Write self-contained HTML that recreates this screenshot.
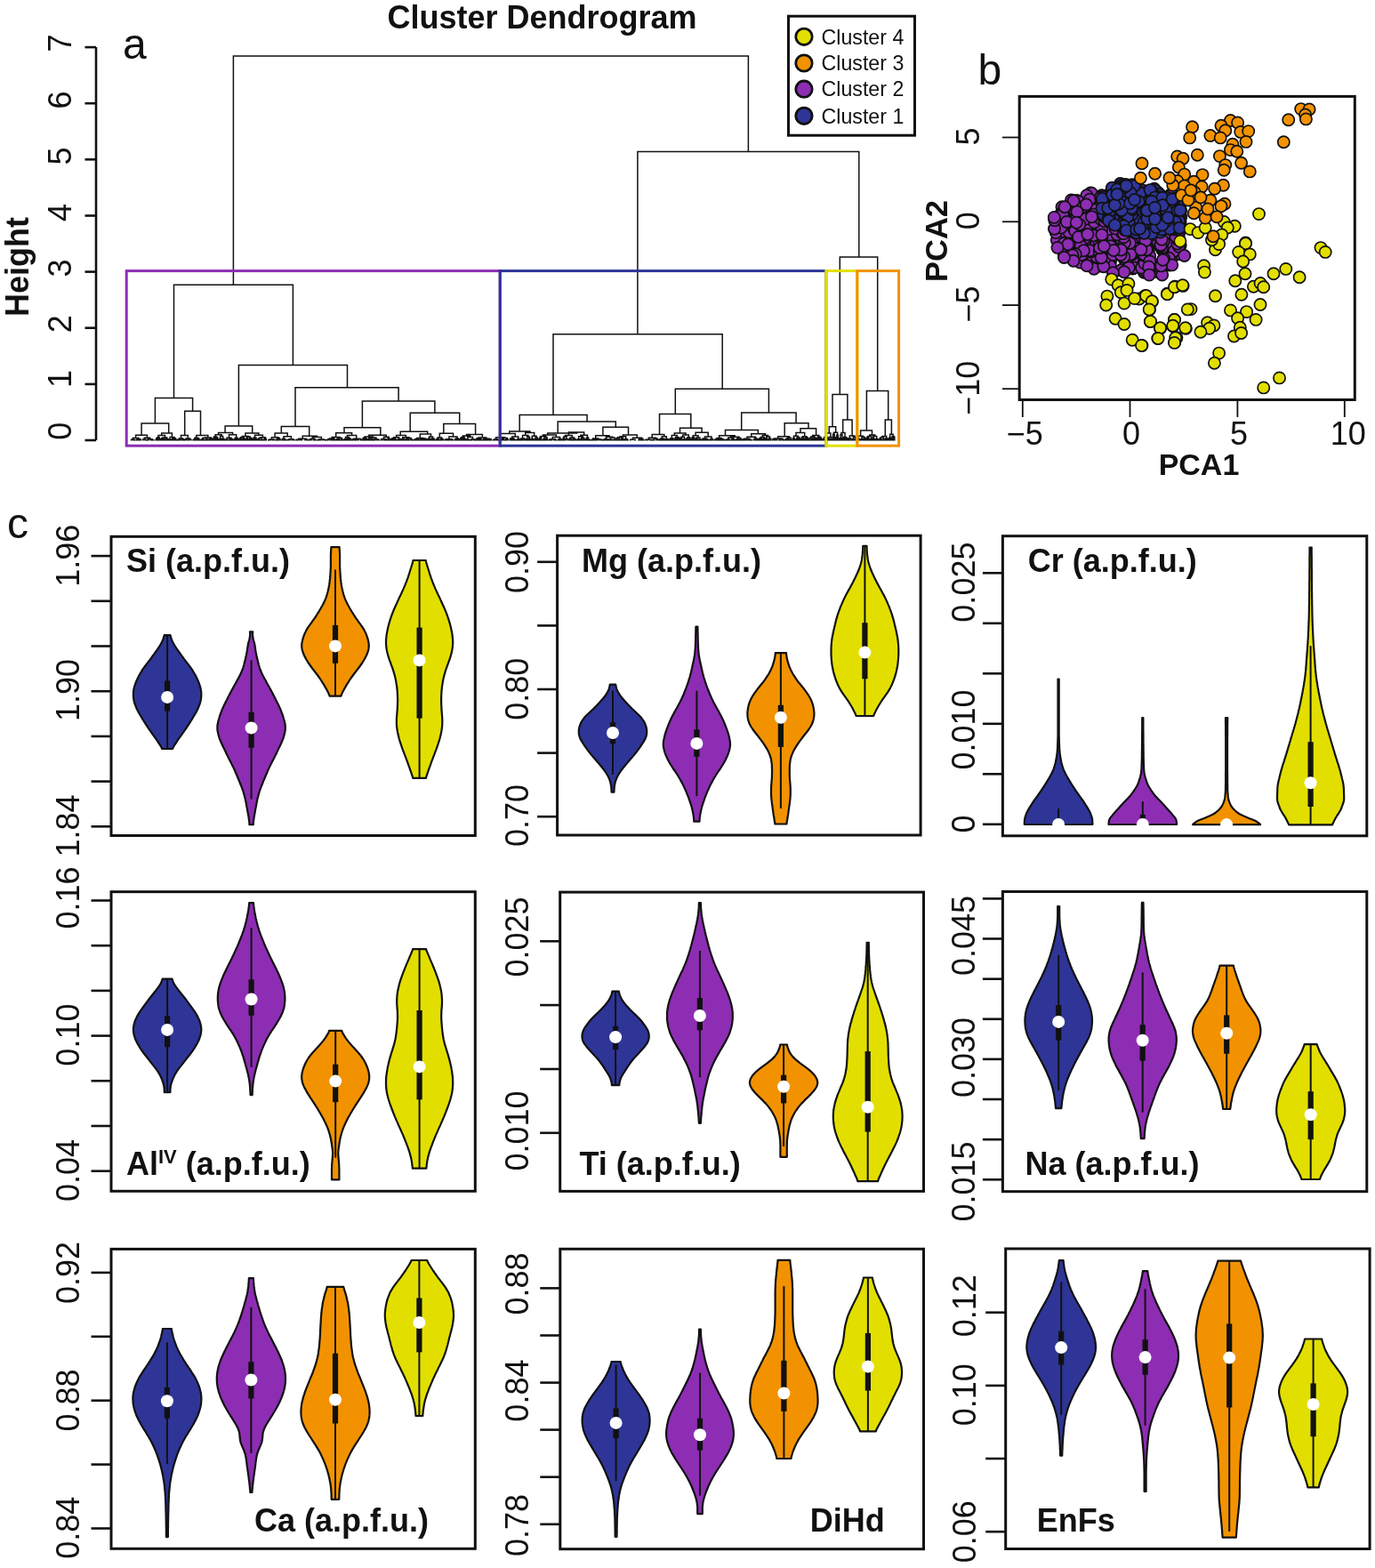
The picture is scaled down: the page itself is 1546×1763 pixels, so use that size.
<!DOCTYPE html><html><head><meta charset="utf-8"><title>Cluster analysis figure</title><style>html,body{margin:0;padding:0;background:#fff;}svg{display:block;}</style></head><body><svg xmlns="http://www.w3.org/2000/svg" width="1546" height="1763" viewBox="0 0 1546 1763" font-family="'Liberation Sans', Arial, Helvetica, sans-serif"><rect width="100%" height="100%" fill="#fff"/><line x1="108" y1="53.1" x2="108" y2="495" stroke="#111111" stroke-width="2.6" stroke-linecap="butt"/>
<line x1="95.5" y1="495" x2="108" y2="495" stroke="#111111" stroke-width="2.6" stroke-linecap="butt"/>
<text transform="translate(79.8,484.8) rotate(-90)" font-size="36" text-anchor="middle" fill="#111111">0</text>
<line x1="95.5" y1="431.9" x2="108" y2="431.9" stroke="#111111" stroke-width="2.6" stroke-linecap="butt"/>
<text transform="translate(79.8,426.1) rotate(-90)" font-size="36" text-anchor="middle" fill="#111111">1</text>
<line x1="95.5" y1="368.7" x2="108" y2="368.7" stroke="#111111" stroke-width="2.6" stroke-linecap="butt"/>
<text transform="translate(79.8,364.2) rotate(-90)" font-size="36" text-anchor="middle" fill="#111111">2</text>
<line x1="95.5" y1="305.6" x2="108" y2="305.6" stroke="#111111" stroke-width="2.6" stroke-linecap="butt"/>
<text transform="translate(79.8,301.6) rotate(-90)" font-size="36" text-anchor="middle" fill="#111111">3</text>
<line x1="95.5" y1="242.5" x2="108" y2="242.5" stroke="#111111" stroke-width="2.6" stroke-linecap="butt"/>
<text transform="translate(79.8,239) rotate(-90)" font-size="36" text-anchor="middle" fill="#111111">4</text>
<line x1="95.5" y1="179.3" x2="108" y2="179.3" stroke="#111111" stroke-width="2.6" stroke-linecap="butt"/>
<text transform="translate(79.8,175.6) rotate(-90)" font-size="36" text-anchor="middle" fill="#111111">5</text>
<line x1="95.5" y1="116.2" x2="108" y2="116.2" stroke="#111111" stroke-width="2.6" stroke-linecap="butt"/>
<text transform="translate(79.8,112.4) rotate(-90)" font-size="36" text-anchor="middle" fill="#111111">6</text>
<line x1="95.5" y1="53.1" x2="108" y2="53.1" stroke="#111111" stroke-width="2.6" stroke-linecap="butt"/>
<text transform="translate(79.8,48.4) rotate(-90)" font-size="36" text-anchor="middle" fill="#111111">7</text>
<text transform="translate(32.2,300) rotate(-90)" font-size="36" font-weight="bold" text-anchor="middle" fill="#111111">Height</text>
<text x="609.5" y="32" font-size="36" font-weight="bold" text-anchor="middle" fill="#111111">Cluster Dendrogram</text>
<text x="138" y="66" font-size="48" text-anchor="start" fill="#111111">a</text>
<path d="M149.9 495.4V494.7H151.9V495.4M147.6 495.4V494.3H150.9V494.7M153.7 495.4V494.4H154.6V495.4M156.2 495.4V494.6H157.5V495.4M156.8 494.6V494.1H158.5V495.4M154.2 494.4V493.7H157.7V494.1M149.3 494.3V492.6H155.9V493.7M163.1 495.4V494.6H164.1V495.4M160.8 495.4V494.1H163.6V494.6M165.5 495.4V494.8H167.1V495.4M169.5 495.4V494.7H172.9V495.4M166.3 494.8V493.8H171.2V494.7M162.2 494.1V492.2H168.7V493.8M152.6 492.6V489.3H165.5V492.2M175.2 495.4V494.3H176.6V495.4M175.9 494.3V492.8H177.7V495.4M178.7 495.4V493.6H179.8V495.4M176.8 492.8V491.7H179.2V493.6M181.2 495.4V493.6H182.6V495.4M183.8 495.4V493.6H184.8V495.4M181.9 493.6V492.6H184.3V493.6M186.2 495.4V494.2H187.4V495.4M188.4 495.4V493.9H189.3V495.4M186.8 494.2V493.6H188.9V493.9M183.1 492.6V491.9H187.8V493.6M178 491.7V489.6H185.5V491.9M191.5 495.4V494.6H192.5V495.4M190.2 495.4V493.9H192V494.6M193.3 495.4V494.3H194.2V495.4M193.8 494.3V493.1H195.3V495.4M197.2 495.4V494.4H198.2V495.4M196.4 495.4V493.2H197.7V494.4M194.5 493.1V492.5H197V493.2M191.1 493.9V491.4H195.8V492.5M181.7 489.6V486.9H193.4V491.4M199.5 495.4V494.5H200.9V495.4M200.2 494.5V494.2H202.2V495.4M203.9 495.4V494.3H205.5V495.4M206.3 495.4V494.2H207.2V495.4M204.7 494.3V493.9H206.8V494.2M201.2 494.2V493.1H205.7V493.9M208.2 495.4V494.3H210V495.4M211.7 495.4V494.7H212.7V495.4M212.2 494.7V494.1H214.8V495.4M209.1 494.3V492.9H213.5V494.1M203.5 493.1V489.6H211.3V492.9M217.1 495.4V494.7H218.4V495.4M217.8 494.7V494.1H220V495.4M220.9 495.4V493.6H221.9V495.4M223.1 495.4V494.4H224.6V495.4M221.4 493.6V493H223.8V494.4M218.9 494.1V492.3H222.6V493M226 495.4V494.5H227.2V495.4M226.6 494.5V493.9H228.6V495.4M230 495.4V494.7H231.2V495.4M230.6 494.7V494.5H232.6V495.4M233.6 495.4V494.5H234.4V495.4M231.6 494.5V494.2H234V494.5M227.6 493.9V492.6H232.8V494.2M235.4 495.4V493.7H236.2V495.4M235.8 493.7V493.4H237.1V495.4M237.8 495.4V494H238.7V495.4M236.5 493.4V492.9H238.3V494M230.2 492.6V491.9H237.4V492.9M220.7 492.3V489.6H233.8V491.9M240 495.4V492.4H241.1V495.4M242.1 495.4V492.7H242.9V495.4M243.9 495.4V493.5H245.3V495.4M242.5 492.7V491.8H244.6V493.5M240.6 492.4V490.9H243.6V491.8M246.6 495.4V493.9H247.5V495.4M247.1 493.9V493.3H248.2V495.4M249 495.4V494.1H249.9V495.4M251.3 495.4V494.5H252.5V495.4M249.5 494.1V493.3H251.9V494.5M247.6 493.3V490.4H250.7V493.3M242.1 490.9V488.8H249.2V490.4M253.6 495.4V494.6H254.5V495.4M254 494.6V494H255.9V495.4M257.6 495.4V494.4H258.6V495.4M258.1 494.4V493.8H259.6V495.4M261.4 495.4V494.6H262.2V495.4M260.6 495.4V494.3H261.8V494.6M258.9 493.8V493.4H261.2V494.3M255 494V492.3H260V493.4M263.5 495.4V493.8H265V495.4M266.4 495.4V493.4H267.8V495.4M264.3 493.8V492.2H267.1V493.4M257.5 492.3V488.7H265.7V492.2M245.6 488.8V486.4H261.6V488.7M268.9 495.4V493.7H269.9V495.4M270.9 495.4V494H271.8V495.4M269.4 493.7V493H271.4V494M272.8 495.4V494H273.6V495.4M274.5 495.4V493.6H275.8V495.4M273.2 494V493.2H275.1V493.6M270.4 493V491.7H274.2V493.2M277.2 495.4V492.6H278.4V495.4M279.8 495.4V494.1H281.1V495.4M282.1 495.4V493H283.1V495.4M280.5 494.1V492.4H282.6V493M277.8 492.6V491.3H281.5V492.4M272.3 491.7V490.4H279.7V491.3M284.5 495.4V493.8H285.8V495.4M288.4 495.4V494.5H289.2V495.4M287.1 495.4V493.6H288.8V494.5M285.1 493.8V491.9H287.9V493.6M290.4 495.4V494.1H291.6V495.4M292.5 495.4V494.6H293.7V495.4M295 495.4V494.6H296.2V495.4M293.1 494.6V494.4H295.6V494.6M291 494.1V492.6H294.4V494.4M298.2 495.4V493.6H299.3V495.4M297.3 495.4V492.3H298.7V493.6M292.7 492.6V491.7H298V492.3M286.5 491.9V489.3H295.4V491.7M276 490.4V487H290.9V489.3M301.7 495.4V494.7H304.2V495.4M306.4 495.4V494.5H309.1V495.4M303 494.7V494H307.8V494.5M310.9 495.4V494.3H312V495.4M313.4 495.4V494.1H315.2V495.4M311.5 494.3V492.5H314.3V494.1M305.4 494V491.7H312.9V492.5M317 495.4V494H318.4V495.4M319.8 495.4V494.4H320.8V495.4M317.7 494V493.2H320.3V494.4M322.4 495.4V494.6H324.4V495.4M323.4 494.6V494.5H326.6V495.4M328.9 495.4V494.4H330.9V495.4M325 494.5V493.8H329.9V494.4M319 493.2V490.8H327.4V493.8M309.1 491.7V486.9H323.2V490.8M332.9 495.4V494.6H334.5V495.4M336.4 495.4V494.6H339.5V495.4M333.7 494.6V494.3H338V494.6M345.5 495.4V494.6H347.2V495.4M342.9 495.4V494.4H346.4V494.6M335.8 494.3V493.2H344.6V494.4M348.4 495.4V494.1H350.3V495.4M353.7 495.4V494.7H355.1V495.4M352.4 495.4V494.1H354.4V494.7M349.4 494.1V493.3H353.4V494.1M356.9 495.4V494.8H358.2V495.4M359.3 495.4V494.8H360.2V495.4M357.6 494.8V494.5H359.8V494.8M365.3 495.4V494.7H366.8V495.4M362.4 495.4V494.5H366.1V494.7M358.7 494.5V494H364.2V494.5M351.4 493.3V491.4H361.4V494M340.2 493.2V490.3H356.4V491.4M368.2 495.4V494.2H370.2V495.4M371.9 495.4V494.2H373V495.4M369.2 494.2V493.6H372.4V494.2M374.1 495.4V494.4H375.1V495.4M376.1 495.4V494.4H377V495.4M374.6 494.4V493.9H376.6V494.4M370.8 493.6V493.1H375.6V493.9M378 495.4V494.4H379.4V495.4M380.9 495.4V494.6H381.9V495.4M378.7 494.4V493.4H381.4V494.6M383 495.4V494.7H384V495.4M384.9 495.4V494.6H386.1V495.4M383.5 494.7V494.3H385.5V494.6M380.1 493.4V492.4H384.5V494.3M373.2 493.1V491.5H382.3V492.4M387.4 495.4V494.1H388.2V495.4M387.8 494.1V493.6H389.2V495.4M390.5 495.4V493.3H391.5V495.4M392.2 495.4V494.5H393.2V495.4M394.3 495.4V494.4H395.3V495.4M392.7 494.5V494.2H394.8V494.4M391 493.3V492.8H393.8V494.2M388.5 493.6V491.6H392.4V492.8M398 495.4V494.6H399.3V495.4M396.3 495.4V494.1H398.7V494.6M400.6 495.4V494.4H403.1V495.4M405.4 495.4V494.8H406.7V495.4M401.8 494.4V493.6H406V494.8M397.5 494.1V493.3H403.9V493.6M390.4 491.6V489.4H400.7V493.3M377.7 491.5V486.8H395.6V489.4M408.1 495.4V492.8H409.2V495.4M409.9 495.4V493.5H410.9V495.4M411.7 495.4V493.9H412.8V495.4M410.4 493.5V493.1H412.3V493.9M408.6 492.8V492.2H411.3V493.1M414.1 495.4V493.7H415.3V495.4M416.7 495.4V494.6H417.8V495.4M417.2 494.6V494.1H418.8V495.4M414.7 493.7V492.6H418V494.1M419.7 495.4V494.6H420.5V495.4M420.1 494.6V494.2H421.6V495.4M423.5 495.4V494.5H426.3V495.4M420.8 494.2V493.8H424.9V494.5M416.3 492.6V492H422.9V493.8M410 492.2V490.9H419.6V492M428.4 495.4V494.1H430V495.4M432 495.4V494.7H433.5V495.4M432.8 494.7V494.3H434.8V495.4M429.2 494.1V493.4H433.8V494.3M437.3 495.4V494.3H438.4V495.4M436.2 495.4V492.5H437.8V494.3M431.5 493.4V491.2H437V492.5M414.8 490.9V489.3H434.2V491.2M441.1 495.4V494.6H442.1V495.4M439.7 495.4V493.8H441.6V494.6M442.9 495.4V494.3H443.9V495.4M445 495.4V494.8H445.9V495.4M443.4 494.3V494H445.4V494.8M440.7 493.8V492.8H444.4V494M447.1 495.4V494.7H448.3V495.4M447.7 494.7V493.4H449.5V495.4M442.6 492.8V491.8H448.6V493.4M451.8 495.4V494.7H452.7V495.4M450.8 495.4V493.8H452.2V494.7M453.6 495.4V493.7H454.4V495.4M451.5 493.8V493.4H454V493.7M455.7 495.4V494.5H457.2V495.4M458.3 495.4V493.9H459.3V495.4M456.4 494.5V493.5H458.8V493.9M462.8 495.4V494.7H464.6V495.4M460.9 495.4V494.3H463.7V494.7M457.6 493.5V492.4H462.3V494.3M452.8 493.4V491.7H460V492.4M445.6 491.8V489.6H456.4V491.7M467.5 495.4V494.2H468.6V495.4M466.2 495.4V494H468V494.2M469.7 495.4V494.4H471.2V495.4M467.1 494V493.6H470.4V494.4M473.8 495.4V494.5H474.8V495.4M472.6 495.4V493.7H474.3V494.5M477.3 495.4V494.7H478.3V495.4M476 495.4V493.9H477.8V494.7M479.3 495.4V494.2H480.3V495.4M476.9 493.9V493.4H479.8V494.2M473.4 493.7V492.9H478.4V493.4M468.8 493.6V492.4H475.9V492.9M481.1 495.4V493.7H482.1V495.4M481.6 493.7V493.3H483.4V495.4M484.6 495.4V494.5H485.6V495.4M486.6 495.4V494.6H487.7V495.4M487.1 494.6V494.4H489V495.4M485.1 494.5V492.9H488.1V494.4M482.5 493.3V490.9H486.6V492.9M472.3 492.4V487.9H484.5V490.9M490.2 495.4V494.6H491.3V495.4M492.5 495.4V494.8H493.9V495.4M490.8 494.6V493.6H493.2V494.8M495.3 495.4V494H496.2V495.4M497.1 495.4V494H498.2V495.4M495.7 494V493.6H497.6V494M492 493.6V492H496.7V493.6M501.6 495.4V494.7H502.6V495.4M504 495.4V494.6H505.5V495.4M502.1 494.7V494.4H504.7V494.6M500 495.4V494.2H503.4V494.4M507.1 495.4V494.8H509.3V495.4M501.7 494.2V493.8H508.2V494.8M511.2 495.4V494.7H512.4V495.4M511.8 494.7V493.4H513.7V495.4M514.8 495.4V493.7H516V495.4M512.8 493.4V492.9H515.4V493.7M504.9 493.8V490.9H514.1V492.9M494.3 492V487.2H509.5V490.9M517.3 495.4V493.9H518.2V495.4M519.2 495.4V493.8H520.4V495.4M517.7 493.9V492.4H519.8V493.8M522.3 495.4V494H523.1V495.4M521.3 495.4V492.8H522.7V494M518.8 492.4V491.4H522V492.8M523.8 495.4V494.3H525V495.4M526.3 495.4V494.5H527.4V495.4M524.4 494.3V493.9H526.9V494.5M528.7 495.4V494.8H530.6V495.4M532.6 495.4V494.2H534V495.4M529.7 494.8V493.9H533.3V494.2M525.6 493.9V491.5H531.5V493.9M520.4 491.4V490H528.6V491.5M535.3 495.4V493.9H536.8V495.4M538.1 495.4V493.4H539.2V495.4M540.4 495.4V494.5H541.2V495.4M538.7 493.4V493.1H540.8V494.5M536.1 493.9V492.7H539.7V493.1M542.2 495.4V494.6H543.4V495.4M542.8 494.6V494.4H544.8V495.4M546.3 495.4V494.4H547.6V495.4M548.8 495.4V494.7H549.9V495.4M547 494.4V493.9H549.4V494.7M551.2 495.4V494.7H552.7V495.4M548.2 493.9V493.5H552V494.7M543.8 494.4V493.2H550.1V493.5M537.9 492.7V491.9H546.9V493.2M524.5 490V488.4H542.4V491.9M554.7 495.4V494.8H556.8V495.4M558.6 495.4V494.7H560.5V495.4M555.7 494.8V493.7H559.5V494.7M562.6 495.4V494.7H564.3V495.4M565.9 495.4V494.5H566.7V495.4M563.5 494.7V494H566.3V494.5M568.1 495.4V494.8H569.8V495.4M568.9 494.8V494H571.6V495.4M564.9 494V492.6H570.3V494M557.6 493.7V491.7H567.6V492.6M573.6 495.4V493.8H574.7V495.4M575.6 495.4V494.4H576.8V495.4M578 495.4V494.7H579.4V495.4M576.2 494.4V493.7H578.7V494.7M574.1 493.8V492.8H577.4V493.7M580.6 495.4V494.7H581.6V495.4M581.1 494.7V494.5H582.7V495.4M581.9 494.5V493.5H583.7V495.4M575.8 492.8V491H582.8V493.5M562.6 491.7V487.5H579.3V491M584.8 495.4V494.8H585.7V495.4M585.2 494.8V494H586.7V495.4M589.7 495.4V494H591.1V495.4M588 495.4V493.5H590.4V494M585.9 494V492.9H589.2V493.5M593 495.4V494.4H593.8V495.4M592.1 495.4V493.8H593.4V494.4M594.7 495.4V492.1H595.5V495.4M592.7 493.8V491.1H595.1V492.1M587.6 492.9V489.6H593.9V491.1M596.6 495.4V494.5H597.8V495.4M598.8 495.4V494H600V495.4M597.2 494.5V493.5H599.4V494M601.3 495.4V494H602.5V495.4M604.5 495.4V493.9H605.4V495.4M603.6 495.4V493.4H604.9V493.9M601.9 494V492H604.2V493.4M598.3 493.5V490.2H603.1V492M590.7 489.6V486.4H600.7V490.2M606.6 495.4V492.5H607.6V495.4M607.1 492.5V491.5H608.7V495.4M610.2 495.4V494.7H611.7V495.4M611 494.7V493.6H613V495.4M614.1 495.4V492.3H615.2V495.4M612 493.6V491.2H614.6V492.3M607.9 491.5V490.4H613.3V491.2M618.8 495.4V494.7H620.6V495.4M616.8 495.4V494.5H619.7V494.7M623 495.4V494.8H625.7V495.4M618.3 494.5V493.7H624.4V494.8M627.6 495.4V494.4H629.1V495.4M631 495.4V494.4H631.8V495.4M630.2 495.4V493.9H631.4V494.4M628.3 494.4V493.6H630.8V493.9M621.3 493.7V491.6H629.6V493.6M610.6 490.4V489H625.4V491.6M632.8 495.4V493.9H633.7V495.4M633.3 493.9V492.2H634.5V495.4M635.9 495.4V493.8H638.2V495.4M633.9 492.2V491H637.1V493.8M639.9 495.4V493.6H640.7V495.4M641.5 495.4V494.5H642.3V495.4M640.3 493.6V493.2H641.9V494.5M643.5 495.4V494.5H644.8V495.4M647.4 495.4V494.4H648.2V495.4M646.2 495.4V494.2H647.8V494.4M644.2 494.5V493.5H647V494.2M641.1 493.2V492H645.6V493.5M635.5 491V489.4H643.3V492M649.2 495.4V494.5H650.2V495.4M651.1 495.4V494.3H652V495.4M649.7 494.5V493.8H651.5V494.3M654 495.4V494.8H655V495.4M653 495.4V493.7H654.5V494.8M656.9 495.4V494.5H657.8V495.4M655.9 495.4V494H657.4V494.5M653.7 493.7V492.3H656.7V494M650.6 493.8V490.8H655.2V492.3M658.9 495.4V493.7H660V495.4M661.7 495.4V494.5H662.8V495.4M660.8 495.4V494.1H662.3V494.5M659.4 493.7V492H661.5V494.1M652.9 490.8V489.2H660.5V492M639.4 489.4V485.9H656.7V489.2M664.3 495.4V494.8H666V495.4M667.3 495.4V494.7H668.4V495.4M665.2 494.8V494.5H667.9V494.7M669.7 495.4V494.5H671.5V495.4M675.8 495.4V494.6H677.4V495.4M673.7 495.4V494.3H676.6V494.6M670.6 494.5V494.1H675.2V494.3M666.5 494.5V492.9H672.9V494.1M678.6 495.4V494.6H679.8V495.4M679.2 494.6V494H680.8V495.4M681.6 495.4V494.5H682.4V495.4M682 494.5V494H683.5V495.4M680 494V493.4H682.8V494M684.4 495.4V494.2H685.3V495.4M686.9 495.4V494.6H688.7V495.4M684.9 494.2V494H687.8V494.6M690.3 495.4V494.2H691.6V495.4M686.3 494V492H691V494.2M681.4 493.4V491.2H688.7V492M669.7 492.9V489.8H685V491.2M692.5 495.4V494.1H693.5V495.4M694.6 495.4V494.5H695.7V495.4M696.8 495.4V494.6H697.7V495.4M695.2 494.5V494.2H697.2V494.6M693 494.1V492.5H696.2V494.2M699.8 495.4V494H700.7V495.4M698.8 495.4V492.4H700.3V494M694.6 492.5V491.7H699.5V492.4M701.9 495.4V493.9H703V495.4M705.2 495.4V494.6H706V495.4M704.2 495.4V494.3H705.6V494.6M702.5 493.9V493.6H704.9V494.3M697.1 491.7V490.8H703.7V493.6M708.6 495.4V494.2H714.2V495.4M718.1 495.4V494.2H719.1V495.4M720.3 495.4V493.9H721.2V495.4M718.6 494.2V493.4H720.7V493.9M722.1 495.4V494.6H723.3V495.4M719.7 493.4V493.1H722.7V494.6M711.4 494.2V492.3H721.2V493.1M700.4 490.8V489.1H716.3V492.3M725.2 495.4V494.5H728.1V495.4M731 495.4V494.6H733V495.4M726.6 494.5V494.2H732V494.6M734.5 495.4V494.4H735.7V495.4M740.1 495.4V494.8H741V495.4M737.9 495.4V494.3H740.6V494.8M735.1 494.4V493.1H739.2V494.3M729.3 494.2V492.3H737.2V493.1M743.2 495.4V494.2H744.2V495.4M742.1 495.4V493.8H743.7V494.2M745.3 495.4V493.7H746.2V495.4M742.9 493.8V493H745.8V493.7M747.9 495.4V494.7H748.8V495.4M747 495.4V494H748.3V494.7M749.7 495.4V494.7H750.5V495.4M751.2 495.4V494.1H752.3V495.4M750.1 494.7V493.9H751.8V494.1M747.7 494V493.4H751V493.9M744.3 493V490.8H749.3V493.4M733.2 492.3V488.4H746.8V490.8M753.3 495.4V494.2H754.2V495.4M755.4 495.4V494.5H756.4V495.4M755.9 494.5V494H757.7V495.4M753.8 494.2V492.8H756.8V494M759.1 495.4V492.6H760.5V495.4M763.3 495.4V493.2H764.2V495.4M762 495.4V492.2H763.8V493.2M759.8 492.6V491.5H762.9V492.2M755.3 492.8V489.5H761.3V491.5M765.2 495.4V492.6H766.7V495.4M768 495.4V494.6H769.1V495.4M770.2 495.4V494.5H771.1V495.4M768.6 494.6V493.7H770.7V494.5M765.9 492.6V491.2H769.6V493.7M772.3 495.4V492.7H773.7V495.4M775.1 495.4V493.4H776.2V495.4M773 492.7V491.8H775.7V493.4M767.8 491.2V489.1H774.3V491.8M758.3 489.5V486.9H771.1V489.1M777.6 495.4V493.2H778.8V495.4M779.8 495.4V493H780.7V495.4M778.2 493.2V491.8H780.3V493M781.5 495.4V494.1H782.8V495.4M782.2 494.1V492.9H784.1V495.4M785.1 495.4V494.6H786.2V495.4M787.5 495.4V494.4H788.6V495.4M785.7 494.6V494H788V494.4M783.1 492.9V491.9H786.9V494M779.2 491.8V489.8H785V491.9M789.9 495.4V493.6H791.3V495.4M792.6 495.4V493.9H793.6V495.4M795.9 495.4V494.8H796.8V495.4M794.8 495.4V494.4H796.3V494.8M793.1 493.9V493.6H795.6V494.4M790.6 493.6V493H794.3V493.6M797.9 495.4V494.4H799.5V495.4M800.8 495.4V494.3H801.7V495.4M798.7 494.4V493.4H801.2V494.3M792.5 493V490.9H800V493.4M782.1 489.8V486.2H796.2V490.9M803.5 495.4V494.5H805.3V495.4M806.6 495.4V494.4H807.5V495.4M807 494.4V494H808.3V495.4M804.4 494.5V493.7H807.7V494M809.2 495.4V493.8H810.2V495.4M811.2 495.4V494.4H812.1V495.4M813.2 495.4V494.7H814.6V495.4M811.6 494.4V494H813.9V494.7M809.7 493.8V493.4H812.8V494M806 493.7V492.4H811.2V493.4M815.9 495.4V494.7H817.1V495.4M816.5 494.7V494.3H818.3V495.4M819.4 495.4V494.6H821.1V495.4M817.4 494.3V493.9H820.2V494.6M822.8 495.4V494H823.7V495.4M824.5 495.4V494H825.5V495.4M823.2 494V493.1H825V494M818.8 493.9V492.1H824.1V493.1M826.9 495.4V494.8H828.7V495.4M829.9 495.4V494.3H830.7V495.4M827.8 494.8V493.8H830.3V494.3M831.7 495.4V494.4H832.7V495.4M832.2 494.4V493.7H833.5V495.4M829.1 493.8V492.4H832.9V493.7M821.5 492.1V491.3H831V492.4M808.6 492.4V489.7H826.2V491.3M834.9 495.4V494.5H836.3V495.4M837.6 495.4V494.4H839.2V495.4M835.6 494.5V493.8H838.4V494.4M840.9 495.4V494.6H842.4V495.4M843.6 495.4V494.7H845V495.4M841.7 494.6V494.4H844.3V494.7M837 493.8V493.2H843V494.4M847.2 495.4V494.5H849.2V495.4M850.4 495.4V493.7H851.7V495.4M848.2 494.5V493H851V493.7M840 493.2V491.3H849.6V493M852.8 495.4V494.6H853.7V495.4M853.2 494.6V493.6H854.7V495.4M855.8 495.4V493.7H857V495.4M854 493.6V492.8H856.4V493.7M858.3 495.4V493.6H859.3V495.4M858.8 493.6V492.8H860V495.4M855.2 492.8V491.4H859.4V492.8M861.1 495.4V493.2H862.5V495.4M864.6 495.4V494.7H865.5V495.4M863.7 495.4V494.5H865.1V494.7M864.4 494.5V493H866.6V495.4M861.8 493.2V491H865.5V493M857.3 491.4V489.5H863.6V491M844.8 491.3V487.8H860.5V489.5M868.4 495.4V494.2H870.4V495.4M871.8 495.4V494.6H873.9V495.4M869.4 494.2V493.3H872.9V494.6M876.1 495.4V493.6H877.3V495.4M880.7 495.4V494.8H881.6V495.4M879 495.4V494.6H881.2V494.8M876.7 493.6V493.3H880.1V494.6M871.1 493.3V492.9H878.4V493.3M882.8 495.4V494.6H883.9V495.4M883.4 494.6V493.8H884.8V495.4M886.1 495.4V494.1H887.4V495.4M884.1 493.8V493.2H886.7V494.1M888.6 495.4V494.2H890.2V495.4M885.4 493.2V492.3H889.4V494.2M874.8 492.9V490.8H887.4V492.3M891.8 495.4V492.6H893.2V495.4M894.6 495.4V494.4H895.6V495.4M896.5 495.4V494.4H897.3V495.4M895.1 494.4V493.6H896.9V494.4M898.5 495.4V493.2H899.6V495.4M896 493.6V492.1H899.1V493.2M892.5 492.6V490.2H897.5V492.1M900.5 495.4V494.3H901.3V495.4M900.9 494.3V493.4H902.1V495.4M903 495.4V493.2H904.1V495.4M901.5 493.4V491.5H903.6V493.2M905.4 495.4V493.1H906.3V495.4M907.3 495.4V492.7H908.4V495.4M905.9 493.1V491.8H907.9V492.7M902.5 491.5V490.7H906.9V491.8M895 490.2V486.6H904.7V490.7M909.5 495.4V494.2H910.7V495.4M911.8 495.4V494.5H912.8V495.4M912.3 494.5V493.5H913.8V495.4M910.1 494.2V492.4H913V493.5M916.1 495.4V492.8H917.1V495.4M914.9 495.4V491.9H916.6V492.8M911.6 492.4V491.1H915.8V491.9M918.1 495.4V493.8H919.1V495.4M918.6 493.8V492.7H920V495.4M920.9 495.4V493.1H921.8V495.4M923.6 495.4V493.9H924.5V495.4M922.7 495.4V493.6H924V493.9M921.3 493.1V492.1H923.3V493.6M919.3 492.7V491.2H922.3V492.1M913.7 491.1V489.5H920.8V491.2M926.5 495.4V494.4H927.4V495.4M927 494.4V493.7H928.4V495.4M925.6 495.4V493.4H927.7V493.7M929.7 495.4V493.7H930.8V495.4M930.3 493.7V493H931.8V495.4M926.6 493.4V491.5H931V493M934.3 495.4V493.9H935.4V495.4M933 495.4V491.3H934.9V493.9M928.8 491.5V487H933.9V491.3M938.5 495.4V493.5H939.3V495.4M937.6 495.4V491.5H938.9V493.5M936.6 495.4V488.3H938.3V491.5M940.3 495.4V491.9H941.2V495.4M941.9 495.4V492.7H943V495.4M940.8 491.9V489.2H942.4V492.7M937.4 488.3V486.2H941.6V489.2M944.4 495.4V492.8H945.7V495.4M945.1 492.8V488.5H947V495.4M948.2 495.4V492.6H949.2V495.4M950 495.4V494.1H951V495.4M950.5 494.1V492.3H952.2V495.4M948.7 492.6V491.6H951.4V492.3M946 488.5V486.4H950V491.6M953.4 495.4V493.6H954.4V495.4M955.9 495.4V494.5H957.6V495.4M953.9 493.6V492.8H956.7V494.5M959.7 495.4V494.1H960.8V495.4M958.6 495.4V493.7H960.2V494.1M961.7 495.4V493.1H962.5V495.4M959.4 493.7V491.4H962.1V493.1M955.3 492.8V490.1H960.8V491.4M966 495.4V494.6H967V495.4M965 495.4V493.8H966.5V494.6M963.6 495.4V492.9H965.7V493.8M969.3 495.4V494.7H970.2V495.4M968.2 495.4V493.7H969.8V494.7M970.8 495.4V494.4H971.9V495.4M971.3 494.4V493.1H973.3V495.4M969 493.7V491.6H972.3V493.1M964.7 492.9V490.2H970.6V491.6M974.6 495.4V492.1H975.5V495.4M977.1 495.4V494.6H978V495.4M976.3 495.4V493.9H977.5V494.6M975.1 492.1V491.3H976.9V493.9M979.1 495.4V493.4H980V495.4M976 491.3V490.4H979.5V493.4M981.9 495.4V493.2H982.8V495.4M981 495.4V492.3H982.4V493.2M983.8 495.4V494.2H985.1V495.4M986.5 495.4V494.4H987.5V495.4M984.5 494.2V493.4H987V494.4M981.7 492.3V490.6H985.7V493.4M977.8 490.4V489.1H983.7V490.6M988.6 495.4V494.2H989.7V495.4M989.1 494.2V493H990.7V495.4M991.9 495.4V494.7H993.2V495.4M992.5 494.7V494.1H994.6V495.4M989.9 493V492.1H993.6V494.1M996.9 495.4V493.7H998.1V495.4M995.9 495.4V492.8H997.5V493.7M991.7 492.1V490.6H996.7V492.8M999.3 495.4V493H1000.3V495.4M999.8 493V492.2H1001.7V495.4M1004.4 495.4V491.3H1005.8V495.4M1003.1 495.4V490.4H1005.1V491.3M1000.7 492.2V488.3H1004.1V490.4M159.1 489.3V475.9H189.7V486.9M207.7 489.6V462.2H225.5V489.6M174.4 475.9V447.4H216.6V462.2M253.1 486.4V479.1H283.7V487M316.3 486.9V479.4H347.7V490.3M387 486.8V480.8H427.8V489.3M450.2 489.6V485.2H480.7V487.9M498.8 487.2V476.5H534.6V488.4M461.2 485.2V464.2H516.7V476.5M407.4 480.8V450.9H488.9V464.2M332 479.4V435.7H448.1V450.9M268.4 479.1V410.4H390.5V435.7M195.5 447.4V320.2H329.4V410.4M572.8 487.5V484.9H595.9V486.4M615.8 489V487H648.7V485.9M677.9 489.8V480.3H706.5V489.1M627.2 487V474.1H692.3V480.3M584.2 484.9V466.5H660.1V474.1M764.5 486.9V481.2H789.1V486.2M741.5 488.4V465.5H776.8V481.2M815.5 489.7V483.4H852.4V487.8M900 486.6V481.8H917.6V489.5M882.2 490.8V475.7H909V481.8M833.7 483.4V464H895.1V475.7M759.3 465.5V437.3H864.4V464M622 466.5V375.8H812.2V437.3M932.3 487V479.7H939.7V486.2M947.7 486.4V472H958.1V490.1M936 479.7V443.4H952.9V472M967.6 490.2V484H980.5V489.1M995.3 490.6V472H1002.4V488.3M974.4 484V439.4H998.7V472M944.3 443.4V288.9H986.7V439.4M716.9 375.8V170.6H965.8V288.9M262.4 320.2V63H841.4V170.6" fill="none" stroke="#111111" stroke-width="1.5" stroke-linejoin="miter"/>
<rect x="142.2" y="304.6" width="420" height="196.6" fill="none" stroke="#8D2DB3" stroke-width="3"/>
<rect x="562.2" y="304.6" width="366.6" height="196.6" fill="none" stroke="#2E3597" stroke-width="3"/>
<rect x="928.8" y="304.6" width="35" height="196.6" fill="none" stroke="#E2DF00" stroke-width="3"/>
<rect x="963.8" y="304.6" width="46.8" height="196.6" fill="none" stroke="#F29200" stroke-width="3"/>
<rect x="886.5" y="18.2" width="142" height="134" fill="none" stroke="#111111" stroke-width="3"/>
<circle cx="904" cy="41.3" r="9.2" fill="#E2DF00" stroke="#111111" stroke-width="2.8"/>
<text x="923.5" y="49.5" font-size="23.2" text-anchor="start" fill="#111111">Cluster 4</text>
<circle cx="904" cy="71" r="9.2" fill="#F29200" stroke="#111111" stroke-width="2.8"/>
<text x="923.5" y="79.2" font-size="23.2" text-anchor="start" fill="#111111">Cluster 3</text>
<circle cx="904" cy="100.2" r="9.2" fill="#8D2DB3" stroke="#111111" stroke-width="2.8"/>
<text x="923.5" y="108.4" font-size="23.2" text-anchor="start" fill="#111111">Cluster 2</text>
<circle cx="904" cy="130.3" r="9.2" fill="#2E3597" stroke="#111111" stroke-width="2.8"/>
<text x="923.5" y="138.5" font-size="23.2" text-anchor="start" fill="#111111">Cluster 1</text>
<text x="1099.5" y="95" font-size="48" text-anchor="start" fill="#111111">b</text>
<line x1="1149.8" y1="449.5" x2="1149.8" y2="469" stroke="#111111" stroke-width="1.8" stroke-linecap="butt"/>
<text x="1152.3" y="500" font-size="36" text-anchor="middle" fill="#111111">−5</text>
<line x1="1270.5" y1="449.5" x2="1270.5" y2="469" stroke="#111111" stroke-width="1.8" stroke-linecap="butt"/>
<text x="1272" y="500" font-size="36" text-anchor="middle" fill="#111111">0</text>
<line x1="1391.4" y1="449.5" x2="1391.4" y2="469" stroke="#111111" stroke-width="1.8" stroke-linecap="butt"/>
<text x="1392.9" y="500" font-size="36" text-anchor="middle" fill="#111111">5</text>
<line x1="1511.8" y1="449.5" x2="1511.8" y2="469" stroke="#111111" stroke-width="1.8" stroke-linecap="butt"/>
<text x="1515.8" y="500" font-size="36" text-anchor="middle" fill="#111111">10</text>
<line x1="1127" y1="154.5" x2="1146.2" y2="154.5" stroke="#111111" stroke-width="1.8" stroke-linecap="butt"/>
<text transform="translate(1101.4,153.5) rotate(-90)" font-size="36" text-anchor="middle" fill="#111111">5</text>
<line x1="1127" y1="249.3" x2="1146.2" y2="249.3" stroke="#111111" stroke-width="1.8" stroke-linecap="butt"/>
<text transform="translate(1101.4,248.3) rotate(-90)" font-size="36" text-anchor="middle" fill="#111111">0</text>
<line x1="1127" y1="343.1" x2="1146.2" y2="343.1" stroke="#111111" stroke-width="1.8" stroke-linecap="butt"/>
<text transform="translate(1101.4,342.1) rotate(-90)" font-size="36" text-anchor="middle" fill="#111111">−5</text>
<line x1="1127" y1="437.2" x2="1146.2" y2="437.2" stroke="#111111" stroke-width="1.8" stroke-linecap="butt"/>
<text transform="translate(1101.4,436.2) rotate(-90)" font-size="36" text-anchor="middle" fill="#111111">−10</text>
<text x="1348" y="533.7" font-size="34" font-weight="bold" text-anchor="middle" fill="#111111">PCA1</text>
<text transform="translate(1064.5,271) rotate(-90)" font-size="34.5" font-weight="bold" text-anchor="middle" fill="#111111">PCA2</text>
<g>
<circle cx="1250" cy="266" r="6.6" fill="#8D2DB3" stroke="#111111" stroke-width="1.7"/>
<circle cx="1318.9" cy="256.6" r="6.6" fill="#8D2DB3" stroke="#111111" stroke-width="1.7"/>
<circle cx="1258.1" cy="268.7" r="6.6" fill="#8D2DB3" stroke="#111111" stroke-width="1.7"/>
<circle cx="1211" cy="261.2" r="6.6" fill="#8D2DB3" stroke="#111111" stroke-width="1.7"/>
<circle cx="1276" cy="289.3" r="6.6" fill="#8D2DB3" stroke="#111111" stroke-width="1.7"/>
<circle cx="1197.7" cy="240.3" r="6.6" fill="#8D2DB3" stroke="#111111" stroke-width="1.7"/>
<circle cx="1285.2" cy="214.2" r="6.6" fill="#8D2DB3" stroke="#111111" stroke-width="1.7"/>
<circle cx="1279.5" cy="271.6" r="6.6" fill="#8D2DB3" stroke="#111111" stroke-width="1.7"/>
<circle cx="1261.1" cy="216" r="6.6" fill="#8D2DB3" stroke="#111111" stroke-width="1.7"/>
<circle cx="1211.8" cy="234.2" r="6.6" fill="#8D2DB3" stroke="#111111" stroke-width="1.7"/>
<circle cx="1188.4" cy="256.4" r="6.6" fill="#8D2DB3" stroke="#111111" stroke-width="1.7"/>
<circle cx="1248.3" cy="294.2" r="6.6" fill="#8D2DB3" stroke="#111111" stroke-width="1.7"/>
<circle cx="1259.8" cy="274" r="6.6" fill="#8D2DB3" stroke="#111111" stroke-width="1.7"/>
<circle cx="1257" cy="276.2" r="6.6" fill="#8D2DB3" stroke="#111111" stroke-width="1.7"/>
<circle cx="1250.8" cy="237.8" r="6.6" fill="#8D2DB3" stroke="#111111" stroke-width="1.7"/>
<circle cx="1306.7" cy="280.8" r="6.6" fill="#8D2DB3" stroke="#111111" stroke-width="1.7"/>
<circle cx="1230" cy="233" r="6.6" fill="#8D2DB3" stroke="#111111" stroke-width="1.7"/>
<circle cx="1226.2" cy="217" r="6.6" fill="#8D2DB3" stroke="#111111" stroke-width="1.7"/>
<circle cx="1295.9" cy="250" r="6.6" fill="#8D2DB3" stroke="#111111" stroke-width="1.7"/>
<circle cx="1307.6" cy="248.7" r="6.6" fill="#8D2DB3" stroke="#111111" stroke-width="1.7"/>
<circle cx="1316.9" cy="257" r="6.6" fill="#8D2DB3" stroke="#111111" stroke-width="1.7"/>
<circle cx="1327.1" cy="249.7" r="6.6" fill="#8D2DB3" stroke="#111111" stroke-width="1.7"/>
<circle cx="1194.7" cy="272.9" r="6.6" fill="#8D2DB3" stroke="#111111" stroke-width="1.7"/>
<circle cx="1297.7" cy="237" r="6.6" fill="#8D2DB3" stroke="#111111" stroke-width="1.7"/>
<circle cx="1196.7" cy="243.3" r="6.6" fill="#8D2DB3" stroke="#111111" stroke-width="1.7"/>
<circle cx="1324.8" cy="285.8" r="6.6" fill="#8D2DB3" stroke="#111111" stroke-width="1.7"/>
<circle cx="1201.2" cy="234.6" r="6.6" fill="#8D2DB3" stroke="#111111" stroke-width="1.7"/>
<circle cx="1300.4" cy="227.8" r="6.6" fill="#8D2DB3" stroke="#111111" stroke-width="1.7"/>
<circle cx="1265.7" cy="254.7" r="6.6" fill="#8D2DB3" stroke="#111111" stroke-width="1.7"/>
<circle cx="1211.8" cy="283.2" r="6.6" fill="#8D2DB3" stroke="#111111" stroke-width="1.7"/>
<circle cx="1203.1" cy="274.4" r="6.6" fill="#8D2DB3" stroke="#111111" stroke-width="1.7"/>
<circle cx="1201" cy="252.1" r="6.6" fill="#8D2DB3" stroke="#111111" stroke-width="1.7"/>
<circle cx="1215.1" cy="237" r="6.6" fill="#8D2DB3" stroke="#111111" stroke-width="1.7"/>
<circle cx="1228.4" cy="298.5" r="6.6" fill="#8D2DB3" stroke="#111111" stroke-width="1.7"/>
<circle cx="1214.8" cy="249.4" r="6.6" fill="#8D2DB3" stroke="#111111" stroke-width="1.7"/>
<circle cx="1308.7" cy="274.2" r="6.6" fill="#8D2DB3" stroke="#111111" stroke-width="1.7"/>
<circle cx="1215.1" cy="235.8" r="6.6" fill="#8D2DB3" stroke="#111111" stroke-width="1.7"/>
<circle cx="1296.8" cy="242.9" r="6.6" fill="#8D2DB3" stroke="#111111" stroke-width="1.7"/>
<circle cx="1227.3" cy="217.3" r="6.6" fill="#8D2DB3" stroke="#111111" stroke-width="1.7"/>
<circle cx="1197.2" cy="268.3" r="6.6" fill="#8D2DB3" stroke="#111111" stroke-width="1.7"/>
<circle cx="1219.5" cy="270.1" r="6.6" fill="#8D2DB3" stroke="#111111" stroke-width="1.7"/>
<circle cx="1238.3" cy="255.3" r="6.6" fill="#8D2DB3" stroke="#111111" stroke-width="1.7"/>
<circle cx="1324" cy="258.4" r="6.6" fill="#8D2DB3" stroke="#111111" stroke-width="1.7"/>
<circle cx="1267.9" cy="296.7" r="6.6" fill="#8D2DB3" stroke="#111111" stroke-width="1.7"/>
<circle cx="1210.7" cy="225.4" r="6.6" fill="#8D2DB3" stroke="#111111" stroke-width="1.7"/>
<circle cx="1316.6" cy="291.8" r="6.6" fill="#8D2DB3" stroke="#111111" stroke-width="1.7"/>
<circle cx="1220.4" cy="229" r="6.6" fill="#8D2DB3" stroke="#111111" stroke-width="1.7"/>
<circle cx="1292" cy="304" r="6.6" fill="#8D2DB3" stroke="#111111" stroke-width="1.7"/>
<circle cx="1312.8" cy="270.4" r="6.6" fill="#8D2DB3" stroke="#111111" stroke-width="1.7"/>
<circle cx="1245.5" cy="220.4" r="6.6" fill="#8D2DB3" stroke="#111111" stroke-width="1.7"/>
<circle cx="1218.8" cy="280.5" r="6.6" fill="#8D2DB3" stroke="#111111" stroke-width="1.7"/>
<circle cx="1221.5" cy="292.4" r="6.6" fill="#8D2DB3" stroke="#111111" stroke-width="1.7"/>
<circle cx="1271.1" cy="239.3" r="6.6" fill="#8D2DB3" stroke="#111111" stroke-width="1.7"/>
<circle cx="1209.6" cy="282" r="6.6" fill="#8D2DB3" stroke="#111111" stroke-width="1.7"/>
<circle cx="1194" cy="232.8" r="6.6" fill="#8D2DB3" stroke="#111111" stroke-width="1.7"/>
<circle cx="1265.7" cy="295.2" r="6.6" fill="#8D2DB3" stroke="#111111" stroke-width="1.7"/>
<circle cx="1273.7" cy="238" r="6.6" fill="#8D2DB3" stroke="#111111" stroke-width="1.7"/>
<circle cx="1317.9" cy="230.4" r="6.6" fill="#8D2DB3" stroke="#111111" stroke-width="1.7"/>
<circle cx="1249.1" cy="216" r="6.6" fill="#8D2DB3" stroke="#111111" stroke-width="1.7"/>
<circle cx="1209.7" cy="246.9" r="6.6" fill="#8D2DB3" stroke="#111111" stroke-width="1.7"/>
<circle cx="1267.5" cy="223.2" r="6.6" fill="#8D2DB3" stroke="#111111" stroke-width="1.7"/>
<circle cx="1236.9" cy="299.1" r="6.6" fill="#8D2DB3" stroke="#111111" stroke-width="1.7"/>
<circle cx="1327.2" cy="275.7" r="6.6" fill="#8D2DB3" stroke="#111111" stroke-width="1.7"/>
<circle cx="1284.9" cy="268.4" r="6.6" fill="#8D2DB3" stroke="#111111" stroke-width="1.7"/>
<circle cx="1286.3" cy="306.3" r="6.6" fill="#8D2DB3" stroke="#111111" stroke-width="1.7"/>
<circle cx="1254.4" cy="283" r="6.6" fill="#8D2DB3" stroke="#111111" stroke-width="1.7"/>
<circle cx="1195" cy="264.6" r="6.6" fill="#8D2DB3" stroke="#111111" stroke-width="1.7"/>
<circle cx="1291.6" cy="300" r="6.6" fill="#8D2DB3" stroke="#111111" stroke-width="1.7"/>
<circle cx="1291.6" cy="280.4" r="6.6" fill="#8D2DB3" stroke="#111111" stroke-width="1.7"/>
<circle cx="1299.8" cy="301.5" r="6.6" fill="#8D2DB3" stroke="#111111" stroke-width="1.7"/>
<circle cx="1235.4" cy="278.5" r="6.6" fill="#8D2DB3" stroke="#111111" stroke-width="1.7"/>
<circle cx="1315.5" cy="297.1" r="6.6" fill="#8D2DB3" stroke="#111111" stroke-width="1.7"/>
<circle cx="1244.9" cy="289.1" r="6.6" fill="#8D2DB3" stroke="#111111" stroke-width="1.7"/>
<circle cx="1310.1" cy="267.3" r="6.6" fill="#8D2DB3" stroke="#111111" stroke-width="1.7"/>
<circle cx="1275.2" cy="248.2" r="6.6" fill="#8D2DB3" stroke="#111111" stroke-width="1.7"/>
<circle cx="1269.1" cy="270.9" r="6.6" fill="#8D2DB3" stroke="#111111" stroke-width="1.7"/>
<circle cx="1195.7" cy="273.9" r="6.6" fill="#8D2DB3" stroke="#111111" stroke-width="1.7"/>
<circle cx="1290.3" cy="248.8" r="6.6" fill="#8D2DB3" stroke="#111111" stroke-width="1.7"/>
<circle cx="1291.3" cy="268.1" r="6.6" fill="#8D2DB3" stroke="#111111" stroke-width="1.7"/>
<circle cx="1248.3" cy="293.8" r="6.6" fill="#8D2DB3" stroke="#111111" stroke-width="1.7"/>
<circle cx="1196.2" cy="285" r="6.6" fill="#8D2DB3" stroke="#111111" stroke-width="1.7"/>
<circle cx="1188.3" cy="270.1" r="6.6" fill="#8D2DB3" stroke="#111111" stroke-width="1.7"/>
<circle cx="1254.2" cy="233" r="6.6" fill="#8D2DB3" stroke="#111111" stroke-width="1.7"/>
<circle cx="1286" cy="259.7" r="6.6" fill="#8D2DB3" stroke="#111111" stroke-width="1.7"/>
<circle cx="1273.7" cy="302" r="6.6" fill="#8D2DB3" stroke="#111111" stroke-width="1.7"/>
<circle cx="1228" cy="277.8" r="6.6" fill="#8D2DB3" stroke="#111111" stroke-width="1.7"/>
<circle cx="1213.6" cy="227" r="6.6" fill="#8D2DB3" stroke="#111111" stroke-width="1.7"/>
<circle cx="1316.2" cy="276" r="6.6" fill="#8D2DB3" stroke="#111111" stroke-width="1.7"/>
<circle cx="1248.5" cy="299.2" r="6.6" fill="#8D2DB3" stroke="#111111" stroke-width="1.7"/>
<circle cx="1231.7" cy="276.6" r="6.6" fill="#8D2DB3" stroke="#111111" stroke-width="1.7"/>
<circle cx="1213" cy="253.1" r="6.6" fill="#8D2DB3" stroke="#111111" stroke-width="1.7"/>
<circle cx="1301.7" cy="301.4" r="6.6" fill="#8D2DB3" stroke="#111111" stroke-width="1.7"/>
<circle cx="1312.5" cy="248.4" r="6.6" fill="#8D2DB3" stroke="#111111" stroke-width="1.7"/>
<circle cx="1269.1" cy="241.6" r="6.6" fill="#8D2DB3" stroke="#111111" stroke-width="1.7"/>
<circle cx="1203.9" cy="259.6" r="6.6" fill="#8D2DB3" stroke="#111111" stroke-width="1.7"/>
<circle cx="1306.2" cy="294.9" r="6.6" fill="#8D2DB3" stroke="#111111" stroke-width="1.7"/>
<circle cx="1287.8" cy="305" r="6.6" fill="#8D2DB3" stroke="#111111" stroke-width="1.7"/>
<circle cx="1224.4" cy="226.9" r="6.6" fill="#8D2DB3" stroke="#111111" stroke-width="1.7"/>
<circle cx="1249.8" cy="237.5" r="6.6" fill="#8D2DB3" stroke="#111111" stroke-width="1.7"/>
<circle cx="1215.3" cy="251.4" r="6.6" fill="#8D2DB3" stroke="#111111" stroke-width="1.7"/>
<circle cx="1275.4" cy="259.4" r="6.6" fill="#8D2DB3" stroke="#111111" stroke-width="1.7"/>
<circle cx="1230" cy="293.9" r="6.6" fill="#8D2DB3" stroke="#111111" stroke-width="1.7"/>
<circle cx="1327.4" cy="255.2" r="6.6" fill="#8D2DB3" stroke="#111111" stroke-width="1.7"/>
<circle cx="1287.5" cy="267.1" r="6.6" fill="#8D2DB3" stroke="#111111" stroke-width="1.7"/>
<circle cx="1229.1" cy="289.2" r="6.6" fill="#8D2DB3" stroke="#111111" stroke-width="1.7"/>
<circle cx="1250.4" cy="212.5" r="6.6" fill="#8D2DB3" stroke="#111111" stroke-width="1.7"/>
<circle cx="1305.1" cy="233.7" r="6.6" fill="#8D2DB3" stroke="#111111" stroke-width="1.7"/>
<circle cx="1275.9" cy="254.6" r="6.6" fill="#8D2DB3" stroke="#111111" stroke-width="1.7"/>
<circle cx="1276" cy="275.5" r="6.6" fill="#8D2DB3" stroke="#111111" stroke-width="1.7"/>
<circle cx="1301.9" cy="305.8" r="6.6" fill="#8D2DB3" stroke="#111111" stroke-width="1.7"/>
<circle cx="1283.9" cy="229.9" r="6.6" fill="#8D2DB3" stroke="#111111" stroke-width="1.7"/>
<circle cx="1253.4" cy="227.9" r="6.6" fill="#8D2DB3" stroke="#111111" stroke-width="1.7"/>
<circle cx="1185.6" cy="257.2" r="6.6" fill="#8D2DB3" stroke="#111111" stroke-width="1.7"/>
<circle cx="1288.3" cy="227.9" r="6.6" fill="#8D2DB3" stroke="#111111" stroke-width="1.7"/>
<circle cx="1223.8" cy="244.6" r="6.6" fill="#8D2DB3" stroke="#111111" stroke-width="1.7"/>
<circle cx="1285.8" cy="262" r="6.6" fill="#8D2DB3" stroke="#111111" stroke-width="1.7"/>
<circle cx="1273.7" cy="285.6" r="6.6" fill="#8D2DB3" stroke="#111111" stroke-width="1.7"/>
<circle cx="1241.5" cy="289.2" r="6.6" fill="#8D2DB3" stroke="#111111" stroke-width="1.7"/>
<circle cx="1316.3" cy="218.7" r="6.6" fill="#8D2DB3" stroke="#111111" stroke-width="1.7"/>
<circle cx="1320.2" cy="282.2" r="6.6" fill="#8D2DB3" stroke="#111111" stroke-width="1.7"/>
<circle cx="1203" cy="255.4" r="6.6" fill="#8D2DB3" stroke="#111111" stroke-width="1.7"/>
<circle cx="1275.3" cy="301" r="6.6" fill="#8D2DB3" stroke="#111111" stroke-width="1.7"/>
<circle cx="1239" cy="266.9" r="6.6" fill="#8D2DB3" stroke="#111111" stroke-width="1.7"/>
<circle cx="1312.4" cy="289.7" r="6.6" fill="#8D2DB3" stroke="#111111" stroke-width="1.7"/>
<circle cx="1321.9" cy="256.4" r="6.6" fill="#8D2DB3" stroke="#111111" stroke-width="1.7"/>
<circle cx="1279.1" cy="230.5" r="6.6" fill="#8D2DB3" stroke="#111111" stroke-width="1.7"/>
<circle cx="1289.4" cy="291.8" r="6.6" fill="#8D2DB3" stroke="#111111" stroke-width="1.7"/>
<circle cx="1277.7" cy="281.8" r="6.6" fill="#8D2DB3" stroke="#111111" stroke-width="1.7"/>
<circle cx="1262.4" cy="289.1" r="6.6" fill="#8D2DB3" stroke="#111111" stroke-width="1.7"/>
<circle cx="1230.8" cy="301" r="6.6" fill="#8D2DB3" stroke="#111111" stroke-width="1.7"/>
<circle cx="1308.9" cy="244.9" r="6.6" fill="#8D2DB3" stroke="#111111" stroke-width="1.7"/>
<circle cx="1196.1" cy="254.1" r="6.6" fill="#8D2DB3" stroke="#111111" stroke-width="1.7"/>
<circle cx="1264.3" cy="286.8" r="6.6" fill="#8D2DB3" stroke="#111111" stroke-width="1.7"/>
<circle cx="1255.2" cy="212.8" r="6.6" fill="#8D2DB3" stroke="#111111" stroke-width="1.7"/>
<circle cx="1302.1" cy="216.4" r="6.6" fill="#8D2DB3" stroke="#111111" stroke-width="1.7"/>
<circle cx="1300.8" cy="227.3" r="6.6" fill="#8D2DB3" stroke="#111111" stroke-width="1.7"/>
<circle cx="1232.9" cy="288.8" r="6.6" fill="#8D2DB3" stroke="#111111" stroke-width="1.7"/>
<circle cx="1204.5" cy="224.9" r="6.6" fill="#8D2DB3" stroke="#111111" stroke-width="1.7"/>
<circle cx="1259.4" cy="282.4" r="6.6" fill="#8D2DB3" stroke="#111111" stroke-width="1.7"/>
<circle cx="1306.6" cy="278.9" r="6.6" fill="#8D2DB3" stroke="#111111" stroke-width="1.7"/>
<circle cx="1322.1" cy="259.3" r="6.6" fill="#8D2DB3" stroke="#111111" stroke-width="1.7"/>
<circle cx="1216.3" cy="262.7" r="6.6" fill="#8D2DB3" stroke="#111111" stroke-width="1.7"/>
<circle cx="1226.4" cy="282.9" r="6.6" fill="#8D2DB3" stroke="#111111" stroke-width="1.7"/>
<circle cx="1277.3" cy="262.3" r="6.6" fill="#8D2DB3" stroke="#111111" stroke-width="1.7"/>
<circle cx="1307.2" cy="266" r="6.6" fill="#8D2DB3" stroke="#111111" stroke-width="1.7"/>
<circle cx="1229.5" cy="248.1" r="6.6" fill="#8D2DB3" stroke="#111111" stroke-width="1.7"/>
<circle cx="1307.4" cy="300.1" r="6.6" fill="#8D2DB3" stroke="#111111" stroke-width="1.7"/>
<circle cx="1214.4" cy="295.1" r="6.6" fill="#8D2DB3" stroke="#111111" stroke-width="1.7"/>
<circle cx="1325.4" cy="262.4" r="6.6" fill="#8D2DB3" stroke="#111111" stroke-width="1.7"/>
<circle cx="1267.7" cy="230.1" r="6.6" fill="#8D2DB3" stroke="#111111" stroke-width="1.7"/>
<circle cx="1262.2" cy="260.3" r="6.6" fill="#8D2DB3" stroke="#111111" stroke-width="1.7"/>
<circle cx="1272.4" cy="212.8" r="6.6" fill="#8D2DB3" stroke="#111111" stroke-width="1.7"/>
<circle cx="1325.5" cy="261.6" r="6.6" fill="#8D2DB3" stroke="#111111" stroke-width="1.7"/>
<circle cx="1242.5" cy="290.1" r="6.6" fill="#8D2DB3" stroke="#111111" stroke-width="1.7"/>
<circle cx="1266.2" cy="259.1" r="6.6" fill="#8D2DB3" stroke="#111111" stroke-width="1.7"/>
<circle cx="1284.9" cy="216.6" r="6.6" fill="#8D2DB3" stroke="#111111" stroke-width="1.7"/>
<circle cx="1262.7" cy="251.4" r="6.6" fill="#8D2DB3" stroke="#111111" stroke-width="1.7"/>
<circle cx="1223.3" cy="257.3" r="6.6" fill="#8D2DB3" stroke="#111111" stroke-width="1.7"/>
<circle cx="1202.5" cy="253.4" r="6.6" fill="#8D2DB3" stroke="#111111" stroke-width="1.7"/>
<circle cx="1303.1" cy="300.1" r="6.6" fill="#8D2DB3" stroke="#111111" stroke-width="1.7"/>
<circle cx="1253.6" cy="241.7" r="6.6" fill="#8D2DB3" stroke="#111111" stroke-width="1.7"/>
<circle cx="1212" cy="271.8" r="6.6" fill="#8D2DB3" stroke="#111111" stroke-width="1.7"/>
<circle cx="1319.1" cy="222.9" r="6.6" fill="#8D2DB3" stroke="#111111" stroke-width="1.7"/>
<circle cx="1297.8" cy="212.3" r="6.6" fill="#8D2DB3" stroke="#111111" stroke-width="1.7"/>
<circle cx="1212.3" cy="232.7" r="6.6" fill="#8D2DB3" stroke="#111111" stroke-width="1.7"/>
<circle cx="1284.3" cy="242.2" r="6.6" fill="#8D2DB3" stroke="#111111" stroke-width="1.7"/>
<circle cx="1235.9" cy="272" r="6.6" fill="#8D2DB3" stroke="#111111" stroke-width="1.7"/>
<circle cx="1199.3" cy="283.1" r="6.6" fill="#8D2DB3" stroke="#111111" stroke-width="1.7"/>
<circle cx="1201.9" cy="261" r="6.6" fill="#8D2DB3" stroke="#111111" stroke-width="1.7"/>
<circle cx="1220.6" cy="229.8" r="6.6" fill="#8D2DB3" stroke="#111111" stroke-width="1.7"/>
<circle cx="1261.4" cy="253.7" r="6.6" fill="#8D2DB3" stroke="#111111" stroke-width="1.7"/>
<circle cx="1238.9" cy="251.3" r="6.6" fill="#8D2DB3" stroke="#111111" stroke-width="1.7"/>
<circle cx="1261.3" cy="226" r="6.6" fill="#8D2DB3" stroke="#111111" stroke-width="1.7"/>
<circle cx="1213.8" cy="273.1" r="6.6" fill="#8D2DB3" stroke="#111111" stroke-width="1.7"/>
<circle cx="1277.2" cy="263" r="6.6" fill="#8D2DB3" stroke="#111111" stroke-width="1.7"/>
<circle cx="1308.3" cy="271.2" r="6.6" fill="#8D2DB3" stroke="#111111" stroke-width="1.7"/>
<circle cx="1309.1" cy="233.3" r="6.6" fill="#8D2DB3" stroke="#111111" stroke-width="1.7"/>
<circle cx="1292.2" cy="291.1" r="6.6" fill="#8D2DB3" stroke="#111111" stroke-width="1.7"/>
<circle cx="1315.8" cy="241.6" r="6.6" fill="#8D2DB3" stroke="#111111" stroke-width="1.7"/>
<circle cx="1230" cy="302.3" r="6.6" fill="#8D2DB3" stroke="#111111" stroke-width="1.7"/>
<circle cx="1313.6" cy="223.4" r="6.6" fill="#8D2DB3" stroke="#111111" stroke-width="1.7"/>
<circle cx="1218.9" cy="282.7" r="6.6" fill="#8D2DB3" stroke="#111111" stroke-width="1.7"/>
<circle cx="1221.9" cy="219.7" r="6.6" fill="#8D2DB3" stroke="#111111" stroke-width="1.7"/>
<circle cx="1305.5" cy="252.2" r="6.6" fill="#8D2DB3" stroke="#111111" stroke-width="1.7"/>
<circle cx="1299.3" cy="222.6" r="6.6" fill="#8D2DB3" stroke="#111111" stroke-width="1.7"/>
<circle cx="1242.8" cy="278.5" r="6.6" fill="#8D2DB3" stroke="#111111" stroke-width="1.7"/>
<circle cx="1283.6" cy="301.1" r="6.6" fill="#8D2DB3" stroke="#111111" stroke-width="1.7"/>
<circle cx="1257.8" cy="285.8" r="6.6" fill="#8D2DB3" stroke="#111111" stroke-width="1.7"/>
<circle cx="1257.4" cy="278.6" r="6.6" fill="#8D2DB3" stroke="#111111" stroke-width="1.7"/>
<circle cx="1264.5" cy="261.5" r="6.6" fill="#8D2DB3" stroke="#111111" stroke-width="1.7"/>
<circle cx="1267" cy="224.7" r="6.6" fill="#8D2DB3" stroke="#111111" stroke-width="1.7"/>
<circle cx="1210.9" cy="230.4" r="6.6" fill="#8D2DB3" stroke="#111111" stroke-width="1.7"/>
<circle cx="1306.7" cy="309" r="6.6" fill="#8D2DB3" stroke="#111111" stroke-width="1.7"/>
<circle cx="1319.3" cy="219.5" r="6.6" fill="#8D2DB3" stroke="#111111" stroke-width="1.7"/>
<circle cx="1251.5" cy="286.5" r="6.6" fill="#8D2DB3" stroke="#111111" stroke-width="1.7"/>
<circle cx="1231.7" cy="256.7" r="6.6" fill="#8D2DB3" stroke="#111111" stroke-width="1.7"/>
<circle cx="1259.2" cy="253" r="6.6" fill="#8D2DB3" stroke="#111111" stroke-width="1.7"/>
<circle cx="1271.7" cy="211.3" r="6.6" fill="#8D2DB3" stroke="#111111" stroke-width="1.7"/>
<circle cx="1286.4" cy="294.4" r="6.6" fill="#8D2DB3" stroke="#111111" stroke-width="1.7"/>
<circle cx="1210.5" cy="255.4" r="6.6" fill="#8D2DB3" stroke="#111111" stroke-width="1.7"/>
<circle cx="1291.9" cy="250.5" r="6.6" fill="#8D2DB3" stroke="#111111" stroke-width="1.7"/>
<circle cx="1212.5" cy="226.5" r="6.6" fill="#8D2DB3" stroke="#111111" stroke-width="1.7"/>
<circle cx="1258.8" cy="211.5" r="6.6" fill="#8D2DB3" stroke="#111111" stroke-width="1.7"/>
<circle cx="1314.4" cy="290.2" r="6.6" fill="#8D2DB3" stroke="#111111" stroke-width="1.7"/>
<circle cx="1286.9" cy="296.1" r="6.6" fill="#8D2DB3" stroke="#111111" stroke-width="1.7"/>
<circle cx="1275.9" cy="250.5" r="6.6" fill="#8D2DB3" stroke="#111111" stroke-width="1.7"/>
<circle cx="1271.5" cy="260.4" r="6.6" fill="#8D2DB3" stroke="#111111" stroke-width="1.7"/>
<circle cx="1292.7" cy="287.8" r="6.6" fill="#8D2DB3" stroke="#111111" stroke-width="1.7"/>
<circle cx="1302.9" cy="250.6" r="6.6" fill="#8D2DB3" stroke="#111111" stroke-width="1.7"/>
<circle cx="1314.9" cy="298" r="6.6" fill="#8D2DB3" stroke="#111111" stroke-width="1.7"/>
<circle cx="1285.4" cy="286.7" r="6.6" fill="#8D2DB3" stroke="#111111" stroke-width="1.7"/>
<circle cx="1295.7" cy="250.6" r="6.6" fill="#8D2DB3" stroke="#111111" stroke-width="1.7"/>
<circle cx="1289.5" cy="217.1" r="6.6" fill="#8D2DB3" stroke="#111111" stroke-width="1.7"/>
<circle cx="1233.9" cy="256.9" r="6.6" fill="#8D2DB3" stroke="#111111" stroke-width="1.7"/>
<circle cx="1185.5" cy="245.6" r="6.6" fill="#8D2DB3" stroke="#111111" stroke-width="1.7"/>
<circle cx="1277.3" cy="272.4" r="6.6" fill="#8D2DB3" stroke="#111111" stroke-width="1.7"/>
<circle cx="1281.2" cy="243.8" r="6.6" fill="#8D2DB3" stroke="#111111" stroke-width="1.7"/>
<circle cx="1280.3" cy="267" r="6.6" fill="#8D2DB3" stroke="#111111" stroke-width="1.7"/>
<circle cx="1261.8" cy="249" r="6.6" fill="#8D2DB3" stroke="#111111" stroke-width="1.7"/>
<circle cx="1286.4" cy="286.2" r="6.6" fill="#8D2DB3" stroke="#111111" stroke-width="1.7"/>
<circle cx="1273.8" cy="283.9" r="6.6" fill="#8D2DB3" stroke="#111111" stroke-width="1.7"/>
<circle cx="1221.5" cy="250.2" r="6.6" fill="#8D2DB3" stroke="#111111" stroke-width="1.7"/>
<circle cx="1238.8" cy="219.8" r="6.6" fill="#8D2DB3" stroke="#111111" stroke-width="1.7"/>
<circle cx="1264.3" cy="260.8" r="6.6" fill="#8D2DB3" stroke="#111111" stroke-width="1.7"/>
<circle cx="1325.2" cy="266.8" r="6.6" fill="#8D2DB3" stroke="#111111" stroke-width="1.7"/>
<circle cx="1302.2" cy="217.6" r="6.6" fill="#8D2DB3" stroke="#111111" stroke-width="1.7"/>
<circle cx="1271.2" cy="285.9" r="6.6" fill="#8D2DB3" stroke="#111111" stroke-width="1.7"/>
<circle cx="1207.4" cy="257.2" r="6.6" fill="#8D2DB3" stroke="#111111" stroke-width="1.7"/>
<circle cx="1208.7" cy="259.6" r="6.6" fill="#8D2DB3" stroke="#111111" stroke-width="1.7"/>
<circle cx="1273.2" cy="215.9" r="6.6" fill="#8D2DB3" stroke="#111111" stroke-width="1.7"/>
<circle cx="1322" cy="252.1" r="6.6" fill="#8D2DB3" stroke="#111111" stroke-width="1.7"/>
<circle cx="1260.9" cy="269.8" r="6.6" fill="#8D2DB3" stroke="#111111" stroke-width="1.7"/>
<circle cx="1237.4" cy="238.6" r="6.6" fill="#8D2DB3" stroke="#111111" stroke-width="1.7"/>
<circle cx="1279.6" cy="266.1" r="6.6" fill="#8D2DB3" stroke="#111111" stroke-width="1.7"/>
<circle cx="1225.4" cy="281.7" r="6.6" fill="#8D2DB3" stroke="#111111" stroke-width="1.7"/>
<circle cx="1206.9" cy="285.5" r="6.6" fill="#8D2DB3" stroke="#111111" stroke-width="1.7"/>
<circle cx="1240.9" cy="299.8" r="6.6" fill="#8D2DB3" stroke="#111111" stroke-width="1.7"/>
<circle cx="1293.3" cy="215" r="6.6" fill="#8D2DB3" stroke="#111111" stroke-width="1.7"/>
<circle cx="1246.7" cy="257.8" r="6.6" fill="#8D2DB3" stroke="#111111" stroke-width="1.7"/>
<circle cx="1326.1" cy="234.4" r="6.6" fill="#8D2DB3" stroke="#111111" stroke-width="1.7"/>
<circle cx="1260.4" cy="303.7" r="6.6" fill="#8D2DB3" stroke="#111111" stroke-width="1.7"/>
<circle cx="1289.5" cy="256.8" r="6.6" fill="#8D2DB3" stroke="#111111" stroke-width="1.7"/>
<circle cx="1272.1" cy="221.5" r="6.6" fill="#8D2DB3" stroke="#111111" stroke-width="1.7"/>
<circle cx="1275.1" cy="255.6" r="6.6" fill="#8D2DB3" stroke="#111111" stroke-width="1.7"/>
<circle cx="1261.1" cy="222.4" r="6.6" fill="#8D2DB3" stroke="#111111" stroke-width="1.7"/>
<circle cx="1248.7" cy="276.8" r="6.6" fill="#8D2DB3" stroke="#111111" stroke-width="1.7"/>
<circle cx="1250.5" cy="236.2" r="6.6" fill="#8D2DB3" stroke="#111111" stroke-width="1.7"/>
<circle cx="1269" cy="252" r="6.6" fill="#8D2DB3" stroke="#111111" stroke-width="1.7"/>
<circle cx="1297.6" cy="263.1" r="6.6" fill="#8D2DB3" stroke="#111111" stroke-width="1.7"/>
<circle cx="1291.2" cy="233.8" r="6.6" fill="#8D2DB3" stroke="#111111" stroke-width="1.7"/>
<circle cx="1298.5" cy="272.5" r="6.6" fill="#8D2DB3" stroke="#111111" stroke-width="1.7"/>
<circle cx="1236.4" cy="237.2" r="6.6" fill="#8D2DB3" stroke="#111111" stroke-width="1.7"/>
<circle cx="1284" cy="266.5" r="6.6" fill="#8D2DB3" stroke="#111111" stroke-width="1.7"/>
<circle cx="1270.4" cy="273.3" r="6.6" fill="#8D2DB3" stroke="#111111" stroke-width="1.7"/>
<circle cx="1294" cy="229" r="6.6" fill="#8D2DB3" stroke="#111111" stroke-width="1.7"/>
<circle cx="1317.7" cy="297.9" r="6.6" fill="#8D2DB3" stroke="#111111" stroke-width="1.7"/>
<circle cx="1223.6" cy="252.5" r="6.6" fill="#8D2DB3" stroke="#111111" stroke-width="1.7"/>
<circle cx="1275" cy="220.2" r="6.6" fill="#8D2DB3" stroke="#111111" stroke-width="1.7"/>
<circle cx="1263.1" cy="217.2" r="6.6" fill="#8D2DB3" stroke="#111111" stroke-width="1.7"/>
<circle cx="1196.6" cy="277.6" r="6.6" fill="#8D2DB3" stroke="#111111" stroke-width="1.7"/>
<circle cx="1264.4" cy="273.1" r="6.6" fill="#8D2DB3" stroke="#111111" stroke-width="1.7"/>
<circle cx="1238.5" cy="257.9" r="6.6" fill="#8D2DB3" stroke="#111111" stroke-width="1.7"/>
<circle cx="1214.8" cy="244.4" r="6.6" fill="#8D2DB3" stroke="#111111" stroke-width="1.7"/>
<circle cx="1292.7" cy="293.9" r="6.6" fill="#8D2DB3" stroke="#111111" stroke-width="1.7"/>
<circle cx="1302.1" cy="272.4" r="6.6" fill="#8D2DB3" stroke="#111111" stroke-width="1.7"/>
<circle cx="1296.2" cy="231.3" r="6.6" fill="#8D2DB3" stroke="#111111" stroke-width="1.7"/>
<circle cx="1246" cy="235.8" r="6.6" fill="#8D2DB3" stroke="#111111" stroke-width="1.7"/>
<circle cx="1302.2" cy="246.9" r="6.6" fill="#8D2DB3" stroke="#111111" stroke-width="1.7"/>
<circle cx="1231.5" cy="264.9" r="6.6" fill="#8D2DB3" stroke="#111111" stroke-width="1.7"/>
<circle cx="1292.9" cy="302.1" r="6.6" fill="#8D2DB3" stroke="#111111" stroke-width="1.7"/>
<circle cx="1246.4" cy="246.9" r="6.6" fill="#8D2DB3" stroke="#111111" stroke-width="1.7"/>
<circle cx="1266.4" cy="258.5" r="6.6" fill="#8D2DB3" stroke="#111111" stroke-width="1.7"/>
<circle cx="1284.1" cy="239.9" r="6.6" fill="#8D2DB3" stroke="#111111" stroke-width="1.7"/>
<circle cx="1297.2" cy="217.6" r="6.6" fill="#8D2DB3" stroke="#111111" stroke-width="1.7"/>
<circle cx="1215.1" cy="276.2" r="6.6" fill="#8D2DB3" stroke="#111111" stroke-width="1.7"/>
<circle cx="1195.9" cy="240.4" r="6.6" fill="#8D2DB3" stroke="#111111" stroke-width="1.7"/>
<circle cx="1289.8" cy="279.4" r="6.6" fill="#8D2DB3" stroke="#111111" stroke-width="1.7"/>
<circle cx="1225.3" cy="224.3" r="6.6" fill="#8D2DB3" stroke="#111111" stroke-width="1.7"/>
<circle cx="1236.2" cy="282.6" r="6.6" fill="#8D2DB3" stroke="#111111" stroke-width="1.7"/>
<circle cx="1237.5" cy="221.7" r="6.6" fill="#8D2DB3" stroke="#111111" stroke-width="1.7"/>
<circle cx="1287.6" cy="266.9" r="6.6" fill="#8D2DB3" stroke="#111111" stroke-width="1.7"/>
<circle cx="1317.4" cy="253.8" r="6.6" fill="#8D2DB3" stroke="#111111" stroke-width="1.7"/>
<circle cx="1301.2" cy="240.5" r="6.6" fill="#8D2DB3" stroke="#111111" stroke-width="1.7"/>
<circle cx="1230.4" cy="250" r="6.6" fill="#8D2DB3" stroke="#111111" stroke-width="1.7"/>
<circle cx="1220.3" cy="246.2" r="6.6" fill="#8D2DB3" stroke="#111111" stroke-width="1.7"/>
<circle cx="1237.4" cy="246.3" r="6.6" fill="#8D2DB3" stroke="#111111" stroke-width="1.7"/>
<circle cx="1241.8" cy="248.8" r="6.6" fill="#8D2DB3" stroke="#111111" stroke-width="1.7"/>
<circle cx="1212.5" cy="266.4" r="6.6" fill="#8D2DB3" stroke="#111111" stroke-width="1.7"/>
<circle cx="1300.4" cy="264.1" r="6.6" fill="#8D2DB3" stroke="#111111" stroke-width="1.7"/>
<circle cx="1306.1" cy="266.3" r="6.6" fill="#8D2DB3" stroke="#111111" stroke-width="1.7"/>
<circle cx="1209.8" cy="285.9" r="6.6" fill="#8D2DB3" stroke="#111111" stroke-width="1.7"/>
<circle cx="1312.6" cy="238.1" r="6.6" fill="#8D2DB3" stroke="#111111" stroke-width="1.7"/>
<circle cx="1187.2" cy="261.6" r="6.6" fill="#8D2DB3" stroke="#111111" stroke-width="1.7"/>
<circle cx="1263.4" cy="266.7" r="6.6" fill="#8D2DB3" stroke="#111111" stroke-width="1.7"/>
<circle cx="1325.1" cy="275.1" r="6.6" fill="#8D2DB3" stroke="#111111" stroke-width="1.7"/>
<circle cx="1301.4" cy="216.4" r="6.6" fill="#8D2DB3" stroke="#111111" stroke-width="1.7"/>
<circle cx="1263.8" cy="288.8" r="6.6" fill="#8D2DB3" stroke="#111111" stroke-width="1.7"/>
<circle cx="1291.6" cy="299.9" r="6.6" fill="#8D2DB3" stroke="#111111" stroke-width="1.7"/>
<circle cx="1196.4" cy="273.4" r="6.6" fill="#8D2DB3" stroke="#111111" stroke-width="1.7"/>
<circle cx="1205" cy="284.6" r="6.6" fill="#8D2DB3" stroke="#111111" stroke-width="1.7"/>
<circle cx="1278.8" cy="234.5" r="6.6" fill="#8D2DB3" stroke="#111111" stroke-width="1.7"/>
<circle cx="1216.2" cy="286.5" r="6.6" fill="#8D2DB3" stroke="#111111" stroke-width="1.7"/>
<circle cx="1260.1" cy="286.5" r="6.6" fill="#8D2DB3" stroke="#111111" stroke-width="1.7"/>
<circle cx="1241.6" cy="243.8" r="6.6" fill="#8D2DB3" stroke="#111111" stroke-width="1.7"/>
<circle cx="1325.4" cy="277.2" r="6.6" fill="#8D2DB3" stroke="#111111" stroke-width="1.7"/>
<circle cx="1256.1" cy="263.7" r="6.6" fill="#8D2DB3" stroke="#111111" stroke-width="1.7"/>
<circle cx="1289.3" cy="280.8" r="6.6" fill="#8D2DB3" stroke="#111111" stroke-width="1.7"/>
<circle cx="1317.6" cy="251.1" r="6.6" fill="#8D2DB3" stroke="#111111" stroke-width="1.7"/>
<circle cx="1304.6" cy="276.7" r="6.6" fill="#8D2DB3" stroke="#111111" stroke-width="1.7"/>
<circle cx="1308.6" cy="290.6" r="6.6" fill="#8D2DB3" stroke="#111111" stroke-width="1.7"/>
<circle cx="1305.7" cy="298.9" r="6.6" fill="#8D2DB3" stroke="#111111" stroke-width="1.7"/>
<circle cx="1323.8" cy="274" r="6.6" fill="#8D2DB3" stroke="#111111" stroke-width="1.7"/>
<circle cx="1260.5" cy="281" r="6.6" fill="#8D2DB3" stroke="#111111" stroke-width="1.7"/>
<circle cx="1301.1" cy="252.2" r="6.6" fill="#8D2DB3" stroke="#111111" stroke-width="1.7"/>
<circle cx="1245.4" cy="224.6" r="6.6" fill="#8D2DB3" stroke="#111111" stroke-width="1.7"/>
<circle cx="1292.2" cy="309.1" r="6.6" fill="#8D2DB3" stroke="#111111" stroke-width="1.7"/>
<circle cx="1238.8" cy="226.8" r="6.6" fill="#8D2DB3" stroke="#111111" stroke-width="1.7"/>
<circle cx="1213.8" cy="252.5" r="6.6" fill="#8D2DB3" stroke="#111111" stroke-width="1.7"/>
<circle cx="1192.6" cy="240.8" r="6.6" fill="#8D2DB3" stroke="#111111" stroke-width="1.7"/>
<circle cx="1200.8" cy="274.8" r="6.6" fill="#8D2DB3" stroke="#111111" stroke-width="1.7"/>
<circle cx="1297.3" cy="227.9" r="6.6" fill="#8D2DB3" stroke="#111111" stroke-width="1.7"/>
<circle cx="1193.1" cy="255.9" r="6.6" fill="#8D2DB3" stroke="#111111" stroke-width="1.7"/>
<circle cx="1269.3" cy="300.9" r="6.6" fill="#8D2DB3" stroke="#111111" stroke-width="1.7"/>
<circle cx="1210.9" cy="231.7" r="6.6" fill="#8D2DB3" stroke="#111111" stroke-width="1.7"/>
<circle cx="1218.4" cy="281.7" r="6.6" fill="#8D2DB3" stroke="#111111" stroke-width="1.7"/>
<circle cx="1270.8" cy="232.4" r="6.6" fill="#8D2DB3" stroke="#111111" stroke-width="1.7"/>
<circle cx="1211" cy="238.1" r="6.6" fill="#8D2DB3" stroke="#111111" stroke-width="1.7"/>
<circle cx="1209.2" cy="285.8" r="6.6" fill="#8D2DB3" stroke="#111111" stroke-width="1.7"/>
<circle cx="1229.5" cy="264.8" r="6.6" fill="#8D2DB3" stroke="#111111" stroke-width="1.7"/>
<circle cx="1303.3" cy="257.9" r="6.6" fill="#8D2DB3" stroke="#111111" stroke-width="1.7"/>
<circle cx="1222" cy="298.7" r="6.6" fill="#8D2DB3" stroke="#111111" stroke-width="1.7"/>
<circle cx="1317.5" cy="244.2" r="6.6" fill="#8D2DB3" stroke="#111111" stroke-width="1.7"/>
<circle cx="1263.9" cy="305.7" r="6.6" fill="#8D2DB3" stroke="#111111" stroke-width="1.7"/>
<circle cx="1254.5" cy="232.1" r="6.6" fill="#8D2DB3" stroke="#111111" stroke-width="1.7"/>
<circle cx="1301" cy="248.5" r="6.6" fill="#8D2DB3" stroke="#111111" stroke-width="1.7"/>
<circle cx="1261" cy="261.6" r="6.6" fill="#8D2DB3" stroke="#111111" stroke-width="1.7"/>
<circle cx="1280" cy="233.8" r="6.6" fill="#8D2DB3" stroke="#111111" stroke-width="1.7"/>
<circle cx="1185.6" cy="257.3" r="6.6" fill="#8D2DB3" stroke="#111111" stroke-width="1.7"/>
<circle cx="1238.2" cy="289.7" r="6.6" fill="#8D2DB3" stroke="#111111" stroke-width="1.7"/>
<circle cx="1288.1" cy="270.6" r="6.6" fill="#8D2DB3" stroke="#111111" stroke-width="1.7"/>
<circle cx="1207" cy="225.7" r="6.6" fill="#8D2DB3" stroke="#111111" stroke-width="1.7"/>
<circle cx="1231" cy="235.9" r="6.6" fill="#8D2DB3" stroke="#111111" stroke-width="1.7"/>
<circle cx="1310.9" cy="261.6" r="6.6" fill="#8D2DB3" stroke="#111111" stroke-width="1.7"/>
<circle cx="1222.9" cy="263.5" r="6.6" fill="#8D2DB3" stroke="#111111" stroke-width="1.7"/>
<circle cx="1206" cy="287" r="6.6" fill="#8D2DB3" stroke="#111111" stroke-width="1.7"/>
<circle cx="1307.5" cy="292.2" r="6.6" fill="#8D2DB3" stroke="#111111" stroke-width="1.7"/>
<circle cx="1196" cy="237" r="6.6" fill="#8D2DB3" stroke="#111111" stroke-width="1.7"/>
<circle cx="1288.6" cy="219.7" r="6.6" fill="#8D2DB3" stroke="#111111" stroke-width="1.7"/>
<circle cx="1254.1" cy="256.9" r="6.6" fill="#8D2DB3" stroke="#111111" stroke-width="1.7"/>
<circle cx="1323.5" cy="268.7" r="6.6" fill="#8D2DB3" stroke="#111111" stroke-width="1.7"/>
<circle cx="1309.2" cy="240.4" r="6.6" fill="#8D2DB3" stroke="#111111" stroke-width="1.7"/>
<circle cx="1299.2" cy="251.7" r="6.6" fill="#8D2DB3" stroke="#111111" stroke-width="1.7"/>
<circle cx="1317.8" cy="219.1" r="6.6" fill="#8D2DB3" stroke="#111111" stroke-width="1.7"/>
<circle cx="1304.6" cy="230.8" r="6.6" fill="#8D2DB3" stroke="#111111" stroke-width="1.7"/>
<circle cx="1263.3" cy="262.6" r="6.6" fill="#8D2DB3" stroke="#111111" stroke-width="1.7"/>
<circle cx="1207" cy="293.2" r="6.6" fill="#8D2DB3" stroke="#111111" stroke-width="1.7"/>
<circle cx="1229.5" cy="241.1" r="6.6" fill="#8D2DB3" stroke="#111111" stroke-width="1.7"/>
<circle cx="1195.1" cy="240.6" r="6.6" fill="#8D2DB3" stroke="#111111" stroke-width="1.7"/>
<circle cx="1252.2" cy="281.5" r="6.6" fill="#8D2DB3" stroke="#111111" stroke-width="1.7"/>
<circle cx="1236.5" cy="278.7" r="6.6" fill="#8D2DB3" stroke="#111111" stroke-width="1.7"/>
<circle cx="1199.4" cy="249.4" r="6.6" fill="#8D2DB3" stroke="#111111" stroke-width="1.7"/>
<circle cx="1251.4" cy="306.7" r="6.6" fill="#8D2DB3" stroke="#111111" stroke-width="1.7"/>
<circle cx="1305.1" cy="275.4" r="6.6" fill="#8D2DB3" stroke="#111111" stroke-width="1.7"/>
<circle cx="1185.8" cy="247.7" r="6.6" fill="#8D2DB3" stroke="#111111" stroke-width="1.7"/>
<circle cx="1287.7" cy="233.7" r="6.6" fill="#8D2DB3" stroke="#111111" stroke-width="1.7"/>
<circle cx="1266.4" cy="255.8" r="6.6" fill="#8D2DB3" stroke="#111111" stroke-width="1.7"/>
<circle cx="1300.7" cy="230.7" r="6.6" fill="#8D2DB3" stroke="#111111" stroke-width="1.7"/>
<circle cx="1273.9" cy="239" r="6.6" fill="#8D2DB3" stroke="#111111" stroke-width="1.7"/>
<circle cx="1238.9" cy="264" r="6.6" fill="#8D2DB3" stroke="#111111" stroke-width="1.7"/>
<circle cx="1227.5" cy="243.7" r="6.6" fill="#8D2DB3" stroke="#111111" stroke-width="1.7"/>
<circle cx="1241.3" cy="276.7" r="6.6" fill="#8D2DB3" stroke="#111111" stroke-width="1.7"/>
<circle cx="1221.4" cy="230" r="6.6" fill="#8D2DB3" stroke="#111111" stroke-width="1.7"/>
<circle cx="1290.8" cy="242.9" r="6.6" fill="#8D2DB3" stroke="#111111" stroke-width="1.7"/>
<circle cx="1322" cy="266.3" r="6.6" fill="#8D2DB3" stroke="#111111" stroke-width="1.7"/>
<circle cx="1289.7" cy="243.2" r="6.6" fill="#8D2DB3" stroke="#111111" stroke-width="1.7"/>
<circle cx="1304.7" cy="219.2" r="6.6" fill="#8D2DB3" stroke="#111111" stroke-width="1.7"/>
<circle cx="1282.9" cy="280.8" r="6.6" fill="#8D2DB3" stroke="#111111" stroke-width="1.7"/>
<circle cx="1210.3" cy="250.2" r="6.6" fill="#8D2DB3" stroke="#111111" stroke-width="1.7"/>
<circle cx="1306.2" cy="269.3" r="6.6" fill="#8D2DB3" stroke="#111111" stroke-width="1.7"/>
<circle cx="1197.2" cy="232.7" r="6.6" fill="#8D2DB3" stroke="#111111" stroke-width="1.7"/>
<circle cx="1331.7" cy="287.5" r="6.6" fill="#8D2DB3" stroke="#111111" stroke-width="1.7"/>
<circle cx="1189" cy="278.4" r="6.6" fill="#8D2DB3" stroke="#111111" stroke-width="1.7"/>
<circle cx="1196.4" cy="289.5" r="6.6" fill="#8D2DB3" stroke="#111111" stroke-width="1.7"/>
<circle cx="1185.3" cy="244.4" r="6.6" fill="#8D2DB3" stroke="#111111" stroke-width="1.7"/>
<circle cx="1281.1" cy="243.5" r="6.6" fill="#2E3597" stroke="#111111" stroke-width="1.7"/>
<circle cx="1299" cy="214.1" r="6.6" fill="#2E3597" stroke="#111111" stroke-width="1.7"/>
<circle cx="1262.5" cy="252.2" r="6.6" fill="#2E3597" stroke="#111111" stroke-width="1.7"/>
<circle cx="1301.2" cy="240.3" r="6.6" fill="#2E3597" stroke="#111111" stroke-width="1.7"/>
<circle cx="1288.9" cy="243.7" r="6.6" fill="#2E3597" stroke="#111111" stroke-width="1.7"/>
<circle cx="1250.5" cy="231.1" r="6.6" fill="#2E3597" stroke="#111111" stroke-width="1.7"/>
<circle cx="1243.9" cy="245.2" r="6.6" fill="#2E3597" stroke="#111111" stroke-width="1.7"/>
<circle cx="1268.3" cy="229.1" r="6.6" fill="#2E3597" stroke="#111111" stroke-width="1.7"/>
<circle cx="1247.5" cy="230.1" r="6.6" fill="#2E3597" stroke="#111111" stroke-width="1.7"/>
<circle cx="1249.6" cy="223.8" r="6.6" fill="#2E3597" stroke="#111111" stroke-width="1.7"/>
<circle cx="1294.8" cy="215.3" r="6.6" fill="#2E3597" stroke="#111111" stroke-width="1.7"/>
<circle cx="1252.9" cy="252.5" r="6.6" fill="#2E3597" stroke="#111111" stroke-width="1.7"/>
<circle cx="1274.2" cy="229.9" r="6.6" fill="#2E3597" stroke="#111111" stroke-width="1.7"/>
<circle cx="1292.4" cy="233.2" r="6.6" fill="#2E3597" stroke="#111111" stroke-width="1.7"/>
<circle cx="1272.8" cy="207.7" r="6.6" fill="#2E3597" stroke="#111111" stroke-width="1.7"/>
<circle cx="1304.5" cy="261.1" r="6.6" fill="#2E3597" stroke="#111111" stroke-width="1.7"/>
<circle cx="1327.8" cy="243.8" r="6.6" fill="#2E3597" stroke="#111111" stroke-width="1.7"/>
<circle cx="1270.1" cy="226.7" r="6.6" fill="#2E3597" stroke="#111111" stroke-width="1.7"/>
<circle cx="1301.2" cy="244.4" r="6.6" fill="#2E3597" stroke="#111111" stroke-width="1.7"/>
<circle cx="1247.6" cy="219.4" r="6.6" fill="#2E3597" stroke="#111111" stroke-width="1.7"/>
<circle cx="1270.8" cy="235.1" r="6.6" fill="#2E3597" stroke="#111111" stroke-width="1.7"/>
<circle cx="1312.3" cy="234.5" r="6.6" fill="#2E3597" stroke="#111111" stroke-width="1.7"/>
<circle cx="1277" cy="235.6" r="6.6" fill="#2E3597" stroke="#111111" stroke-width="1.7"/>
<circle cx="1257.7" cy="230.4" r="6.6" fill="#2E3597" stroke="#111111" stroke-width="1.7"/>
<circle cx="1273.1" cy="250" r="6.6" fill="#2E3597" stroke="#111111" stroke-width="1.7"/>
<circle cx="1246.5" cy="237.3" r="6.6" fill="#2E3597" stroke="#111111" stroke-width="1.7"/>
<circle cx="1253.6" cy="245.7" r="6.6" fill="#2E3597" stroke="#111111" stroke-width="1.7"/>
<circle cx="1240.4" cy="221.8" r="6.6" fill="#2E3597" stroke="#111111" stroke-width="1.7"/>
<circle cx="1269" cy="242.3" r="6.6" fill="#2E3597" stroke="#111111" stroke-width="1.7"/>
<circle cx="1241.8" cy="232.2" r="6.6" fill="#2E3597" stroke="#111111" stroke-width="1.7"/>
<circle cx="1256.4" cy="222.1" r="6.6" fill="#2E3597" stroke="#111111" stroke-width="1.7"/>
<circle cx="1281.3" cy="260.6" r="6.6" fill="#2E3597" stroke="#111111" stroke-width="1.7"/>
<circle cx="1281.7" cy="260.5" r="6.6" fill="#2E3597" stroke="#111111" stroke-width="1.7"/>
<circle cx="1270.9" cy="216.8" r="6.6" fill="#2E3597" stroke="#111111" stroke-width="1.7"/>
<circle cx="1306.6" cy="258" r="6.6" fill="#2E3597" stroke="#111111" stroke-width="1.7"/>
<circle cx="1308.7" cy="225.5" r="6.6" fill="#2E3597" stroke="#111111" stroke-width="1.7"/>
<circle cx="1259.5" cy="206.5" r="6.6" fill="#2E3597" stroke="#111111" stroke-width="1.7"/>
<circle cx="1240.7" cy="241.3" r="6.6" fill="#2E3597" stroke="#111111" stroke-width="1.7"/>
<circle cx="1267" cy="250.9" r="6.6" fill="#2E3597" stroke="#111111" stroke-width="1.7"/>
<circle cx="1314.4" cy="242.4" r="6.6" fill="#2E3597" stroke="#111111" stroke-width="1.7"/>
<circle cx="1258.3" cy="236.1" r="6.6" fill="#2E3597" stroke="#111111" stroke-width="1.7"/>
<circle cx="1281.4" cy="241.7" r="6.6" fill="#2E3597" stroke="#111111" stroke-width="1.7"/>
<circle cx="1264.1" cy="255.8" r="6.6" fill="#2E3597" stroke="#111111" stroke-width="1.7"/>
<circle cx="1284.9" cy="245.7" r="6.6" fill="#2E3597" stroke="#111111" stroke-width="1.7"/>
<circle cx="1302.5" cy="218.2" r="6.6" fill="#2E3597" stroke="#111111" stroke-width="1.7"/>
<circle cx="1263.5" cy="220.5" r="6.6" fill="#2E3597" stroke="#111111" stroke-width="1.7"/>
<circle cx="1300.5" cy="245.6" r="6.6" fill="#2E3597" stroke="#111111" stroke-width="1.7"/>
<circle cx="1276.1" cy="219.8" r="6.6" fill="#2E3597" stroke="#111111" stroke-width="1.7"/>
<circle cx="1277.5" cy="261.8" r="6.6" fill="#2E3597" stroke="#111111" stroke-width="1.7"/>
<circle cx="1289.1" cy="241.6" r="6.6" fill="#2E3597" stroke="#111111" stroke-width="1.7"/>
<circle cx="1307.7" cy="229.8" r="6.6" fill="#2E3597" stroke="#111111" stroke-width="1.7"/>
<circle cx="1291.7" cy="257.4" r="6.6" fill="#2E3597" stroke="#111111" stroke-width="1.7"/>
<circle cx="1310.4" cy="239.1" r="6.6" fill="#2E3597" stroke="#111111" stroke-width="1.7"/>
<circle cx="1269.3" cy="227" r="6.6" fill="#2E3597" stroke="#111111" stroke-width="1.7"/>
<circle cx="1305.4" cy="238.1" r="6.6" fill="#2E3597" stroke="#111111" stroke-width="1.7"/>
<circle cx="1321.1" cy="251.5" r="6.6" fill="#2E3597" stroke="#111111" stroke-width="1.7"/>
<circle cx="1320.5" cy="257.9" r="6.6" fill="#2E3597" stroke="#111111" stroke-width="1.7"/>
<circle cx="1286.7" cy="251" r="6.6" fill="#2E3597" stroke="#111111" stroke-width="1.7"/>
<circle cx="1272.3" cy="211.6" r="6.6" fill="#2E3597" stroke="#111111" stroke-width="1.7"/>
<circle cx="1269.8" cy="223.8" r="6.6" fill="#2E3597" stroke="#111111" stroke-width="1.7"/>
<circle cx="1323.9" cy="245.3" r="6.6" fill="#2E3597" stroke="#111111" stroke-width="1.7"/>
<circle cx="1287.4" cy="241.5" r="6.6" fill="#2E3597" stroke="#111111" stroke-width="1.7"/>
<circle cx="1248.6" cy="236.5" r="6.6" fill="#2E3597" stroke="#111111" stroke-width="1.7"/>
<circle cx="1302.2" cy="228.5" r="6.6" fill="#2E3597" stroke="#111111" stroke-width="1.7"/>
<circle cx="1259.9" cy="229.2" r="6.6" fill="#2E3597" stroke="#111111" stroke-width="1.7"/>
<circle cx="1267.1" cy="245.1" r="6.6" fill="#2E3597" stroke="#111111" stroke-width="1.7"/>
<circle cx="1250.2" cy="211.2" r="6.6" fill="#2E3597" stroke="#111111" stroke-width="1.7"/>
<circle cx="1266.1" cy="245.7" r="6.6" fill="#2E3597" stroke="#111111" stroke-width="1.7"/>
<circle cx="1307.6" cy="243.6" r="6.6" fill="#2E3597" stroke="#111111" stroke-width="1.7"/>
<circle cx="1323.9" cy="226.8" r="6.6" fill="#2E3597" stroke="#111111" stroke-width="1.7"/>
<circle cx="1239.8" cy="233.8" r="6.6" fill="#2E3597" stroke="#111111" stroke-width="1.7"/>
<circle cx="1278.3" cy="216.2" r="6.6" fill="#2E3597" stroke="#111111" stroke-width="1.7"/>
<circle cx="1299.1" cy="225.5" r="6.6" fill="#2E3597" stroke="#111111" stroke-width="1.7"/>
<circle cx="1259.2" cy="224.7" r="6.6" fill="#2E3597" stroke="#111111" stroke-width="1.7"/>
<circle cx="1270.5" cy="221.9" r="6.6" fill="#2E3597" stroke="#111111" stroke-width="1.7"/>
<circle cx="1255.7" cy="230.6" r="6.6" fill="#2E3597" stroke="#111111" stroke-width="1.7"/>
<circle cx="1283.6" cy="245.8" r="6.6" fill="#2E3597" stroke="#111111" stroke-width="1.7"/>
<circle cx="1252.1" cy="232.5" r="6.6" fill="#2E3597" stroke="#111111" stroke-width="1.7"/>
<circle cx="1293.4" cy="254" r="6.6" fill="#2E3597" stroke="#111111" stroke-width="1.7"/>
<circle cx="1260.2" cy="232.2" r="6.6" fill="#2E3597" stroke="#111111" stroke-width="1.7"/>
<circle cx="1316.5" cy="253.4" r="6.6" fill="#2E3597" stroke="#111111" stroke-width="1.7"/>
<circle cx="1258.2" cy="236.7" r="6.6" fill="#2E3597" stroke="#111111" stroke-width="1.7"/>
<circle cx="1307.8" cy="228.5" r="6.6" fill="#2E3597" stroke="#111111" stroke-width="1.7"/>
<circle cx="1299.6" cy="243.8" r="6.6" fill="#2E3597" stroke="#111111" stroke-width="1.7"/>
<circle cx="1327.4" cy="237.6" r="6.6" fill="#2E3597" stroke="#111111" stroke-width="1.7"/>
<circle cx="1300.3" cy="226" r="6.6" fill="#2E3597" stroke="#111111" stroke-width="1.7"/>
<circle cx="1305.1" cy="224.4" r="6.6" fill="#2E3597" stroke="#111111" stroke-width="1.7"/>
<circle cx="1283.5" cy="226.6" r="6.6" fill="#2E3597" stroke="#111111" stroke-width="1.7"/>
<circle cx="1265.6" cy="213.7" r="6.6" fill="#2E3597" stroke="#111111" stroke-width="1.7"/>
<circle cx="1258" cy="237" r="6.6" fill="#2E3597" stroke="#111111" stroke-width="1.7"/>
<circle cx="1260.4" cy="208.6" r="6.6" fill="#2E3597" stroke="#111111" stroke-width="1.7"/>
<circle cx="1311.7" cy="222.3" r="6.6" fill="#2E3597" stroke="#111111" stroke-width="1.7"/>
<circle cx="1324.1" cy="240.1" r="6.6" fill="#2E3597" stroke="#111111" stroke-width="1.7"/>
<circle cx="1273.2" cy="255.8" r="6.6" fill="#2E3597" stroke="#111111" stroke-width="1.7"/>
<circle cx="1320.4" cy="224.3" r="6.6" fill="#2E3597" stroke="#111111" stroke-width="1.7"/>
<circle cx="1248.7" cy="242.5" r="6.6" fill="#2E3597" stroke="#111111" stroke-width="1.7"/>
<circle cx="1315.4" cy="240.7" r="6.6" fill="#2E3597" stroke="#111111" stroke-width="1.7"/>
<circle cx="1309.9" cy="229.5" r="6.6" fill="#2E3597" stroke="#111111" stroke-width="1.7"/>
<circle cx="1294.5" cy="221" r="6.6" fill="#2E3597" stroke="#111111" stroke-width="1.7"/>
<circle cx="1274.8" cy="227.6" r="6.6" fill="#2E3597" stroke="#111111" stroke-width="1.7"/>
<circle cx="1272.8" cy="228.8" r="6.6" fill="#2E3597" stroke="#111111" stroke-width="1.7"/>
<circle cx="1256.1" cy="220.5" r="6.6" fill="#2E3597" stroke="#111111" stroke-width="1.7"/>
<circle cx="1327.3" cy="235.8" r="6.6" fill="#2E3597" stroke="#111111" stroke-width="1.7"/>
<circle cx="1318.2" cy="252.8" r="6.6" fill="#2E3597" stroke="#111111" stroke-width="1.7"/>
<circle cx="1270.4" cy="247.9" r="6.6" fill="#2E3597" stroke="#111111" stroke-width="1.7"/>
<circle cx="1265.4" cy="213.8" r="6.6" fill="#2E3597" stroke="#111111" stroke-width="1.7"/>
<circle cx="1317.5" cy="253.5" r="6.6" fill="#2E3597" stroke="#111111" stroke-width="1.7"/>
<circle cx="1239.3" cy="223.6" r="6.6" fill="#2E3597" stroke="#111111" stroke-width="1.7"/>
<circle cx="1252.2" cy="246.8" r="6.6" fill="#2E3597" stroke="#111111" stroke-width="1.7"/>
<circle cx="1264.6" cy="216.8" r="6.6" fill="#2E3597" stroke="#111111" stroke-width="1.7"/>
<circle cx="1254.1" cy="223.8" r="6.6" fill="#2E3597" stroke="#111111" stroke-width="1.7"/>
<circle cx="1317.2" cy="240.6" r="6.6" fill="#2E3597" stroke="#111111" stroke-width="1.7"/>
<circle cx="1246.5" cy="245" r="6.6" fill="#2E3597" stroke="#111111" stroke-width="1.7"/>
<circle cx="1286.9" cy="231.6" r="6.6" fill="#2E3597" stroke="#111111" stroke-width="1.7"/>
<circle cx="1286.1" cy="243.1" r="6.6" fill="#2E3597" stroke="#111111" stroke-width="1.7"/>
<circle cx="1311.5" cy="234.8" r="6.6" fill="#2E3597" stroke="#111111" stroke-width="1.7"/>
<circle cx="1296.1" cy="232.6" r="6.6" fill="#2E3597" stroke="#111111" stroke-width="1.7"/>
<circle cx="1296" cy="228.1" r="6.6" fill="#2E3597" stroke="#111111" stroke-width="1.7"/>
<circle cx="1275.6" cy="235.4" r="6.6" fill="#2E3597" stroke="#111111" stroke-width="1.7"/>
<circle cx="1303.5" cy="221.9" r="6.6" fill="#2E3597" stroke="#111111" stroke-width="1.7"/>
<circle cx="1323" cy="234" r="6.6" fill="#2E3597" stroke="#111111" stroke-width="1.7"/>
<circle cx="1316.6" cy="245.4" r="6.6" fill="#2E3597" stroke="#111111" stroke-width="1.7"/>
<circle cx="1325.9" cy="244.9" r="6.6" fill="#2E3597" stroke="#111111" stroke-width="1.7"/>
<circle cx="1276.7" cy="229.1" r="6.6" fill="#2E3597" stroke="#111111" stroke-width="1.7"/>
<circle cx="1293.5" cy="249" r="6.6" fill="#2E3597" stroke="#111111" stroke-width="1.7"/>
<circle cx="1247.5" cy="245.1" r="6.6" fill="#2E3597" stroke="#111111" stroke-width="1.7"/>
<circle cx="1294.3" cy="261" r="6.6" fill="#2E3597" stroke="#111111" stroke-width="1.7"/>
<circle cx="1326.3" cy="248.6" r="6.6" fill="#2E3597" stroke="#111111" stroke-width="1.7"/>
<circle cx="1281.2" cy="217.8" r="6.6" fill="#2E3597" stroke="#111111" stroke-width="1.7"/>
<circle cx="1307.4" cy="230.1" r="6.6" fill="#2E3597" stroke="#111111" stroke-width="1.7"/>
<circle cx="1287.5" cy="224" r="6.6" fill="#2E3597" stroke="#111111" stroke-width="1.7"/>
<circle cx="1259.5" cy="211" r="6.6" fill="#2E3597" stroke="#111111" stroke-width="1.7"/>
<circle cx="1293.4" cy="260.3" r="6.6" fill="#2E3597" stroke="#111111" stroke-width="1.7"/>
<circle cx="1323.8" cy="226.6" r="6.6" fill="#2E3597" stroke="#111111" stroke-width="1.7"/>
<circle cx="1264.7" cy="258.6" r="6.6" fill="#2E3597" stroke="#111111" stroke-width="1.7"/>
<circle cx="1292.8" cy="244.1" r="6.6" fill="#2E3597" stroke="#111111" stroke-width="1.7"/>
<circle cx="1281.9" cy="247.7" r="6.6" fill="#2E3597" stroke="#111111" stroke-width="1.7"/>
<circle cx="1313.8" cy="249.2" r="6.6" fill="#2E3597" stroke="#111111" stroke-width="1.7"/>
<circle cx="1268.6" cy="227.8" r="6.6" fill="#2E3597" stroke="#111111" stroke-width="1.7"/>
<circle cx="1282.1" cy="217.1" r="6.6" fill="#2E3597" stroke="#111111" stroke-width="1.7"/>
<circle cx="1295.1" cy="236.5" r="6.6" fill="#2E3597" stroke="#111111" stroke-width="1.7"/>
<circle cx="1270.6" cy="219.1" r="6.6" fill="#2E3597" stroke="#111111" stroke-width="1.7"/>
<circle cx="1272.8" cy="240.9" r="6.6" fill="#2E3597" stroke="#111111" stroke-width="1.7"/>
<circle cx="1248.8" cy="236.8" r="6.6" fill="#2E3597" stroke="#111111" stroke-width="1.7"/>
<circle cx="1325.6" cy="248.5" r="6.6" fill="#2E3597" stroke="#111111" stroke-width="1.7"/>
<circle cx="1260.4" cy="229.9" r="6.6" fill="#2E3597" stroke="#111111" stroke-width="1.7"/>
<circle cx="1246.5" cy="248" r="6.6" fill="#2E3597" stroke="#111111" stroke-width="1.7"/>
<circle cx="1295.8" cy="215.9" r="6.6" fill="#2E3597" stroke="#111111" stroke-width="1.7"/>
<circle cx="1288" cy="240" r="6.6" fill="#2E3597" stroke="#111111" stroke-width="1.7"/>
<circle cx="1290.7" cy="227.6" r="6.6" fill="#2E3597" stroke="#111111" stroke-width="1.7"/>
<circle cx="1265.8" cy="226.2" r="6.6" fill="#2E3597" stroke="#111111" stroke-width="1.7"/>
<circle cx="1283.7" cy="232.2" r="6.6" fill="#2E3597" stroke="#111111" stroke-width="1.7"/>
<circle cx="1253.1" cy="228.8" r="6.6" fill="#2E3597" stroke="#111111" stroke-width="1.7"/>
<circle cx="1256.1" cy="224.4" r="6.6" fill="#2E3597" stroke="#111111" stroke-width="1.7"/>
<circle cx="1271.1" cy="225.9" r="6.6" fill="#2E3597" stroke="#111111" stroke-width="1.7"/>
<circle cx="1267.9" cy="243.5" r="6.6" fill="#2E3597" stroke="#111111" stroke-width="1.7"/>
<circle cx="1273.9" cy="235.4" r="6.6" fill="#2E3597" stroke="#111111" stroke-width="1.7"/>
<circle cx="1260.3" cy="252.2" r="6.6" fill="#2E3597" stroke="#111111" stroke-width="1.7"/>
<circle cx="1253" cy="231" r="6.6" fill="#2E3597" stroke="#111111" stroke-width="1.7"/>
<circle cx="1263.3" cy="253.9" r="6.6" fill="#2E3597" stroke="#111111" stroke-width="1.7"/>
<circle cx="1258.7" cy="217.2" r="6.6" fill="#2E3597" stroke="#111111" stroke-width="1.7"/>
<circle cx="1296.3" cy="242.3" r="6.6" fill="#2E3597" stroke="#111111" stroke-width="1.7"/>
<circle cx="1291.8" cy="233.3" r="6.6" fill="#2E3597" stroke="#111111" stroke-width="1.7"/>
<circle cx="1326.2" cy="232.1" r="6.6" fill="#2E3597" stroke="#111111" stroke-width="1.7"/>
<circle cx="1324.1" cy="228.3" r="6.6" fill="#2E3597" stroke="#111111" stroke-width="1.7"/>
<circle cx="1280.3" cy="226.5" r="6.6" fill="#2E3597" stroke="#111111" stroke-width="1.7"/>
<circle cx="1303.5" cy="248.8" r="6.6" fill="#2E3597" stroke="#111111" stroke-width="1.7"/>
<circle cx="1259.2" cy="236" r="6.6" fill="#2E3597" stroke="#111111" stroke-width="1.7"/>
<circle cx="1304.6" cy="234.6" r="6.6" fill="#2E3597" stroke="#111111" stroke-width="1.7"/>
<circle cx="1298.6" cy="241.1" r="6.6" fill="#2E3597" stroke="#111111" stroke-width="1.7"/>
<circle cx="1303.4" cy="226.3" r="6.6" fill="#2E3597" stroke="#111111" stroke-width="1.7"/>
<circle cx="1265.5" cy="207.4" r="6.6" fill="#2E3597" stroke="#111111" stroke-width="1.7"/>
<circle cx="1319.8" cy="251" r="6.6" fill="#2E3597" stroke="#111111" stroke-width="1.7"/>
<circle cx="1314.8" cy="230" r="6.6" fill="#2E3597" stroke="#111111" stroke-width="1.7"/>
<circle cx="1266.2" cy="220.8" r="6.6" fill="#2E3597" stroke="#111111" stroke-width="1.7"/>
<circle cx="1275.5" cy="209" r="6.6" fill="#2E3597" stroke="#111111" stroke-width="1.7"/>
<circle cx="1265.6" cy="215" r="6.6" fill="#2E3597" stroke="#111111" stroke-width="1.7"/>
<circle cx="1272.3" cy="233.9" r="6.6" fill="#2E3597" stroke="#111111" stroke-width="1.7"/>
<circle cx="1292.9" cy="259.2" r="6.6" fill="#2E3597" stroke="#111111" stroke-width="1.7"/>
<circle cx="1250.6" cy="219" r="6.6" fill="#2E3597" stroke="#111111" stroke-width="1.7"/>
<circle cx="1317" cy="257.9" r="6.6" fill="#2E3597" stroke="#111111" stroke-width="1.7"/>
<circle cx="1323.7" cy="236.1" r="6.6" fill="#2E3597" stroke="#111111" stroke-width="1.7"/>
<circle cx="1271.1" cy="216.8" r="6.6" fill="#2E3597" stroke="#111111" stroke-width="1.7"/>
<circle cx="1321.7" cy="249.6" r="6.6" fill="#2E3597" stroke="#111111" stroke-width="1.7"/>
<circle cx="1288.3" cy="251.1" r="6.6" fill="#2E3597" stroke="#111111" stroke-width="1.7"/>
<circle cx="1261.2" cy="236.4" r="6.6" fill="#2E3597" stroke="#111111" stroke-width="1.7"/>
<circle cx="1294.4" cy="216.6" r="6.6" fill="#2E3597" stroke="#111111" stroke-width="1.7"/>
<circle cx="1314.9" cy="253.8" r="6.6" fill="#2E3597" stroke="#111111" stroke-width="1.7"/>
<circle cx="1296.9" cy="230.8" r="6.6" fill="#2E3597" stroke="#111111" stroke-width="1.7"/>
<circle cx="1239" cy="234.2" r="6.6" fill="#2E3597" stroke="#111111" stroke-width="1.7"/>
<circle cx="1270.4" cy="228.8" r="6.6" fill="#2E3597" stroke="#111111" stroke-width="1.7"/>
<circle cx="1285.5" cy="238" r="6.6" fill="#2E3597" stroke="#111111" stroke-width="1.7"/>
<circle cx="1315.3" cy="257.1" r="6.6" fill="#2E3597" stroke="#111111" stroke-width="1.7"/>
<circle cx="1288.1" cy="237" r="6.6" fill="#2E3597" stroke="#111111" stroke-width="1.7"/>
<circle cx="1315.8" cy="227.2" r="6.6" fill="#2E3597" stroke="#111111" stroke-width="1.7"/>
<circle cx="1311" cy="236.1" r="6.6" fill="#2E3597" stroke="#111111" stroke-width="1.7"/>
<circle cx="1294.9" cy="262.5" r="6.6" fill="#2E3597" stroke="#111111" stroke-width="1.7"/>
<circle cx="1257.4" cy="229.2" r="6.6" fill="#2E3597" stroke="#111111" stroke-width="1.7"/>
<circle cx="1311.4" cy="248.6" r="6.6" fill="#2E3597" stroke="#111111" stroke-width="1.7"/>
<circle cx="1285.8" cy="250.3" r="6.6" fill="#2E3597" stroke="#111111" stroke-width="1.7"/>
<circle cx="1300" cy="255.5" r="6.6" fill="#2E3597" stroke="#111111" stroke-width="1.7"/>
<circle cx="1297.5" cy="226.7" r="6.6" fill="#2E3597" stroke="#111111" stroke-width="1.7"/>
<circle cx="1263.7" cy="210.7" r="6.6" fill="#2E3597" stroke="#111111" stroke-width="1.7"/>
<circle cx="1293.1" cy="213.6" r="6.6" fill="#2E3597" stroke="#111111" stroke-width="1.7"/>
<circle cx="1326.9" cy="236.4" r="6.6" fill="#2E3597" stroke="#111111" stroke-width="1.7"/>
<circle cx="1253.5" cy="253.1" r="6.6" fill="#2E3597" stroke="#111111" stroke-width="1.7"/>
<circle cx="1257.8" cy="228.9" r="6.6" fill="#2E3597" stroke="#111111" stroke-width="1.7"/>
<circle cx="1298.5" cy="222.1" r="6.6" fill="#2E3597" stroke="#111111" stroke-width="1.7"/>
<circle cx="1289.9" cy="246" r="6.6" fill="#2E3597" stroke="#111111" stroke-width="1.7"/>
<circle cx="1306.9" cy="253" r="6.6" fill="#2E3597" stroke="#111111" stroke-width="1.7"/>
<circle cx="1306.8" cy="222.3" r="6.6" fill="#2E3597" stroke="#111111" stroke-width="1.7"/>
<circle cx="1307.3" cy="230.7" r="6.6" fill="#2E3597" stroke="#111111" stroke-width="1.7"/>
<circle cx="1294.9" cy="226.4" r="6.6" fill="#2E3597" stroke="#111111" stroke-width="1.7"/>
<circle cx="1245.7" cy="233.9" r="6.6" fill="#2E3597" stroke="#111111" stroke-width="1.7"/>
<circle cx="1275.6" cy="224.5" r="6.6" fill="#2E3597" stroke="#111111" stroke-width="1.7"/>
<circle cx="1289.7" cy="236.7" r="6.6" fill="#2E3597" stroke="#111111" stroke-width="1.7"/>
<circle cx="1286.3" cy="262.3" r="6.6" fill="#2E3597" stroke="#111111" stroke-width="1.7"/>
<circle cx="1321.1" cy="223" r="6.6" fill="#2E3597" stroke="#111111" stroke-width="1.7"/>
<circle cx="1318.1" cy="224" r="6.6" fill="#2E3597" stroke="#111111" stroke-width="1.7"/>
<circle cx="1266.6" cy="259.1" r="6.6" fill="#2E3597" stroke="#111111" stroke-width="1.7"/>
<circle cx="1298.5" cy="246.3" r="6.6" fill="#2E3597" stroke="#111111" stroke-width="1.7"/>
<circle cx="1256" cy="212.9" r="6.6" fill="#2E3597" stroke="#111111" stroke-width="1.7"/>
<circle cx="1253.3" cy="230.6" r="6.6" fill="#2E3597" stroke="#111111" stroke-width="1.7"/>
<circle cx="1313.2" cy="244.7" r="6.6" fill="#2E3597" stroke="#111111" stroke-width="1.7"/>
<circle cx="1277.7" cy="258" r="6.6" fill="#2E3597" stroke="#111111" stroke-width="1.7"/>
<circle cx="1266.4" cy="208.9" r="6.6" fill="#2E3597" stroke="#111111" stroke-width="1.7"/>
<circle cx="1326.2" cy="256.2" r="6.6" fill="#2E3597" stroke="#111111" stroke-width="1.7"/>
<circle cx="1298.4" cy="233.4" r="6.6" fill="#2E3597" stroke="#111111" stroke-width="1.7"/>
<circle cx="1256" cy="218.5" r="6.6" fill="#2E3597" stroke="#111111" stroke-width="1.7"/>
<circle cx="1281.6" cy="257.1" r="6.6" fill="#2E3597" stroke="#111111" stroke-width="1.7"/>
<circle cx="1415.5" cy="240.6" r="6.6" fill="#E2DF00" stroke="#111111" stroke-width="1.7"/>
<circle cx="1338.2" cy="257.6" r="6.6" fill="#E2DF00" stroke="#111111" stroke-width="1.7"/>
<circle cx="1347.1" cy="261.6" r="6.6" fill="#E2DF00" stroke="#111111" stroke-width="1.7"/>
<circle cx="1355.2" cy="256" r="6.6" fill="#E2DF00" stroke="#111111" stroke-width="1.7"/>
<circle cx="1376.2" cy="249.5" r="6.6" fill="#E2DF00" stroke="#111111" stroke-width="1.7"/>
<circle cx="1388.3" cy="254.3" r="6.6" fill="#E2DF00" stroke="#111111" stroke-width="1.7"/>
<circle cx="1380.3" cy="256" r="6.6" fill="#E2DF00" stroke="#111111" stroke-width="1.7"/>
<circle cx="1373.8" cy="264" r="6.6" fill="#E2DF00" stroke="#111111" stroke-width="1.7"/>
<circle cx="1326.9" cy="271.3" r="6.6" fill="#E2DF00" stroke="#111111" stroke-width="1.7"/>
<circle cx="1400.5" cy="273" r="6.6" fill="#E2DF00" stroke="#111111" stroke-width="1.7"/>
<circle cx="1485" cy="278.6" r="6.6" fill="#E2DF00" stroke="#111111" stroke-width="1.7"/>
<circle cx="1490.2" cy="283.4" r="6.6" fill="#E2DF00" stroke="#111111" stroke-width="1.7"/>
<circle cx="1400.5" cy="273.7" r="6.6" fill="#E2DF00" stroke="#111111" stroke-width="1.7"/>
<circle cx="1392.7" cy="283.4" r="6.6" fill="#E2DF00" stroke="#111111" stroke-width="1.7"/>
<circle cx="1405.3" cy="285.9" r="6.6" fill="#E2DF00" stroke="#111111" stroke-width="1.7"/>
<circle cx="1397.7" cy="294" r="6.6" fill="#E2DF00" stroke="#111111" stroke-width="1.7"/>
<circle cx="1400" cy="307.7" r="6.6" fill="#E2DF00" stroke="#111111" stroke-width="1.7"/>
<circle cx="1388.8" cy="315.8" r="6.6" fill="#E2DF00" stroke="#111111" stroke-width="1.7"/>
<circle cx="1432" cy="307.7" r="6.6" fill="#E2DF00" stroke="#111111" stroke-width="1.7"/>
<circle cx="1445.8" cy="302.4" r="6.6" fill="#E2DF00" stroke="#111111" stroke-width="1.7"/>
<circle cx="1461.1" cy="311.7" r="6.6" fill="#E2DF00" stroke="#111111" stroke-width="1.7"/>
<circle cx="1409.4" cy="322.3" r="6.6" fill="#E2DF00" stroke="#111111" stroke-width="1.7"/>
<circle cx="1417.1" cy="318.5" r="6.6" fill="#E2DF00" stroke="#111111" stroke-width="1.7"/>
<circle cx="1420.7" cy="322.7" r="6.6" fill="#E2DF00" stroke="#111111" stroke-width="1.7"/>
<circle cx="1395.9" cy="331.2" r="6.6" fill="#E2DF00" stroke="#111111" stroke-width="1.7"/>
<circle cx="1417" cy="342.5" r="6.6" fill="#E2DF00" stroke="#111111" stroke-width="1.7"/>
<circle cx="1383.5" cy="348.9" r="6.6" fill="#E2DF00" stroke="#111111" stroke-width="1.7"/>
<circle cx="1401.6" cy="350.6" r="6.6" fill="#E2DF00" stroke="#111111" stroke-width="1.7"/>
<circle cx="1391.6" cy="357.8" r="6.6" fill="#E2DF00" stroke="#111111" stroke-width="1.7"/>
<circle cx="1412.1" cy="359.4" r="6.6" fill="#E2DF00" stroke="#111111" stroke-width="1.7"/>
<circle cx="1394.3" cy="368.3" r="6.6" fill="#E2DF00" stroke="#111111" stroke-width="1.7"/>
<circle cx="1387.5" cy="378" r="6.6" fill="#E2DF00" stroke="#111111" stroke-width="1.7"/>
<circle cx="1395.6" cy="374.5" r="6.6" fill="#E2DF00" stroke="#111111" stroke-width="1.7"/>
<circle cx="1366.5" cy="332.8" r="6.6" fill="#E2DF00" stroke="#111111" stroke-width="1.7"/>
<circle cx="1353.6" cy="298.8" r="6.6" fill="#E2DF00" stroke="#111111" stroke-width="1.7"/>
<circle cx="1354.4" cy="306.1" r="6.6" fill="#E2DF00" stroke="#111111" stroke-width="1.7"/>
<circle cx="1366.5" cy="280.7" r="6.6" fill="#E2DF00" stroke="#111111" stroke-width="1.7"/>
<circle cx="1370.6" cy="274.6" r="6.6" fill="#E2DF00" stroke="#111111" stroke-width="1.7"/>
<circle cx="1362.5" cy="269.7" r="6.6" fill="#E2DF00" stroke="#111111" stroke-width="1.7"/>
<circle cx="1330.1" cy="321.4" r="6.6" fill="#E2DF00" stroke="#111111" stroke-width="1.7"/>
<circle cx="1321.2" cy="322.3" r="6.6" fill="#E2DF00" stroke="#111111" stroke-width="1.7"/>
<circle cx="1312.3" cy="330.3" r="6.6" fill="#E2DF00" stroke="#111111" stroke-width="1.7"/>
<circle cx="1287.3" cy="332.8" r="6.6" fill="#E2DF00" stroke="#111111" stroke-width="1.7"/>
<circle cx="1295.4" cy="338.9" r="6.6" fill="#E2DF00" stroke="#111111" stroke-width="1.7"/>
<circle cx="1292.6" cy="348.1" r="6.6" fill="#E2DF00" stroke="#111111" stroke-width="1.7"/>
<circle cx="1280.8" cy="336" r="6.6" fill="#E2DF00" stroke="#111111" stroke-width="1.7"/>
<circle cx="1339" cy="347.6" r="6.6" fill="#E2DF00" stroke="#111111" stroke-width="1.7"/>
<circle cx="1320.4" cy="359.4" r="6.6" fill="#E2DF00" stroke="#111111" stroke-width="1.7"/>
<circle cx="1318.8" cy="366.7" r="6.6" fill="#E2DF00" stroke="#111111" stroke-width="1.7"/>
<circle cx="1293.3" cy="361.6" r="6.6" fill="#E2DF00" stroke="#111111" stroke-width="1.7"/>
<circle cx="1304.6" cy="369.2" r="6.6" fill="#E2DF00" stroke="#111111" stroke-width="1.7"/>
<circle cx="1333.4" cy="369.2" r="6.6" fill="#E2DF00" stroke="#111111" stroke-width="1.7"/>
<circle cx="1301.8" cy="380.5" r="6.6" fill="#E2DF00" stroke="#111111" stroke-width="1.7"/>
<circle cx="1322.9" cy="379.7" r="6.6" fill="#E2DF00" stroke="#111111" stroke-width="1.7"/>
<circle cx="1320.8" cy="384.8" r="6.6" fill="#E2DF00" stroke="#111111" stroke-width="1.7"/>
<circle cx="1284" cy="388.6" r="6.6" fill="#E2DF00" stroke="#111111" stroke-width="1.7"/>
<circle cx="1357.6" cy="362.7" r="6.6" fill="#E2DF00" stroke="#111111" stroke-width="1.7"/>
<circle cx="1364.9" cy="365.9" r="6.6" fill="#E2DF00" stroke="#111111" stroke-width="1.7"/>
<circle cx="1359.7" cy="369.2" r="6.6" fill="#E2DF00" stroke="#111111" stroke-width="1.7"/>
<circle cx="1349.9" cy="373.2" r="6.6" fill="#E2DF00" stroke="#111111" stroke-width="1.7"/>
<circle cx="1370.6" cy="397.1" r="6.6" fill="#E2DF00" stroke="#111111" stroke-width="1.7"/>
<circle cx="1365.4" cy="408.3" r="6.6" fill="#E2DF00" stroke="#111111" stroke-width="1.7"/>
<circle cx="1438.5" cy="424.9" r="6.6" fill="#E2DF00" stroke="#111111" stroke-width="1.7"/>
<circle cx="1420.7" cy="435.9" r="6.6" fill="#E2DF00" stroke="#111111" stroke-width="1.7"/>
<circle cx="1249.8" cy="314.1" r="6.6" fill="#E2DF00" stroke="#111111" stroke-width="1.7"/>
<circle cx="1257.2" cy="320.8" r="6.6" fill="#E2DF00" stroke="#111111" stroke-width="1.7"/>
<circle cx="1268.9" cy="319" r="6.6" fill="#E2DF00" stroke="#111111" stroke-width="1.7"/>
<circle cx="1260.3" cy="328.8" r="6.6" fill="#E2DF00" stroke="#111111" stroke-width="1.7"/>
<circle cx="1267" cy="326.4" r="6.6" fill="#E2DF00" stroke="#111111" stroke-width="1.7"/>
<circle cx="1244.9" cy="333.1" r="6.6" fill="#E2DF00" stroke="#111111" stroke-width="1.7"/>
<circle cx="1243.7" cy="343" r="6.6" fill="#E2DF00" stroke="#111111" stroke-width="1.7"/>
<circle cx="1264" cy="341.1" r="6.6" fill="#E2DF00" stroke="#111111" stroke-width="1.7"/>
<circle cx="1275.7" cy="335.6" r="6.6" fill="#E2DF00" stroke="#111111" stroke-width="1.7"/>
<circle cx="1288.6" cy="332.5" r="6.6" fill="#E2DF00" stroke="#111111" stroke-width="1.7"/>
<circle cx="1295.3" cy="338.7" r="6.6" fill="#E2DF00" stroke="#111111" stroke-width="1.7"/>
<circle cx="1292.2" cy="347.9" r="6.6" fill="#E2DF00" stroke="#111111" stroke-width="1.7"/>
<circle cx="1312.5" cy="330.7" r="6.6" fill="#E2DF00" stroke="#111111" stroke-width="1.7"/>
<circle cx="1320.5" cy="322.7" r="6.6" fill="#E2DF00" stroke="#111111" stroke-width="1.7"/>
<circle cx="1329.7" cy="320.8" r="6.6" fill="#E2DF00" stroke="#111111" stroke-width="1.7"/>
<circle cx="1335.3" cy="347.9" r="6.6" fill="#E2DF00" stroke="#111111" stroke-width="1.7"/>
<circle cx="1254.1" cy="358.3" r="6.6" fill="#E2DF00" stroke="#111111" stroke-width="1.7"/>
<circle cx="1264" cy="364.5" r="6.6" fill="#E2DF00" stroke="#111111" stroke-width="1.7"/>
<circle cx="1293.5" cy="361.4" r="6.6" fill="#E2DF00" stroke="#111111" stroke-width="1.7"/>
<circle cx="1304.5" cy="368.8" r="6.6" fill="#E2DF00" stroke="#111111" stroke-width="1.7"/>
<circle cx="1320.5" cy="359.5" r="6.6" fill="#E2DF00" stroke="#111111" stroke-width="1.7"/>
<circle cx="1318.7" cy="366.3" r="6.6" fill="#E2DF00" stroke="#111111" stroke-width="1.7"/>
<circle cx="1332.8" cy="368.8" r="6.6" fill="#E2DF00" stroke="#111111" stroke-width="1.7"/>
<circle cx="1302.1" cy="380.4" r="6.6" fill="#E2DF00" stroke="#111111" stroke-width="1.7"/>
<circle cx="1321.7" cy="379.8" r="6.6" fill="#E2DF00" stroke="#111111" stroke-width="1.7"/>
<circle cx="1320.5" cy="385.4" r="6.6" fill="#E2DF00" stroke="#111111" stroke-width="1.7"/>
<circle cx="1273.2" cy="382.3" r="6.6" fill="#E2DF00" stroke="#111111" stroke-width="1.7"/>
<circle cx="1283.6" cy="388.4" r="6.6" fill="#E2DF00" stroke="#111111" stroke-width="1.7"/>
<circle cx="1462.7" cy="122.6" r="6.6" fill="#F29200" stroke="#111111" stroke-width="1.7"/>
<circle cx="1472.1" cy="122.9" r="6.6" fill="#F29200" stroke="#111111" stroke-width="1.7"/>
<circle cx="1467.6" cy="129" r="6.6" fill="#F29200" stroke="#111111" stroke-width="1.7"/>
<circle cx="1468.4" cy="133.9" r="6.6" fill="#F29200" stroke="#111111" stroke-width="1.7"/>
<circle cx="1448.7" cy="134.7" r="6.6" fill="#F29200" stroke="#111111" stroke-width="1.7"/>
<circle cx="1443.3" cy="159.7" r="6.6" fill="#F29200" stroke="#111111" stroke-width="1.7"/>
<circle cx="1383.5" cy="135.5" r="6.6" fill="#F29200" stroke="#111111" stroke-width="1.7"/>
<circle cx="1391.6" cy="137.9" r="6.6" fill="#F29200" stroke="#111111" stroke-width="1.7"/>
<circle cx="1373" cy="141.2" r="6.6" fill="#F29200" stroke="#111111" stroke-width="1.7"/>
<circle cx="1377.8" cy="146.8" r="6.6" fill="#F29200" stroke="#111111" stroke-width="1.7"/>
<circle cx="1394.8" cy="148.4" r="6.6" fill="#F29200" stroke="#111111" stroke-width="1.7"/>
<circle cx="1403.7" cy="147.6" r="6.6" fill="#F29200" stroke="#111111" stroke-width="1.7"/>
<circle cx="1401" cy="159.4" r="6.6" fill="#F29200" stroke="#111111" stroke-width="1.7"/>
<circle cx="1360.9" cy="152.5" r="6.6" fill="#F29200" stroke="#111111" stroke-width="1.7"/>
<circle cx="1372.2" cy="154.9" r="6.6" fill="#F29200" stroke="#111111" stroke-width="1.7"/>
<circle cx="1340.6" cy="142.8" r="6.6" fill="#F29200" stroke="#111111" stroke-width="1.7"/>
<circle cx="1337.7" cy="154.9" r="6.6" fill="#F29200" stroke="#111111" stroke-width="1.7"/>
<circle cx="1385.9" cy="162.2" r="6.6" fill="#F29200" stroke="#111111" stroke-width="1.7"/>
<circle cx="1383.5" cy="168.6" r="6.6" fill="#F29200" stroke="#111111" stroke-width="1.7"/>
<circle cx="1390.8" cy="170.3" r="6.6" fill="#F29200" stroke="#111111" stroke-width="1.7"/>
<circle cx="1346.3" cy="174.3" r="6.6" fill="#F29200" stroke="#111111" stroke-width="1.7"/>
<circle cx="1371.4" cy="175.6" r="6.6" fill="#F29200" stroke="#111111" stroke-width="1.7"/>
<circle cx="1323.7" cy="175.9" r="6.6" fill="#F29200" stroke="#111111" stroke-width="1.7"/>
<circle cx="1330.1" cy="178.3" r="6.6" fill="#F29200" stroke="#111111" stroke-width="1.7"/>
<circle cx="1395.6" cy="183.2" r="6.6" fill="#F29200" stroke="#111111" stroke-width="1.7"/>
<circle cx="1377.8" cy="185.6" r="6.6" fill="#F29200" stroke="#111111" stroke-width="1.7"/>
<circle cx="1376.2" cy="191.3" r="6.6" fill="#F29200" stroke="#111111" stroke-width="1.7"/>
<circle cx="1405.3" cy="192.9" r="6.6" fill="#F29200" stroke="#111111" stroke-width="1.7"/>
<circle cx="1325.3" cy="188" r="6.6" fill="#F29200" stroke="#111111" stroke-width="1.7"/>
<circle cx="1284" cy="183.7" r="6.6" fill="#F29200" stroke="#111111" stroke-width="1.7"/>
<circle cx="1298.6" cy="195.3" r="6.6" fill="#F29200" stroke="#111111" stroke-width="1.7"/>
<circle cx="1282.4" cy="200.2" r="6.6" fill="#F29200" stroke="#111111" stroke-width="1.7"/>
<circle cx="1331.7" cy="196.1" r="6.6" fill="#F29200" stroke="#111111" stroke-width="1.7"/>
<circle cx="1352" cy="196.6" r="6.6" fill="#F29200" stroke="#111111" stroke-width="1.7"/>
<circle cx="1342.3" cy="204.2" r="6.6" fill="#F29200" stroke="#111111" stroke-width="1.7"/>
<circle cx="1375.4" cy="208.3" r="6.6" fill="#F29200" stroke="#111111" stroke-width="1.7"/>
<circle cx="1365.7" cy="212.3" r="6.6" fill="#F29200" stroke="#111111" stroke-width="1.7"/>
<circle cx="1323.7" cy="203.4" r="6.6" fill="#F29200" stroke="#111111" stroke-width="1.7"/>
<circle cx="1331.7" cy="209.1" r="6.6" fill="#F29200" stroke="#111111" stroke-width="1.7"/>
<circle cx="1351.2" cy="209.9" r="6.6" fill="#F29200" stroke="#111111" stroke-width="1.7"/>
<circle cx="1343.1" cy="216.3" r="6.6" fill="#F29200" stroke="#111111" stroke-width="1.7"/>
<circle cx="1328.5" cy="219.6" r="6.6" fill="#F29200" stroke="#111111" stroke-width="1.7"/>
<circle cx="1318.8" cy="208.3" r="6.6" fill="#F29200" stroke="#111111" stroke-width="1.7"/>
<circle cx="1360.9" cy="225.2" r="6.6" fill="#F29200" stroke="#111111" stroke-width="1.7"/>
<circle cx="1377" cy="229.3" r="6.6" fill="#F29200" stroke="#111111" stroke-width="1.7"/>
<circle cx="1373" cy="231.7" r="6.6" fill="#F29200" stroke="#111111" stroke-width="1.7"/>
<circle cx="1344.7" cy="233.3" r="6.6" fill="#F29200" stroke="#111111" stroke-width="1.7"/>
<circle cx="1355.2" cy="245.1" r="6.6" fill="#F29200" stroke="#111111" stroke-width="1.7"/>
<circle cx="1368.1" cy="243.8" r="6.6" fill="#F29200" stroke="#111111" stroke-width="1.7"/>
<circle cx="1342.3" cy="239.8" r="6.6" fill="#F29200" stroke="#111111" stroke-width="1.7"/>
<circle cx="1364.1" cy="265.7" r="6.6" fill="#F29200" stroke="#111111" stroke-width="1.7"/>
<circle cx="1336" cy="225" r="6.6" fill="#F29200" stroke="#111111" stroke-width="1.7"/>
<circle cx="1350" cy="222" r="6.6" fill="#F29200" stroke="#111111" stroke-width="1.7"/>
<circle cx="1358" cy="235" r="6.6" fill="#F29200" stroke="#111111" stroke-width="1.7"/>
<circle cx="1339" cy="214" r="6.6" fill="#F29200" stroke="#111111" stroke-width="1.7"/>
<circle cx="1315" cy="200" r="6.6" fill="#F29200" stroke="#111111" stroke-width="1.7"/>
</g>
<rect x="1146.2" y="108.4" width="377.1" height="341.1" fill="none" stroke="#111111" stroke-width="3"/>
<text x="8" y="605" font-size="48" text-anchor="start" fill="#111111">c</text>
<line x1="102.5" y1="625.1" x2="125" y2="625.1" stroke="#111111" stroke-width="2.6" stroke-linecap="butt"/>
<text transform="translate(89,624.7) rotate(-90)" font-size="36" text-anchor="middle" fill="#111111">1.96</text>
<line x1="102.5" y1="675.8" x2="125" y2="675.8" stroke="#111111" stroke-width="2.6" stroke-linecap="butt"/>
<line x1="102.5" y1="726.5" x2="125" y2="726.5" stroke="#111111" stroke-width="2.6" stroke-linecap="butt"/>
<line x1="102.5" y1="777.2" x2="125" y2="777.2" stroke="#111111" stroke-width="2.6" stroke-linecap="butt"/>
<text transform="translate(89,776) rotate(-90)" font-size="36" text-anchor="middle" fill="#111111">1.90</text>
<line x1="102.5" y1="827.9" x2="125" y2="827.9" stroke="#111111" stroke-width="2.6" stroke-linecap="butt"/>
<line x1="102.5" y1="878.6" x2="125" y2="878.6" stroke="#111111" stroke-width="2.6" stroke-linecap="butt"/>
<line x1="102.5" y1="929.3" x2="125" y2="929.3" stroke="#111111" stroke-width="2.6" stroke-linecap="butt"/>
<text transform="translate(89,928.4) rotate(-90)" font-size="36" text-anchor="middle" fill="#111111">1.84</text>
<path d="M191.5,714.2 191.8,715.7 192.5,717.7 193.0,719.2 193.9,721.2 194.7,722.8 195.5,724.3 196.7,726.3 197.7,727.8 198.7,729.3 200.1,731.3 201.2,732.8 202.6,734.8 203.7,736.3 204.8,737.8 206.2,739.9 207.3,741.4 208.9,743.4 210.0,744.9 211.2,746.4 212.7,748.4 213.8,749.9 215.3,751.9 216.3,753.4 217.2,755.0 218.4,757.0 219.3,758.5 220.1,760.0 221.1,762.0 221.8,763.5 222.7,765.5 223.3,767.0 223.9,768.5 224.6,770.6 225.1,772.1 225.6,774.1 225.9,775.6 226.1,777.1 226.3,779.1 226.3,780.6 226.3,782.1 226.2,784.1 226.0,785.6 225.6,787.7 225.3,789.2 224.9,790.7 224.2,792.7 223.6,794.2 222.8,796.2 222.1,797.7 221.3,799.2 220.3,801.2 219.4,802.8 218.5,804.3 217.3,806.3 216.4,807.8 215.1,809.8 214.2,811.3 213.2,812.8 211.9,814.8 210.9,816.3 209.6,818.4 208.6,819.9 207.5,821.4 206.2,823.4 205.1,824.9 203.7,826.9 202.6,828.4 201.5,829.9 200.1,831.9 199.1,833.4 198.1,835.0 196.7,837.0 195.8,838.5 194.6,840.5 194.0,842.0 182.2,842.0 181.6,840.5 180.4,838.5 179.5,837.0 178.1,835.0 177.1,833.4 176.1,831.9 174.7,829.9 173.6,828.4 172.5,826.9 171.1,824.9 170.0,823.4 168.7,821.4 167.6,819.9 166.6,818.4 165.3,816.3 164.3,814.8 163.0,812.8 162.0,811.3 161.1,809.8 159.8,807.8 158.9,806.3 157.7,804.3 156.8,802.8 155.9,801.2 154.9,799.2 154.1,797.7 153.4,796.2 152.6,794.2 152.0,792.7 151.3,790.7 150.9,789.2 150.6,787.7 150.2,785.6 150.0,784.1 149.9,782.1 149.9,780.6 149.9,779.1 150.1,777.1 150.3,775.6 150.6,774.1 151.1,772.1 151.6,770.6 152.3,768.5 152.9,767.0 153.5,765.5 154.4,763.5 155.1,762.0 156.1,760.0 156.9,758.5 157.8,757.0 159.0,755.0 159.9,753.4 160.9,751.9 162.4,749.9 163.5,748.4 165.0,746.4 166.2,744.9 167.3,743.4 168.9,741.4 170.0,739.9 171.4,737.8 172.5,736.3 173.6,734.8 175.0,732.8 176.1,731.3 177.5,729.3 178.5,727.8 179.5,726.3 180.7,724.3 181.5,722.8 182.3,721.2 183.2,719.2 183.7,717.7 184.4,715.7 184.7,714.2Z" fill="#2E3597" stroke="#111111" stroke-width="2.2" stroke-linejoin="round"/>
<line x1="188.1" y1="714" x2="188.1" y2="841.5" stroke="#111111" stroke-width="2.0" stroke-linecap="butt"/>
<rect x="185" y="765.4" width="6.2" height="34.2" fill="#111111"/>
<circle cx="188.1" cy="783.9" r="7" fill="#fff"/>
<path d="M284.2,710.3 284.1,711.8 284.1,713.8 284.2,715.3 284.4,716.8 284.8,718.8 285.2,720.3 285.7,721.8 286.2,723.9 286.5,725.4 286.7,726.9 287.0,728.9 287.2,730.4 287.5,732.4 287.8,733.9 288.1,735.4 288.5,737.4 288.8,738.9 289.2,740.4 289.7,742.4 290.0,743.9 290.4,745.4 290.9,747.5 291.4,749.0 291.8,750.5 292.5,752.5 293.1,754.0 293.7,755.5 294.6,757.5 295.3,759.0 296.1,760.5 297.2,762.5 298.0,764.0 299.1,766.0 299.9,767.5 300.7,769.0 301.9,771.1 302.7,772.6 303.5,774.1 304.6,776.1 305.4,777.6 306.2,779.1 307.3,781.1 308.0,782.6 308.8,784.1 309.8,786.1 310.5,787.6 311.3,789.1 312.3,791.1 313.1,792.6 313.8,794.1 314.8,796.2 315.4,797.7 316.0,799.2 316.7,801.2 317.3,802.7 318.0,804.7 318.5,806.2 318.9,807.7 319.5,809.7 319.9,811.2 320.2,812.7 320.6,814.7 320.8,816.2 320.8,817.7 320.8,819.8 320.7,821.3 320.4,822.8 320.0,824.8 319.6,826.3 319.2,827.8 318.6,829.8 318.0,831.3 317.4,832.8 316.6,834.8 315.9,836.3 315.0,838.3 314.3,839.8 313.5,841.3 312.5,843.4 311.8,844.9 311.1,846.4 310.1,848.4 309.3,849.9 308.6,851.4 307.6,853.4 306.8,854.9 306.0,856.4 305.0,858.4 304.3,859.9 303.5,861.4 302.6,863.4 301.9,864.9 301.2,866.4 300.3,868.5 299.7,870.0 299.0,871.5 298.2,873.5 297.6,875.0 296.7,877.0 296.1,878.5 295.5,880.0 294.7,882.0 294.1,883.5 293.5,885.0 292.8,887.0 292.2,888.5 291.7,890.0 291.1,892.1 290.7,893.6 290.3,895.1 289.8,897.1 289.4,898.6 289.1,900.1 288.7,902.1 288.4,903.6 288.2,905.1 287.8,907.1 287.5,908.6 287.1,910.6 286.9,912.1 286.6,913.6 286.2,915.7 285.9,917.2 285.7,918.7 285.4,920.7 285.2,922.2 285.0,923.7 284.8,925.7 284.8,927.2 280.4,927.2 280.4,925.7 280.2,923.7 280.0,922.2 279.8,920.7 279.5,918.7 279.3,917.2 279.0,915.7 278.6,913.6 278.3,912.1 278.1,910.6 277.7,908.6 277.4,907.1 277.0,905.1 276.8,903.6 276.5,902.1 276.1,900.1 275.8,898.6 275.4,897.1 274.9,895.1 274.5,893.6 274.1,892.1 273.5,890.0 273.0,888.5 272.4,887.0 271.7,885.0 271.1,883.5 270.5,882.0 269.7,880.0 269.1,878.5 268.5,877.0 267.6,875.0 267.0,873.5 266.2,871.5 265.5,870.0 264.9,868.5 264.0,866.4 263.3,864.9 262.6,863.4 261.7,861.4 260.9,859.9 260.2,858.4 259.2,856.4 258.4,854.9 257.6,853.4 256.6,851.4 255.9,849.9 255.1,848.4 254.1,846.4 253.4,844.9 252.7,843.4 251.7,841.3 250.9,839.8 250.2,838.3 249.3,836.3 248.6,834.8 247.8,832.8 247.2,831.3 246.6,829.8 246.0,827.8 245.6,826.3 245.2,824.8 244.8,822.8 244.5,821.3 244.4,819.8 244.4,817.7 244.4,816.2 244.6,814.7 245.0,812.7 245.3,811.2 245.7,809.7 246.3,807.7 246.7,806.2 247.2,804.7 247.9,802.7 248.5,801.2 249.2,799.2 249.8,797.7 250.4,796.2 251.4,794.1 252.1,792.6 252.9,791.1 253.9,789.1 254.7,787.6 255.4,786.1 256.4,784.1 257.2,782.6 257.9,781.1 259.0,779.1 259.8,777.6 260.6,776.1 261.7,774.1 262.5,772.6 263.3,771.1 264.5,769.0 265.3,767.5 266.1,766.0 267.2,764.0 268.0,762.5 269.1,760.5 269.9,759.0 270.6,757.5 271.5,755.5 272.1,754.0 272.7,752.5 273.4,750.5 273.8,749.0 274.3,747.5 274.8,745.4 275.2,743.9 275.5,742.4 276.0,740.4 276.4,738.9 276.7,737.4 277.1,735.4 277.4,733.9 277.7,732.4 278.0,730.4 278.2,728.9 278.5,726.9 278.7,725.4 279.0,723.9 279.5,721.8 280.0,720.3 280.4,718.8 280.8,716.8 281.0,715.3 281.1,713.8 281.1,711.8 281.0,710.3Z" fill="#8D2DB3" stroke="#111111" stroke-width="2.2" stroke-linejoin="round"/>
<line x1="282.6" y1="742.2" x2="282.6" y2="898.6" stroke="#111111" stroke-width="2.0" stroke-linecap="butt"/>
<rect x="279.5" y="800.7" width="6.2" height="40.1" fill="#111111"/>
<circle cx="282.6" cy="818.4" r="7" fill="#fff"/>
<path d="M381.6,615.1 381.7,616.6 381.8,618.6 381.9,620.1 382.0,621.6 382.1,623.6 382.1,625.1 382.1,627.1 382.1,628.6 382.1,630.1 382.1,632.2 382.1,633.7 382.1,635.2 382.1,637.2 382.2,638.7 382.3,640.7 382.4,642.2 382.5,643.7 382.6,645.7 382.7,647.2 382.8,648.7 383.0,650.7 383.2,652.2 383.4,654.2 383.6,655.7 383.8,657.2 384.2,659.2 384.4,660.7 384.8,662.2 385.2,664.2 385.6,665.8 386.1,667.8 386.6,669.3 387.1,670.8 387.8,672.8 388.4,674.3 389.0,675.8 390.0,677.8 390.7,679.3 391.8,681.3 392.7,682.8 393.5,684.3 394.7,686.3 395.6,687.8 396.6,689.3 397.8,691.3 398.8,692.8 400.1,694.8 401.2,696.3 402.3,697.8 403.7,699.9 404.8,701.4 405.9,702.9 407.3,704.9 408.3,706.4 409.5,708.4 410.2,709.9 411.0,711.4 411.8,713.4 412.4,714.9 412.9,716.4 413.5,718.4 413.9,719.9 414.4,721.9 414.6,723.4 414.7,724.9 414.8,726.9 414.6,728.4 414.4,729.9 413.9,731.9 413.4,733.5 412.6,735.5 412.0,737.0 411.2,738.5 410.2,740.5 409.3,742.0 408.4,743.5 407.2,745.5 406.1,747.0 404.7,749.0 403.6,750.5 402.5,752.0 400.9,754.0 399.8,755.5 398.6,757.0 397.1,759.0 396.0,760.5 394.6,762.5 393.6,764.0 392.6,765.5 391.3,767.6 390.3,769.1 389.4,770.6 388.3,772.6 387.4,774.1 386.4,776.1 385.6,777.6 384.8,779.1 383.9,781.1 383.4,782.6 370.6,782.6 370.1,781.1 369.2,779.1 368.4,777.6 367.6,776.1 366.6,774.1 365.7,772.6 364.6,770.6 363.7,769.1 362.7,767.6 361.4,765.5 360.4,764.0 359.4,762.5 358.0,760.5 356.9,759.0 355.4,757.0 354.2,755.5 353.1,754.0 351.5,752.0 350.4,750.5 349.3,749.0 347.9,747.0 346.8,745.5 345.6,743.5 344.7,742.0 343.8,740.5 342.8,738.5 342.0,737.0 341.4,735.5 340.6,733.5 340.1,731.9 339.6,729.9 339.4,728.4 339.2,726.9 339.3,724.9 339.4,723.4 339.6,721.9 340.1,719.9 340.5,718.4 341.1,716.4 341.6,714.9 342.2,713.4 343.0,711.4 343.8,709.9 344.5,708.4 345.7,706.4 346.7,704.9 348.1,702.9 349.2,701.4 350.3,699.9 351.7,697.8 352.8,696.3 353.9,694.8 355.2,692.8 356.2,691.3 357.4,689.3 358.4,687.8 359.3,686.3 360.5,684.3 361.3,682.8 362.2,681.3 363.3,679.3 364.0,677.8 365.0,675.8 365.6,674.3 366.2,672.8 366.9,670.8 367.4,669.3 367.9,667.8 368.4,665.8 368.8,664.2 369.2,662.2 369.6,660.7 369.8,659.2 370.2,657.2 370.4,655.7 370.6,654.2 370.8,652.2 371.0,650.7 371.2,648.7 371.3,647.2 371.4,645.7 371.5,643.7 371.6,642.2 371.7,640.7 371.8,638.7 371.9,637.2 371.9,635.2 371.9,633.7 371.9,632.2 371.9,630.1 371.9,628.6 371.9,627.1 371.9,625.1 371.9,623.6 372.0,621.6 372.1,620.1 372.2,618.6 372.3,616.6 372.4,615.1Z" fill="#F29200" stroke="#111111" stroke-width="2.2" stroke-linejoin="round"/>
<line x1="377" y1="640.6" x2="377" y2="782.6" stroke="#111111" stroke-width="2.0" stroke-linecap="butt"/>
<rect x="373.9" y="702.9" width="6.2" height="42.9" fill="#111111"/>
<circle cx="377" cy="726.4" r="7" fill="#fff"/>
<path d="M478.7,630.0 479.0,631.5 479.6,633.5 480.0,635.0 480.5,636.5 481.1,638.5 481.6,640.0 482.2,642.0 482.7,643.5 483.1,645.0 483.8,647.1 484.3,648.6 484.8,650.1 485.6,652.1 486.1,653.6 486.7,655.1 487.5,657.1 488.1,658.6 489.0,660.6 489.6,662.1 490.3,663.6 491.2,665.6 491.9,667.1 492.6,668.6 493.5,670.6 494.3,672.1 495.2,674.1 495.9,675.6 496.6,677.2 497.5,679.2 498.2,680.7 498.9,682.2 499.8,684.2 500.4,685.7 501.0,687.2 501.8,689.2 502.4,690.7 503.1,692.7 503.6,694.2 504.1,695.7 504.8,697.7 505.2,699.2 505.7,700.7 506.2,702.7 506.6,704.2 507.0,705.7 507.4,707.8 507.7,709.3 508.1,711.3 508.4,712.8 508.6,714.3 508.8,716.3 509.0,717.8 509.1,719.3 509.2,721.3 509.2,722.8 509.1,724.3 509.0,726.3 508.8,727.8 508.5,729.8 508.3,731.3 508.0,732.8 507.5,734.8 507.1,736.3 506.6,737.9 506.0,739.9 505.5,741.4 505.0,742.9 504.2,744.9 503.7,746.4 503.0,748.4 502.4,749.9 501.9,751.4 501.2,753.4 500.7,754.9 500.3,756.4 499.7,758.4 499.3,759.9 498.8,761.9 498.5,763.4 498.2,764.9 497.8,766.9 497.6,768.5 497.3,770.0 497.0,772.0 496.9,773.5 496.7,775.0 496.5,777.0 496.4,778.5 496.3,780.5 496.2,782.0 496.2,783.5 496.1,785.5 496.1,787.0 496.1,788.5 496.2,790.5 496.2,792.0 496.3,793.5 496.4,795.5 496.4,797.0 496.6,799.1 496.7,800.6 496.8,802.1 497.0,804.1 497.1,805.6 497.2,807.1 497.3,809.1 497.3,810.6 497.3,812.1 497.3,814.1 497.2,815.6 497.0,817.6 496.8,819.1 496.6,820.6 496.3,822.6 496.0,824.1 495.7,825.6 495.2,827.6 494.8,829.2 494.4,830.7 493.8,832.7 493.4,834.2 492.7,836.2 492.2,837.7 491.7,839.2 491.0,841.2 490.5,842.7 489.9,844.2 489.1,846.2 488.6,847.7 487.8,849.7 487.2,851.2 486.7,852.7 485.9,854.7 485.3,856.2 484.8,857.7 484.0,859.8 483.5,861.3 482.9,862.8 482.2,864.8 481.7,866.3 481.0,868.3 480.5,869.8 480.0,871.3 479.3,873.3 479.0,874.8 464.2,874.8 463.9,873.3 463.2,871.3 462.7,869.8 462.2,868.3 461.5,866.3 461.0,864.8 460.3,862.8 459.7,861.3 459.2,859.8 458.4,857.7 457.9,856.2 457.3,854.7 456.5,852.7 456.0,851.2 455.4,849.7 454.6,847.7 454.1,846.2 453.3,844.2 452.7,842.7 452.2,841.2 451.5,839.2 451.0,837.7 450.5,836.2 449.8,834.2 449.4,832.7 448.8,830.7 448.4,829.2 448.0,827.6 447.5,825.6 447.2,824.1 446.9,822.6 446.6,820.6 446.4,819.1 446.2,817.6 446.0,815.6 445.9,814.1 445.9,812.1 445.9,810.6 445.9,809.1 446.0,807.1 446.1,805.6 446.2,804.1 446.4,802.1 446.5,800.6 446.6,799.1 446.8,797.0 446.8,795.5 446.9,793.5 447.0,792.0 447.0,790.5 447.1,788.5 447.1,787.0 447.1,785.5 447.0,783.5 447.0,782.0 446.9,780.5 446.8,778.5 446.7,777.0 446.5,775.0 446.3,773.5 446.2,772.0 445.9,770.0 445.6,768.5 445.4,766.9 445.0,764.9 444.7,763.4 444.4,761.9 443.9,759.9 443.5,758.4 442.9,756.4 442.5,754.9 442.0,753.4 441.3,751.4 440.8,749.9 440.2,748.4 439.5,746.4 439.0,744.9 438.2,742.9 437.7,741.4 437.2,739.9 436.6,737.9 436.1,736.3 435.7,734.8 435.2,732.8 434.9,731.3 434.7,729.8 434.4,727.8 434.2,726.3 434.1,724.3 434.0,722.8 434.0,721.3 434.1,719.3 434.2,717.8 434.4,716.3 434.6,714.3 434.8,712.8 435.1,711.3 435.5,709.3 435.8,707.8 436.2,705.7 436.6,704.2 437.0,702.7 437.5,700.7 438.0,699.2 438.4,697.7 439.1,695.7 439.6,694.2 440.1,692.7 440.8,690.7 441.4,689.2 442.2,687.2 442.8,685.7 443.4,684.2 444.3,682.2 445.0,680.7 445.7,679.2 446.6,677.2 447.3,675.6 448.0,674.1 448.9,672.1 449.7,670.6 450.6,668.6 451.3,667.1 452.0,665.6 452.9,663.6 453.6,662.1 454.2,660.6 455.1,658.6 455.7,657.1 456.5,655.1 457.1,653.6 457.6,652.1 458.4,650.1 458.9,648.6 459.4,647.1 460.1,645.0 460.5,643.5 461.0,642.0 461.6,640.0 462.1,638.5 462.7,636.5 463.2,635.0 463.6,633.5 464.2,631.5 464.5,630.0Z" fill="#E2DF00" stroke="#111111" stroke-width="2.2" stroke-linejoin="round"/>
<line x1="471.6" y1="630" x2="471.6" y2="874.8" stroke="#111111" stroke-width="2.0" stroke-linecap="butt"/>
<rect x="468.5" y="705.6" width="6.2" height="102" fill="#111111"/>
<circle cx="471.6" cy="742.4" r="7" fill="#fff"/>
<rect x="125" y="603.3" width="409.3" height="336.2" fill="none" stroke="#111111" stroke-width="3"/>
<text x="142" y="643.3" font-size="36" font-weight="bold" text-anchor="start" fill="#111111">Si (a.p.f.u.)</text>
<line x1="604.1" y1="631.8" x2="626.6" y2="631.8" stroke="#111111" stroke-width="2.6" stroke-linecap="butt"/>
<text transform="translate(593.8,632) rotate(-90)" font-size="36" text-anchor="middle" fill="#111111">0.90</text>
<line x1="604.1" y1="703.4" x2="626.6" y2="703.4" stroke="#111111" stroke-width="2.6" stroke-linecap="butt"/>
<line x1="604.1" y1="775" x2="626.6" y2="775" stroke="#111111" stroke-width="2.6" stroke-linecap="butt"/>
<text transform="translate(593.8,774.8) rotate(-90)" font-size="36" text-anchor="middle" fill="#111111">0.80</text>
<line x1="604.1" y1="846.6" x2="626.6" y2="846.6" stroke="#111111" stroke-width="2.6" stroke-linecap="butt"/>
<line x1="604.1" y1="918.2" x2="626.6" y2="918.2" stroke="#111111" stroke-width="2.6" stroke-linecap="butt"/>
<text transform="translate(593.8,917) rotate(-90)" font-size="36" text-anchor="middle" fill="#111111">0.70</text>
<path d="M692.2,769.6 692.4,771.1 692.9,773.1 693.3,774.6 694.1,776.6 694.9,778.1 695.8,779.6 697.1,781.6 698.3,783.2 699.9,785.2 701.2,786.7 702.5,788.2 704.3,790.2 705.7,791.7 707.6,793.7 709.1,795.2 710.6,796.7 712.7,798.7 714.3,800.2 715.9,801.7 718.0,803.7 719.5,805.2 721.3,807.3 722.4,808.8 723.5,810.3 724.6,812.3 725.3,813.8 726.1,815.8 726.5,817.3 726.9,818.8 727.2,820.8 727.2,822.3 727.2,824.3 727.0,825.8 726.7,827.3 726.0,829.3 725.4,830.9 724.3,832.9 723.4,834.4 722.4,835.9 721.1,837.9 720.1,839.4 718.7,841.4 717.6,842.9 716.5,844.4 715.0,846.4 713.8,847.9 712.1,849.9 710.8,851.4 709.4,852.9 707.7,855.0 706.4,856.5 704.7,858.5 703.4,860.0 702.2,861.5 700.6,863.5 699.4,865.0 698.3,866.5 697.0,868.5 696.0,870.0 694.8,872.0 694.0,873.5 693.3,875.0 692.5,877.0 692.0,878.6 691.5,880.6 691.2,882.1 690.9,883.6 690.7,885.6 690.6,887.1 690.5,889.1 690.4,890.6 687.6,890.6 687.5,889.1 687.4,887.1 687.3,885.6 687.1,883.6 686.8,882.1 686.5,880.6 686.0,878.6 685.5,877.0 684.7,875.0 684.0,873.5 683.2,872.0 682.0,870.0 681.0,868.5 679.7,866.5 678.6,865.0 677.4,863.5 675.8,861.5 674.6,860.0 673.3,858.5 671.6,856.5 670.3,855.0 668.6,852.9 667.2,851.4 665.9,849.9 664.2,847.9 663.0,846.4 661.5,844.4 660.4,842.9 659.3,841.4 657.9,839.4 656.9,837.9 655.6,835.9 654.6,834.4 653.7,832.9 652.6,830.9 652.0,829.3 651.3,827.3 651.0,825.8 650.8,824.3 650.8,822.3 650.8,820.8 651.1,818.8 651.5,817.3 651.9,815.8 652.7,813.8 653.4,812.3 654.5,810.3 655.6,808.8 656.7,807.3 658.5,805.2 660.0,803.7 662.1,801.7 663.7,800.2 665.3,798.7 667.4,796.7 668.9,795.2 670.4,793.7 672.3,791.7 673.7,790.2 675.5,788.2 676.8,786.7 678.1,785.2 679.7,783.2 680.9,781.6 682.2,779.6 683.1,778.1 683.9,776.6 684.7,774.6 685.1,773.1 685.6,771.1 685.8,769.6Z" fill="#2E3597" stroke="#111111" stroke-width="2.2" stroke-linejoin="round"/>
<line x1="689" y1="776.5" x2="689" y2="871" stroke="#111111" stroke-width="2.0" stroke-linecap="butt"/>
<rect x="685.9" y="812.1" width="6.2" height="24.1" fill="#111111"/>
<circle cx="689" cy="824" r="7" fill="#fff"/>
<path d="M784.4,704.5 784.4,706.0 784.5,708.0 784.5,709.5 784.5,711.0 784.6,713.0 784.6,714.5 784.7,716.5 784.7,718.0 784.7,719.5 784.8,721.6 784.8,723.1 784.9,724.6 785.0,726.6 785.0,728.1 785.1,729.6 785.3,731.6 785.4,733.1 785.6,735.1 785.8,736.6 786.1,738.1 786.4,740.1 786.7,741.6 787.0,743.1 787.4,745.1 787.8,746.6 788.1,748.1 788.6,750.1 788.9,751.7 789.3,753.2 789.7,755.2 790.1,756.7 790.6,758.7 791.0,760.2 791.4,761.7 792.0,763.7 792.5,765.2 792.9,766.7 793.6,768.7 794.1,770.2 794.7,771.7 795.4,773.7 796.0,775.2 796.8,777.2 797.4,778.7 798.0,780.2 798.9,782.2 799.6,783.8 800.2,785.3 801.2,787.3 801.9,788.8 802.7,790.3 803.8,792.3 804.6,793.8 805.7,795.8 806.6,797.3 807.4,798.8 808.5,800.8 809.3,802.3 810.1,803.8 811.2,805.8 811.9,807.3 812.6,808.8 813.5,810.8 814.2,812.3 814.8,813.8 815.7,815.9 816.2,817.4 817.0,819.4 817.5,820.9 818.0,822.4 818.7,824.4 819.1,825.9 819.5,827.4 820.0,829.4 820.3,830.9 820.6,832.4 820.9,834.4 821.0,835.9 821.0,837.9 820.9,839.4 820.6,840.9 820.2,842.9 819.8,844.4 819.3,846.0 818.6,848.0 818.0,849.5 817.3,851.0 816.4,853.0 815.7,854.5 814.6,856.5 813.8,858.0 812.9,859.5 811.6,861.5 810.7,863.0 809.7,864.5 808.3,866.5 807.3,868.0 806.3,869.5 805.0,871.5 804.1,873.0 802.9,875.0 802.0,876.5 801.2,878.1 800.1,880.1 799.3,881.6 798.5,883.1 797.6,885.1 796.9,886.6 796.2,888.1 795.3,890.1 794.7,891.6 794.1,893.1 793.3,895.1 792.7,896.6 792.0,898.6 791.5,900.1 791.0,901.6 790.3,903.6 789.8,905.1 789.3,906.6 788.8,908.7 788.4,910.2 788.1,911.7 787.7,913.7 787.4,915.2 787.1,917.2 786.9,918.7 786.7,920.2 786.6,922.2 786.5,923.7 780.3,923.7 780.2,922.2 780.1,920.2 779.9,918.7 779.7,917.2 779.4,915.2 779.1,913.7 778.7,911.7 778.4,910.2 778.0,908.7 777.5,906.6 777.0,905.1 776.5,903.6 775.8,901.6 775.3,900.1 774.8,898.6 774.1,896.6 773.5,895.1 772.7,893.1 772.1,891.6 771.5,890.1 770.6,888.1 769.9,886.6 769.2,885.1 768.3,883.1 767.5,881.6 766.7,880.1 765.6,878.1 764.8,876.5 763.9,875.0 762.7,873.0 761.8,871.5 760.5,869.5 759.5,868.0 758.5,866.5 757.1,864.5 756.1,863.0 755.2,861.5 753.9,859.5 753.0,858.0 752.2,856.5 751.1,854.5 750.4,853.0 749.5,851.0 748.8,849.5 748.2,848.0 747.5,846.0 747.0,844.4 746.6,842.9 746.2,840.9 745.9,839.4 745.8,837.9 745.8,835.9 745.9,834.4 746.2,832.4 746.5,830.9 746.8,829.4 747.3,827.4 747.7,825.9 748.1,824.4 748.8,822.4 749.3,820.9 749.8,819.4 750.6,817.4 751.1,815.9 752.0,813.8 752.6,812.3 753.3,810.8 754.2,808.8 754.9,807.3 755.6,805.8 756.7,803.8 757.5,802.3 758.3,800.8 759.4,798.8 760.2,797.3 761.1,795.8 762.2,793.8 763.0,792.3 764.1,790.3 764.9,788.8 765.6,787.3 766.6,785.3 767.2,783.8 767.9,782.2 768.8,780.2 769.4,778.7 770.0,777.2 770.8,775.2 771.4,773.7 772.1,771.7 772.7,770.2 773.2,768.7 773.9,766.7 774.3,765.2 774.8,763.7 775.4,761.7 775.8,760.2 776.2,758.7 776.7,756.7 777.1,755.2 777.5,753.2 777.9,751.7 778.2,750.1 778.7,748.1 779.0,746.6 779.4,745.1 779.8,743.1 780.1,741.6 780.4,740.1 780.7,738.1 781.0,736.6 781.2,735.1 781.4,733.1 781.5,731.6 781.7,729.6 781.8,728.1 781.8,726.6 781.9,724.6 782.0,723.1 782.0,721.6 782.1,719.5 782.1,718.0 782.1,716.5 782.2,714.5 782.2,713.0 782.3,711.0 782.3,709.5 782.3,708.0 782.4,706.0 782.4,704.5Z" fill="#8D2DB3" stroke="#111111" stroke-width="2.2" stroke-linejoin="round"/>
<line x1="783.4" y1="776.7" x2="783.4" y2="895.1" stroke="#111111" stroke-width="2.0" stroke-linecap="butt"/>
<rect x="780.3" y="820.2" width="6.2" height="30.6" fill="#111111"/>
<circle cx="783.4" cy="835.9" r="7" fill="#fff"/>
<path d="M884.0,734.1 884.1,735.6 884.4,737.6 884.6,739.1 884.9,740.6 885.4,742.6 885.8,744.1 886.4,746.2 886.9,747.7 887.4,749.2 888.3,751.2 888.9,752.7 889.7,754.2 890.7,756.2 891.5,757.7 892.4,759.2 893.7,761.2 894.7,762.7 895.7,764.2 897.3,766.3 898.4,767.8 900.1,769.8 901.3,771.3 902.5,772.8 904.2,774.8 905.3,776.3 906.4,777.8 907.8,779.8 908.8,781.3 909.7,782.8 910.8,784.8 911.6,786.3 912.5,788.4 913.1,789.9 913.6,791.4 914.2,793.4 914.5,794.9 914.8,796.4 915.1,798.4 915.3,799.9 915.4,801.4 915.4,803.4 915.3,804.9 915.2,806.4 914.8,808.4 914.4,810.0 913.8,812.0 913.2,813.5 912.5,815.0 911.4,817.0 910.4,818.5 909.4,820.0 908.0,822.0 906.8,823.5 905.6,825.0 904.0,827.0 902.8,828.5 901.3,830.6 900.1,832.1 899.0,833.6 897.6,835.6 896.6,837.1 895.6,838.6 894.4,840.6 893.5,842.1 892.7,843.6 891.7,845.6 891.0,847.1 890.4,848.6 889.7,850.6 889.2,852.2 888.7,854.2 888.5,855.7 888.3,857.2 888.0,859.2 887.9,860.7 887.9,862.2 887.8,864.2 887.8,865.7 887.8,867.2 887.8,869.2 887.8,870.7 887.9,872.2 887.9,874.3 888.0,875.8 888.2,877.8 888.3,879.3 888.4,880.8 888.6,882.8 888.7,884.3 888.7,885.8 888.8,887.8 888.8,889.3 888.8,890.8 888.8,892.8 888.7,894.3 888.6,896.4 888.5,897.9 888.3,899.4 888.1,901.4 887.9,902.9 887.7,904.4 887.4,906.4 887.2,907.9 887.0,909.4 886.7,911.4 886.5,912.9 886.3,914.4 886.0,916.5 885.7,918.0 885.4,920.0 885.2,921.5 884.9,923.0 884.6,925.0 884.4,926.5 871.4,926.5 871.2,925.0 870.9,923.0 870.6,921.5 870.4,920.0 870.1,918.0 869.8,916.5 869.5,914.4 869.3,912.9 869.1,911.4 868.8,909.4 868.6,907.9 868.4,906.4 868.1,904.4 867.9,902.9 867.7,901.4 867.5,899.4 867.3,897.9 867.2,896.4 867.1,894.3 867.0,892.8 867.0,890.8 867.0,889.3 867.0,887.8 867.1,885.8 867.1,884.3 867.2,882.8 867.4,880.8 867.5,879.3 867.6,877.8 867.8,875.8 867.9,874.3 867.9,872.2 868.0,870.7 868.0,869.2 868.0,867.2 868.0,865.7 868.0,864.2 867.9,862.2 867.9,860.7 867.8,859.2 867.5,857.2 867.3,855.7 867.1,854.2 866.6,852.2 866.1,850.6 865.4,848.6 864.8,847.1 864.1,845.6 863.1,843.6 862.3,842.1 861.4,840.6 860.2,838.6 859.2,837.1 858.2,835.6 856.8,833.6 855.7,832.1 854.5,830.6 853.0,828.5 851.8,827.0 850.2,825.0 849.0,823.5 847.8,822.0 846.4,820.0 845.4,818.5 844.4,817.0 843.3,815.0 842.6,813.5 842.0,812.0 841.4,810.0 841.0,808.4 840.6,806.4 840.5,804.9 840.4,803.4 840.4,801.4 840.5,799.9 840.7,798.4 841.0,796.4 841.3,794.9 841.6,793.4 842.2,791.4 842.7,789.9 843.3,788.4 844.2,786.3 845.0,784.8 846.1,782.8 847.0,781.3 848.0,779.8 849.4,777.8 850.5,776.3 851.6,774.8 853.3,772.8 854.5,771.3 855.7,769.8 857.4,767.8 858.5,766.3 860.1,764.2 861.1,762.7 862.1,761.2 863.4,759.2 864.3,757.7 865.1,756.2 866.1,754.2 866.9,752.7 867.5,751.2 868.4,749.2 868.9,747.7 869.4,746.2 870.0,744.1 870.4,742.6 870.9,740.6 871.2,739.1 871.4,737.6 871.7,735.6 871.8,734.1Z" fill="#F29200" stroke="#111111" stroke-width="2.2" stroke-linejoin="round"/>
<line x1="877.9" y1="734.7" x2="877.9" y2="909.1" stroke="#111111" stroke-width="2.0" stroke-linecap="butt"/>
<rect x="874.8" y="792.8" width="6.2" height="47.1" fill="#111111"/>
<circle cx="877.9" cy="806.7" r="7" fill="#fff"/>
<path d="M974.5,613.9 974.6,615.4 974.6,617.4 974.7,618.9 974.8,620.4 975.0,622.4 975.1,623.9 975.4,625.9 975.6,627.4 975.8,628.9 976.2,631.0 976.6,632.5 977.0,634.0 977.6,636.0 978.1,637.5 978.8,639.5 979.4,641.0 980.0,642.5 980.9,644.5 981.6,646.0 982.3,647.5 983.2,649.5 984.0,651.0 985.0,653.0 985.7,654.5 986.5,656.0 987.6,658.0 988.4,659.5 989.2,661.0 990.4,663.1 991.2,664.6 992.3,666.6 993.1,668.1 993.9,669.6 994.9,671.6 995.7,673.1 996.4,674.6 997.3,676.6 998.0,678.1 998.6,679.6 999.5,681.6 1000.1,683.1 1000.8,685.1 1001.4,686.6 1001.9,688.1 1002.6,690.1 1003.1,691.6 1003.5,693.1 1004.1,695.2 1004.6,696.7 1005.1,698.7 1005.5,700.2 1005.8,701.7 1006.3,703.7 1006.7,705.2 1007.0,706.7 1007.5,708.7 1007.8,710.2 1008.2,712.2 1008.5,713.7 1008.8,715.2 1009.2,717.2 1009.4,718.7 1009.6,720.2 1009.8,722.2 1010.0,723.7 1010.1,725.8 1010.2,727.3 1010.3,728.8 1010.3,730.8 1010.3,732.3 1010.3,733.8 1010.3,735.8 1010.2,737.3 1010.1,739.3 1010.0,740.8 1009.9,742.3 1009.6,744.3 1009.5,745.8 1009.3,747.3 1009.0,749.3 1008.7,750.8 1008.4,752.3 1008.0,754.3 1007.6,755.8 1007.1,757.9 1006.6,759.4 1006.2,760.9 1005.5,762.9 1005.0,764.4 1004.4,765.9 1003.6,767.9 1003.0,769.4 1002.0,771.4 1001.3,772.9 1000.5,774.4 999.3,776.4 998.4,777.9 997.4,779.4 996.0,781.4 994.9,782.9 993.5,784.9 992.4,786.4 991.4,787.9 990.0,790.0 989.1,791.5 988.2,793.0 987.0,795.0 986.2,796.5 985.1,798.5 984.4,800.0 983.6,801.5 982.7,803.5 982.2,805.0 962.6,805.0 962.1,803.5 961.2,801.5 960.4,800.0 959.7,798.5 958.6,796.5 957.8,795.0 956.6,793.0 955.7,791.5 954.8,790.0 953.4,787.9 952.4,786.4 951.3,784.9 949.9,782.9 948.8,781.4 947.4,779.4 946.4,777.9 945.5,776.4 944.3,774.4 943.5,772.9 942.8,771.4 941.8,769.4 941.2,767.9 940.4,765.9 939.8,764.4 939.3,762.9 938.6,760.9 938.2,759.4 937.7,757.9 937.2,755.8 936.8,754.3 936.4,752.3 936.1,750.8 935.8,749.3 935.5,747.3 935.3,745.8 935.2,744.3 934.9,742.3 934.8,740.8 934.7,739.3 934.6,737.3 934.5,735.8 934.5,733.8 934.5,732.3 934.5,730.8 934.5,728.8 934.6,727.3 934.7,725.8 934.8,723.7 935.0,722.2 935.2,720.2 935.4,718.7 935.6,717.2 936.0,715.2 936.3,713.7 936.6,712.2 937.0,710.2 937.3,708.7 937.8,706.7 938.1,705.2 938.5,703.7 939.0,701.7 939.3,700.2 939.7,698.7 940.2,696.7 940.7,695.2 941.3,693.1 941.7,691.6 942.2,690.1 942.9,688.1 943.4,686.6 944.0,685.1 944.7,683.1 945.3,681.6 946.2,679.6 946.8,678.1 947.5,676.6 948.4,674.6 949.1,673.1 949.9,671.6 950.9,669.6 951.7,668.1 952.5,666.6 953.6,664.6 954.4,663.1 955.6,661.0 956.4,659.5 957.2,658.0 958.3,656.0 959.1,654.5 959.8,653.0 960.8,651.0 961.6,649.5 962.5,647.5 963.2,646.0 963.9,644.5 964.8,642.5 965.4,641.0 966.0,639.5 966.7,637.5 967.2,636.0 967.8,634.0 968.2,632.5 968.6,631.0 969.0,628.9 969.2,627.4 969.4,625.9 969.7,623.9 969.8,622.4 970.0,620.4 970.1,618.9 970.2,617.4 970.2,615.4 970.3,613.9Z" fill="#E2DF00" stroke="#111111" stroke-width="2.2" stroke-linejoin="round"/>
<line x1="972.4" y1="613.9" x2="972.4" y2="805" stroke="#111111" stroke-width="2.0" stroke-linecap="butt"/>
<rect x="969.3" y="700.2" width="6.2" height="63.1" fill="#111111"/>
<circle cx="972.4" cy="733.6" r="7" fill="#fff"/>
<rect x="626.6" y="602.2" width="408.5" height="336.8" fill="none" stroke="#111111" stroke-width="3"/>
<text x="654" y="643.3" font-size="36" font-weight="bold" text-anchor="start" fill="#111111">Mg (a.p.f.u.)</text>
<line x1="1104.9" y1="644.3" x2="1127.4" y2="644.3" stroke="#111111" stroke-width="2.6" stroke-linecap="butt"/>
<text transform="translate(1095.6,654.6) rotate(-90)" font-size="36" text-anchor="middle" fill="#111111">0.025</text>
<line x1="1104.9" y1="700.8" x2="1127.4" y2="700.8" stroke="#111111" stroke-width="2.6" stroke-linecap="butt"/>
<line x1="1104.9" y1="757.3" x2="1127.4" y2="757.3" stroke="#111111" stroke-width="2.6" stroke-linecap="butt"/>
<line x1="1104.9" y1="813.8" x2="1127.4" y2="813.8" stroke="#111111" stroke-width="2.6" stroke-linecap="butt"/>
<text transform="translate(1095.6,820.4) rotate(-90)" font-size="36" text-anchor="middle" fill="#111111">0.010</text>
<line x1="1104.9" y1="870.3" x2="1127.4" y2="870.3" stroke="#111111" stroke-width="2.6" stroke-linecap="butt"/>
<line x1="1104.9" y1="926.8" x2="1127.4" y2="926.8" stroke="#111111" stroke-width="2.6" stroke-linecap="butt"/>
<text transform="translate(1095.6,926.6) rotate(-90)" font-size="36" text-anchor="middle" fill="#111111">0</text>
<path d="M1190.7,763.5 1190.7,765.0 1190.7,767.0 1190.7,768.5 1190.7,770.0 1190.7,772.0 1190.7,773.5 1190.7,775.5 1190.7,777.0 1190.7,778.5 1190.7,780.6 1190.7,782.1 1190.7,783.6 1190.7,785.6 1190.7,787.1 1190.7,788.6 1190.7,790.6 1190.7,792.1 1190.7,793.6 1190.7,795.6 1190.7,797.1 1190.7,799.1 1190.7,800.6 1190.7,802.1 1190.7,804.1 1190.7,805.6 1190.7,807.1 1190.7,809.1 1190.7,810.6 1190.7,812.1 1190.7,814.2 1190.7,815.7 1190.7,817.7 1190.7,819.2 1190.7,820.7 1190.7,822.7 1190.7,824.2 1190.7,825.7 1190.7,827.7 1190.8,829.2 1190.8,830.7 1190.9,832.7 1190.9,834.2 1191.0,836.2 1191.1,837.7 1191.1,839.2 1191.2,841.2 1191.3,842.7 1191.4,844.2 1191.6,846.3 1191.8,847.8 1192.0,849.3 1192.3,851.3 1192.5,852.8 1192.8,854.3 1193.2,856.3 1193.5,857.8 1194.1,859.8 1194.5,861.3 1195.0,862.8 1195.7,864.8 1196.3,866.3 1196.9,867.8 1197.9,869.8 1198.7,871.3 1199.5,872.8 1200.7,874.8 1201.6,876.3 1202.8,878.4 1203.7,879.9 1204.6,881.4 1205.9,883.4 1206.9,884.9 1207.9,886.4 1209.2,888.4 1210.2,889.9 1211.3,891.4 1212.7,893.4 1213.7,894.9 1215.2,896.9 1216.3,898.4 1217.4,899.9 1218.7,901.9 1219.7,903.4 1220.6,904.9 1221.9,906.9 1222.8,908.4 1223.7,909.9 1224.9,912.0 1225.6,913.5 1226.3,915.0 1227.0,917.0 1227.5,918.5 1228.0,920.5 1228.2,922.0 1228.3,923.5 1228.4,925.5 1228.4,927.0 1151.8,927.0 1151.8,925.5 1151.9,923.5 1152.0,922.0 1152.2,920.5 1152.7,918.5 1153.2,917.0 1153.9,915.0 1154.6,913.5 1155.3,912.0 1156.5,909.9 1157.4,908.4 1158.3,906.9 1159.6,904.9 1160.5,903.4 1161.5,901.9 1162.8,899.9 1163.9,898.4 1165.0,896.9 1166.5,894.9 1167.5,893.4 1168.9,891.4 1170.0,889.9 1171.0,888.4 1172.3,886.4 1173.3,884.9 1174.3,883.4 1175.6,881.4 1176.5,879.9 1177.4,878.4 1178.6,876.3 1179.5,874.8 1180.7,872.8 1181.5,871.3 1182.3,869.8 1183.3,867.8 1183.9,866.3 1184.5,864.8 1185.2,862.8 1185.7,861.3 1186.1,859.8 1186.7,857.8 1187.0,856.3 1187.4,854.3 1187.7,852.8 1187.9,851.3 1188.2,849.3 1188.4,847.8 1188.6,846.3 1188.8,844.2 1188.9,842.7 1189.0,841.2 1189.1,839.2 1189.1,837.7 1189.2,836.2 1189.3,834.2 1189.3,832.7 1189.4,830.7 1189.4,829.2 1189.5,827.7 1189.5,825.7 1189.5,824.2 1189.5,822.7 1189.5,820.7 1189.5,819.2 1189.5,817.7 1189.5,815.7 1189.5,814.2 1189.5,812.1 1189.5,810.6 1189.5,809.1 1189.5,807.1 1189.5,805.6 1189.5,804.1 1189.5,802.1 1189.5,800.6 1189.5,799.1 1189.5,797.1 1189.5,795.6 1189.5,793.6 1189.5,792.1 1189.5,790.6 1189.5,788.6 1189.5,787.1 1189.5,785.6 1189.5,783.6 1189.5,782.1 1189.5,780.6 1189.5,778.5 1189.5,777.0 1189.5,775.5 1189.5,773.5 1189.5,772.0 1189.5,770.0 1189.5,768.5 1189.5,767.0 1189.5,765.0 1189.5,763.5Z" fill="#2E3597" stroke="#111111" stroke-width="2.2" stroke-linejoin="round"/>
<line x1="1190.1" y1="909.1" x2="1190.1" y2="927" stroke="#111111" stroke-width="2.0" stroke-linecap="butt"/>
<circle cx="1190.1" cy="927" r="7" fill="#fff"/>
<path d="M1285.4,807.1 1285.4,808.6 1285.4,810.6 1285.4,812.1 1285.4,814.2 1285.4,815.7 1285.4,817.2 1285.4,819.2 1285.4,820.7 1285.4,822.7 1285.5,824.2 1285.5,825.7 1285.5,827.8 1285.5,829.3 1285.5,831.3 1285.5,832.8 1285.5,834.3 1285.6,836.3 1285.6,837.8 1285.6,839.8 1285.6,841.4 1285.6,842.9 1285.7,844.9 1285.7,846.4 1285.7,848.4 1285.7,849.9 1285.7,851.4 1285.8,853.4 1285.8,855.0 1285.9,857.0 1285.9,858.5 1286.0,860.0 1286.1,862.0 1286.1,863.5 1286.2,865.5 1286.3,867.0 1286.5,868.6 1286.8,870.6 1287.2,872.1 1287.7,874.1 1288.2,875.6 1288.7,877.1 1289.3,879.1 1289.9,880.7 1290.8,882.7 1291.6,884.2 1292.5,885.7 1293.7,887.7 1294.7,889.2 1296.1,891.2 1297.2,892.7 1298.4,894.3 1300.2,896.3 1301.6,897.8 1303.6,899.8 1305.1,901.3 1306.5,902.8 1308.3,904.8 1309.7,906.3 1311.6,908.4 1313.0,909.9 1314.4,911.4 1316.2,913.4 1317.4,914.9 1319.0,916.9 1320.3,918.4 1321.5,919.9 1322.5,922.0 1322.8,923.5 1323.0,925.5 1323.1,927.0 1246.5,927.0 1246.6,925.5 1246.8,923.5 1247.1,922.0 1248.1,919.9 1249.3,918.4 1250.6,916.9 1252.2,914.9 1253.4,913.4 1255.2,911.4 1256.6,909.9 1258.0,908.4 1259.9,906.3 1261.3,904.8 1263.1,902.8 1264.5,901.3 1266.0,899.8 1268.0,897.8 1269.4,896.3 1271.2,894.3 1272.4,892.7 1273.5,891.2 1274.9,889.2 1275.9,887.7 1277.1,885.7 1278.0,884.2 1278.8,882.7 1279.7,880.7 1280.3,879.1 1280.9,877.1 1281.4,875.6 1281.9,874.1 1282.4,872.1 1282.8,870.6 1283.1,868.6 1283.3,867.0 1283.4,865.5 1283.5,863.5 1283.5,862.0 1283.6,860.0 1283.7,858.5 1283.7,857.0 1283.8,855.0 1283.8,853.4 1283.9,851.4 1283.9,849.9 1283.9,848.4 1283.9,846.4 1283.9,844.9 1284.0,842.9 1284.0,841.4 1284.0,839.8 1284.0,837.8 1284.0,836.3 1284.1,834.3 1284.1,832.8 1284.1,831.3 1284.1,829.3 1284.1,827.8 1284.1,825.7 1284.1,824.2 1284.2,822.7 1284.2,820.7 1284.2,819.2 1284.2,817.2 1284.2,815.7 1284.2,814.2 1284.2,812.1 1284.2,810.6 1284.2,808.6 1284.2,807.1Z" fill="#8D2DB3" stroke="#111111" stroke-width="2.2" stroke-linejoin="round"/>
<line x1="1284.8" y1="901.2" x2="1284.8" y2="927" stroke="#111111" stroke-width="2.0" stroke-linecap="butt"/>
<rect x="1281.7" y="915.9" width="6.2" height="4.3" fill="#111111"/>
<circle cx="1284.8" cy="927" r="7" fill="#fff"/>
<path d="M1380.2,807.2 1380.2,808.7 1380.2,810.7 1380.2,812.2 1380.1,814.3 1380.1,815.8 1380.1,817.3 1380.1,819.3 1380.1,820.8 1380.1,822.8 1380.1,824.3 1380.1,825.8 1380.0,827.9 1380.0,829.4 1380.0,831.4 1380.0,832.9 1380.0,834.4 1380.0,836.4 1380.0,837.9 1380.0,839.9 1380.0,841.5 1380.0,843.0 1380.0,845.0 1380.0,846.5 1380.0,848.5 1380.0,850.0 1380.0,851.5 1380.0,853.5 1380.0,855.1 1380.0,857.1 1380.0,858.6 1380.0,860.1 1380.0,862.1 1380.0,863.6 1380.0,865.6 1380.0,867.2 1380.1,868.7 1380.1,870.7 1380.1,872.2 1380.1,874.2 1380.1,875.7 1380.1,877.2 1380.1,879.2 1380.1,880.8 1380.2,882.8 1380.2,884.3 1380.2,885.8 1380.2,887.8 1380.3,889.3 1380.4,891.3 1380.6,892.8 1380.7,894.4 1380.9,896.4 1381.1,897.9 1381.6,899.9 1382.1,901.4 1382.7,902.9 1383.6,904.9 1384.4,906.4 1385.9,908.5 1387.3,910.0 1388.8,911.5 1391.2,913.5 1393.3,915.0 1397.3,917.0 1400.7,918.5 1404.2,920.0 1409.5,922.1 1412.7,923.6 1415.6,925.6 1417.1,927.1 1341.1,927.1 1342.6,925.6 1345.5,923.6 1348.7,922.1 1354.0,920.0 1357.5,918.5 1360.9,917.0 1364.9,915.0 1367.0,913.5 1369.4,911.5 1370.9,910.0 1372.3,908.5 1373.8,906.4 1374.6,904.9 1375.5,902.9 1376.1,901.4 1376.6,899.9 1377.1,897.9 1377.3,896.4 1377.5,894.4 1377.6,892.8 1377.8,891.3 1377.9,889.3 1378.0,887.8 1378.0,885.8 1378.0,884.3 1378.0,882.8 1378.1,880.8 1378.1,879.2 1378.1,877.2 1378.1,875.7 1378.1,874.2 1378.1,872.2 1378.1,870.7 1378.1,868.7 1378.2,867.2 1378.2,865.6 1378.2,863.6 1378.2,862.1 1378.2,860.1 1378.2,858.6 1378.2,857.1 1378.2,855.1 1378.2,853.5 1378.2,851.5 1378.2,850.0 1378.2,848.5 1378.2,846.5 1378.2,845.0 1378.2,843.0 1378.2,841.5 1378.2,839.9 1378.2,837.9 1378.2,836.4 1378.2,834.4 1378.2,832.9 1378.2,831.4 1378.2,829.4 1378.2,827.9 1378.1,825.8 1378.1,824.3 1378.1,822.8 1378.1,820.8 1378.1,819.3 1378.1,817.3 1378.1,815.8 1378.1,814.3 1378.0,812.2 1378.0,810.7 1378.0,808.7 1378.0,807.2Z" fill="#F29200" stroke="#111111" stroke-width="2.2" stroke-linejoin="round"/>
<circle cx="1379.1" cy="927.1" r="7" fill="#fff"/>
<path d="M1474.7,615.5 1474.7,617.0 1474.7,619.0 1474.7,620.5 1474.7,622.0 1474.7,624.0 1474.8,625.5 1474.8,627.0 1474.8,629.0 1474.8,630.5 1474.8,632.0 1474.8,634.0 1474.8,635.6 1474.8,637.1 1474.8,639.1 1474.9,640.6 1474.9,642.6 1474.9,644.1 1474.9,645.6 1474.9,647.6 1474.9,649.1 1474.9,650.6 1474.9,652.6 1475.0,654.1 1475.0,655.6 1475.0,657.6 1475.0,659.1 1475.0,660.6 1475.0,662.6 1475.0,664.1 1475.1,665.6 1475.1,667.6 1475.1,669.1 1475.1,670.6 1475.1,672.6 1475.2,674.2 1475.2,675.7 1475.2,677.7 1475.2,679.2 1475.3,680.7 1475.3,682.7 1475.3,684.2 1475.3,685.7 1475.4,687.7 1475.4,689.2 1475.4,690.7 1475.5,692.7 1475.5,694.2 1475.6,696.2 1475.6,697.7 1475.7,699.2 1475.8,701.2 1475.8,702.7 1475.9,704.2 1476.0,706.2 1476.0,707.7 1476.1,709.2 1476.2,711.2 1476.3,712.7 1476.3,714.3 1476.4,716.3 1476.5,717.8 1476.6,719.3 1476.7,721.3 1476.8,722.8 1476.9,724.3 1477.1,726.3 1477.2,727.8 1477.3,729.3 1477.4,731.3 1477.5,732.8 1477.6,734.3 1477.8,736.3 1477.9,737.8 1478.0,739.3 1478.2,741.3 1478.3,742.8 1478.4,744.3 1478.5,746.3 1478.6,747.8 1478.8,749.8 1478.9,751.3 1479.0,752.9 1479.2,754.9 1479.4,756.4 1479.5,757.9 1479.8,759.9 1479.9,761.4 1480.2,762.9 1480.4,764.9 1480.7,766.4 1480.9,767.9 1481.2,769.9 1481.5,771.4 1481.7,772.9 1482.1,774.9 1482.4,776.4 1482.6,777.9 1483.0,779.9 1483.3,781.4 1483.6,782.9 1484.0,784.9 1484.3,786.4 1484.6,787.9 1485.0,789.9 1485.3,791.5 1485.7,793.0 1486.1,795.0 1486.4,796.5 1486.9,798.5 1487.3,800.0 1487.6,801.5 1488.1,803.5 1488.5,805.0 1488.9,806.5 1489.4,808.5 1489.8,810.0 1490.2,811.5 1490.7,813.5 1491.2,815.0 1491.6,816.5 1492.2,818.5 1492.6,820.0 1493.1,821.5 1493.7,823.5 1494.2,825.0 1494.6,826.5 1495.2,828.5 1495.7,830.1 1496.1,831.6 1496.7,833.6 1497.2,835.1 1497.6,836.6 1498.2,838.6 1498.7,840.1 1499.1,841.6 1499.7,843.6 1500.2,845.1 1500.6,846.6 1501.2,848.6 1501.7,850.1 1502.3,852.1 1502.8,853.6 1503.2,855.1 1503.9,857.1 1504.4,858.6 1504.9,860.1 1505.5,862.1 1505.9,863.6 1506.4,865.1 1506.9,867.1 1507.3,868.6 1507.7,870.2 1508.2,872.2 1508.6,873.7 1508.9,875.2 1509.4,877.2 1509.8,878.7 1510.1,880.2 1510.4,882.2 1510.6,883.7 1510.8,885.2 1510.9,887.2 1511.0,888.7 1511.0,890.2 1511.1,892.2 1511.1,893.7 1511.2,895.2 1511.2,897.2 1511.2,898.7 1511.0,900.2 1510.5,902.2 1510.0,903.7 1509.3,905.7 1508.7,907.2 1508.2,908.8 1507.3,910.8 1506.4,912.3 1505.5,913.8 1504.2,915.8 1503.2,917.3 1502.3,918.8 1501.2,920.8 1500.4,922.3 1499.7,923.8 1498.7,925.8 1498.0,927.3 1449.2,927.3 1448.5,925.8 1447.5,923.8 1446.8,922.3 1446.0,920.8 1444.9,918.8 1444.0,917.3 1443.0,915.8 1441.7,913.8 1440.8,912.3 1439.9,910.8 1439.0,908.8 1438.5,907.2 1437.9,905.7 1437.2,903.7 1436.7,902.2 1436.2,900.2 1436.0,898.7 1436.0,897.2 1436.0,895.2 1436.1,893.7 1436.1,892.2 1436.2,890.2 1436.2,888.7 1436.3,887.2 1436.4,885.2 1436.6,883.7 1436.8,882.2 1437.1,880.2 1437.4,878.7 1437.8,877.2 1438.3,875.2 1438.6,873.7 1439.0,872.2 1439.5,870.2 1439.9,868.6 1440.3,867.1 1440.8,865.1 1441.3,863.6 1441.7,862.1 1442.3,860.1 1442.8,858.6 1443.3,857.1 1444.0,855.1 1444.4,853.6 1444.9,852.1 1445.5,850.1 1446.0,848.6 1446.6,846.6 1447.0,845.1 1447.5,843.6 1448.1,841.6 1448.5,840.1 1449.0,838.6 1449.6,836.6 1450.0,835.1 1450.5,833.6 1451.1,831.6 1451.5,830.1 1452.0,828.5 1452.6,826.5 1453.0,825.0 1453.5,823.5 1454.1,821.5 1454.6,820.0 1455.0,818.5 1455.6,816.5 1456.0,815.0 1456.5,813.5 1457.0,811.5 1457.4,810.0 1457.8,808.5 1458.3,806.5 1458.7,805.0 1459.1,803.5 1459.6,801.5 1459.9,800.0 1460.3,798.5 1460.8,796.5 1461.1,795.0 1461.5,793.0 1461.9,791.5 1462.2,789.9 1462.6,787.9 1462.9,786.4 1463.2,784.9 1463.6,782.9 1463.9,781.4 1464.2,779.9 1464.6,777.9 1464.8,776.4 1465.1,774.9 1465.5,772.9 1465.7,771.4 1466.0,769.9 1466.3,767.9 1466.5,766.4 1466.8,764.9 1467.0,762.9 1467.3,761.4 1467.4,759.9 1467.7,757.9 1467.8,756.4 1468.0,754.9 1468.2,752.9 1468.3,751.3 1468.4,749.8 1468.6,747.8 1468.7,746.3 1468.8,744.3 1468.9,742.8 1469.0,741.3 1469.2,739.3 1469.3,737.8 1469.4,736.3 1469.6,734.3 1469.7,732.8 1469.8,731.3 1469.9,729.3 1470.0,727.8 1470.1,726.3 1470.3,724.3 1470.4,722.8 1470.5,721.3 1470.6,719.3 1470.7,717.8 1470.8,716.3 1470.9,714.3 1470.9,712.7 1471.0,711.2 1471.1,709.2 1471.2,707.7 1471.2,706.2 1471.3,704.2 1471.4,702.7 1471.4,701.2 1471.5,699.2 1471.6,697.7 1471.6,696.2 1471.7,694.2 1471.7,692.7 1471.8,690.7 1471.8,689.2 1471.8,687.7 1471.9,685.7 1471.9,684.2 1471.9,682.7 1471.9,680.7 1472.0,679.2 1472.0,677.7 1472.0,675.7 1472.0,674.2 1472.1,672.6 1472.1,670.6 1472.1,669.1 1472.1,667.6 1472.1,665.6 1472.2,664.1 1472.2,662.6 1472.2,660.6 1472.2,659.1 1472.2,657.6 1472.2,655.6 1472.2,654.1 1472.3,652.6 1472.3,650.6 1472.3,649.1 1472.3,647.6 1472.3,645.6 1472.3,644.1 1472.3,642.6 1472.3,640.6 1472.4,639.1 1472.4,637.1 1472.4,635.6 1472.4,634.0 1472.4,632.0 1472.4,630.5 1472.4,629.0 1472.4,627.0 1472.4,625.5 1472.5,624.0 1472.5,622.0 1472.5,620.5 1472.5,619.0 1472.5,617.0 1472.5,615.5Z" fill="#E2DF00" stroke="#111111" stroke-width="2.2" stroke-linejoin="round"/>
<line x1="1473.6" y1="726.2" x2="1473.6" y2="927.3" stroke="#111111" stroke-width="2.0" stroke-linecap="butt"/>
<rect x="1470.5" y="834.2" width="6.2" height="72.8" fill="#111111"/>
<circle cx="1473.6" cy="880.3" r="7" fill="#fff"/>
<rect x="1127.4" y="602.7" width="409.4" height="337.1" fill="none" stroke="#111111" stroke-width="3"/>
<text x="1155.8" y="643.3" font-size="36" font-weight="bold" text-anchor="start" fill="#111111">Cr (a.p.f.u.)</text>
<line x1="102.5" y1="1012.5" x2="125" y2="1012.5" stroke="#111111" stroke-width="2.6" stroke-linecap="butt"/>
<text transform="translate(89,1009.4) rotate(-90)" font-size="36" text-anchor="middle" fill="#111111">0.16</text>
<line x1="102.5" y1="1063.2" x2="125" y2="1063.2" stroke="#111111" stroke-width="2.6" stroke-linecap="butt"/>
<line x1="102.5" y1="1113.9" x2="125" y2="1113.9" stroke="#111111" stroke-width="2.6" stroke-linecap="butt"/>
<line x1="102.5" y1="1164.6" x2="125" y2="1164.6" stroke="#111111" stroke-width="2.6" stroke-linecap="butt"/>
<text transform="translate(89,1163.6) rotate(-90)" font-size="36" text-anchor="middle" fill="#111111">0.10</text>
<line x1="102.5" y1="1215.3" x2="125" y2="1215.3" stroke="#111111" stroke-width="2.6" stroke-linecap="butt"/>
<line x1="102.5" y1="1266" x2="125" y2="1266" stroke="#111111" stroke-width="2.6" stroke-linecap="butt"/>
<line x1="102.5" y1="1316.7" x2="125" y2="1316.7" stroke="#111111" stroke-width="2.6" stroke-linecap="butt"/>
<text transform="translate(89,1316) rotate(-90)" font-size="36" text-anchor="middle" fill="#111111">0.04</text>
<path d="M193.6,1100.7 194.0,1102.2 194.8,1104.2 195.5,1105.7 196.7,1107.7 197.6,1109.2 198.7,1110.7 200.2,1112.7 201.4,1114.3 202.6,1115.8 204.2,1117.8 205.4,1119.3 207.0,1121.3 208.2,1122.8 209.4,1124.3 210.9,1126.3 212.0,1127.8 213.5,1129.8 214.6,1131.3 215.7,1132.8 217.1,1134.8 218.2,1136.3 219.5,1138.3 220.4,1139.9 221.3,1141.4 222.4,1143.4 223.1,1144.9 223.8,1146.4 224.6,1148.4 225.0,1149.9 225.6,1151.9 225.9,1153.4 226.1,1154.9 226.3,1156.9 226.3,1158.4 226.1,1160.4 225.9,1161.9 225.6,1163.4 225.0,1165.5 224.5,1167.0 223.9,1168.5 223.1,1170.5 222.3,1172.0 221.3,1174.0 220.4,1175.5 219.5,1177.0 218.3,1179.0 217.3,1180.5 215.8,1182.5 214.7,1184.0 213.6,1185.5 212.0,1187.5 210.8,1189.0 209.6,1190.6 208.0,1192.6 206.9,1194.1 205.3,1196.1 204.1,1197.6 202.9,1199.1 201.3,1201.1 200.2,1202.6 198.8,1204.6 197.9,1206.1 197.0,1207.6 196.0,1209.6 195.3,1211.1 194.4,1213.1 193.8,1214.6 193.3,1216.2 192.6,1218.2 192.2,1219.7 191.9,1221.2 191.6,1223.2 191.5,1224.7 191.4,1226.7 191.4,1228.2 184.8,1228.2 184.8,1226.7 184.7,1224.7 184.6,1223.2 184.3,1221.2 184.0,1219.7 183.6,1218.2 182.9,1216.2 182.4,1214.6 181.8,1213.1 180.9,1211.1 180.2,1209.6 179.2,1207.6 178.3,1206.1 177.4,1204.6 176.0,1202.6 174.9,1201.1 173.3,1199.1 172.1,1197.6 170.9,1196.1 169.3,1194.1 168.2,1192.6 166.6,1190.6 165.4,1189.0 164.2,1187.5 162.6,1185.5 161.5,1184.0 160.4,1182.5 158.9,1180.5 157.9,1179.0 156.7,1177.0 155.8,1175.5 154.9,1174.0 153.9,1172.0 153.1,1170.5 152.3,1168.5 151.7,1167.0 151.2,1165.5 150.6,1163.4 150.3,1161.9 150.1,1160.4 149.9,1158.4 149.9,1156.9 150.1,1154.9 150.3,1153.4 150.6,1151.9 151.2,1149.9 151.6,1148.4 152.4,1146.4 153.1,1144.9 153.8,1143.4 154.9,1141.4 155.8,1139.9 156.7,1138.3 158.0,1136.3 159.1,1134.8 160.5,1132.8 161.6,1131.3 162.7,1129.8 164.2,1127.8 165.3,1126.3 166.8,1124.3 168.0,1122.8 169.2,1121.3 170.8,1119.3 172.0,1117.8 173.6,1115.8 174.8,1114.3 176.0,1112.7 177.5,1110.7 178.6,1109.2 179.5,1107.7 180.7,1105.7 181.4,1104.2 182.2,1102.2 182.6,1100.7Z" fill="#2E3597" stroke="#111111" stroke-width="2.2" stroke-linejoin="round"/>
<line x1="188.1" y1="1100.7" x2="188.1" y2="1228.2" stroke="#111111" stroke-width="2.0" stroke-linecap="butt"/>
<rect x="185" y="1142.2" width="6.2" height="35" fill="#111111"/>
<circle cx="188.1" cy="1157.9" r="7" fill="#fff"/>
<path d="M285.0,1015.2 285.1,1016.7 285.3,1018.7 285.5,1020.2 285.7,1021.7 286.0,1023.7 286.3,1025.2 286.6,1027.3 286.9,1028.8 287.2,1030.3 287.6,1032.3 288.0,1033.8 288.3,1035.3 288.8,1037.3 289.2,1038.8 289.6,1040.3 290.2,1042.3 290.7,1043.8 291.1,1045.3 291.8,1047.3 292.3,1048.8 293.0,1050.8 293.6,1052.4 294.2,1053.9 295.0,1055.9 295.6,1057.4 296.2,1058.9 297.0,1060.9 297.7,1062.4 298.3,1063.9 299.2,1065.9 299.9,1067.4 300.8,1069.4 301.5,1070.9 302.2,1072.4 303.1,1074.4 303.9,1076.0 304.6,1077.5 305.6,1079.5 306.3,1081.0 307.1,1082.5 308.1,1084.5 308.9,1086.0 309.6,1087.5 310.6,1089.5 311.3,1091.0 312.3,1093.0 313.0,1094.5 313.7,1096.0 314.5,1098.0 315.2,1099.6 315.8,1101.1 316.6,1103.1 317.1,1104.6 317.6,1106.1 318.3,1108.1 318.7,1109.6 319.1,1111.1 319.5,1113.1 319.8,1114.6 320.1,1116.6 320.2,1118.1 320.3,1119.6 320.4,1121.6 320.4,1123.2 320.4,1124.7 320.2,1126.7 320.1,1128.2 319.9,1129.7 319.6,1131.7 319.3,1133.2 318.7,1135.2 318.2,1136.7 317.7,1138.2 316.8,1140.2 316.1,1141.7 315.4,1143.2 314.3,1145.2 313.4,1146.7 312.5,1148.3 311.3,1150.3 310.3,1151.8 309.3,1153.3 308.0,1155.3 307.0,1156.8 305.6,1158.8 304.7,1160.3 303.7,1161.8 302.5,1163.8 301.7,1165.3 300.8,1166.8 299.7,1168.8 299.0,1170.3 298.2,1171.9 297.3,1173.9 296.6,1175.4 295.9,1176.9 295.1,1178.9 294.5,1180.4 293.7,1182.4 293.2,1183.9 292.7,1185.4 292.0,1187.4 291.5,1188.9 291.1,1190.4 290.5,1192.4 290.1,1193.9 289.6,1195.5 289.1,1197.5 288.7,1199.0 288.1,1201.0 287.7,1202.5 287.3,1204.0 286.8,1206.0 286.4,1207.5 286.1,1209.0 285.6,1211.0 285.4,1212.5 285.1,1214.0 284.8,1216.0 284.6,1217.5 284.4,1219.0 284.2,1221.1 284.1,1222.6 284.0,1224.6 283.9,1226.1 283.8,1227.6 283.7,1229.6 283.6,1231.1 281.6,1231.1 281.5,1229.6 281.4,1227.6 281.3,1226.1 281.2,1224.6 281.1,1222.6 281.0,1221.1 280.8,1219.0 280.6,1217.5 280.4,1216.0 280.1,1214.0 279.8,1212.5 279.6,1211.0 279.1,1209.0 278.8,1207.5 278.4,1206.0 277.9,1204.0 277.5,1202.5 277.1,1201.0 276.5,1199.0 276.1,1197.5 275.6,1195.5 275.1,1193.9 274.7,1192.4 274.1,1190.4 273.7,1188.9 273.2,1187.4 272.5,1185.4 272.0,1183.9 271.5,1182.4 270.7,1180.4 270.1,1178.9 269.3,1176.9 268.6,1175.4 267.9,1173.9 267.0,1171.9 266.2,1170.3 265.5,1168.8 264.4,1166.8 263.5,1165.3 262.7,1163.8 261.5,1161.8 260.5,1160.3 259.6,1158.8 258.2,1156.8 257.2,1155.3 255.9,1153.3 254.9,1151.8 253.9,1150.3 252.7,1148.3 251.8,1146.7 250.9,1145.2 249.8,1143.2 249.1,1141.7 248.4,1140.2 247.5,1138.2 247.0,1136.7 246.5,1135.2 245.9,1133.2 245.6,1131.7 245.3,1129.7 245.1,1128.2 245.0,1126.7 244.8,1124.7 244.8,1123.2 244.8,1121.6 244.9,1119.6 245.0,1118.1 245.1,1116.6 245.4,1114.6 245.7,1113.1 246.1,1111.1 246.5,1109.6 246.9,1108.1 247.6,1106.1 248.1,1104.6 248.6,1103.1 249.4,1101.1 250.0,1099.6 250.7,1098.0 251.5,1096.0 252.2,1094.5 252.9,1093.0 253.9,1091.0 254.6,1089.5 255.6,1087.5 256.3,1086.0 257.1,1084.5 258.1,1082.5 258.9,1081.0 259.6,1079.5 260.6,1077.5 261.3,1076.0 262.1,1074.4 263.0,1072.4 263.7,1070.9 264.4,1069.4 265.3,1067.4 266.0,1065.9 266.9,1063.9 267.5,1062.4 268.2,1060.9 269.0,1058.9 269.6,1057.4 270.2,1055.9 271.0,1053.9 271.6,1052.4 272.2,1050.8 272.9,1048.8 273.4,1047.3 274.1,1045.3 274.5,1043.8 275.0,1042.3 275.6,1040.3 276.0,1038.8 276.4,1037.3 276.9,1035.3 277.2,1033.8 277.6,1032.3 278.0,1030.3 278.3,1028.8 278.6,1027.3 278.9,1025.2 279.2,1023.7 279.5,1021.7 279.7,1020.2 279.9,1018.7 280.1,1016.7 280.2,1015.2Z" fill="#8D2DB3" stroke="#111111" stroke-width="2.2" stroke-linejoin="round"/>
<line x1="282.6" y1="1043.3" x2="282.6" y2="1199.9" stroke="#111111" stroke-width="2.0" stroke-linecap="butt"/>
<rect x="279.5" y="1101.3" width="6.2" height="40.5" fill="#111111"/>
<circle cx="282.6" cy="1123.5" r="7" fill="#fff"/>
<path d="M384.3,1158.9 384.8,1160.4 385.8,1162.4 386.7,1163.9 387.6,1165.4 388.9,1167.4 390.0,1168.9 391.5,1170.9 392.8,1172.4 394.1,1173.9 395.9,1176.0 397.3,1177.5 398.7,1179.0 400.5,1181.0 401.9,1182.5 403.6,1184.5 404.9,1186.0 406.1,1187.5 407.5,1189.5 408.5,1191.0 409.4,1192.5 410.5,1194.5 411.2,1196.0 412.1,1198.0 412.7,1199.5 413.3,1201.0 413.9,1203.0 414.3,1204.5 414.7,1206.0 415.0,1208.0 415.2,1209.6 415.2,1211.6 415.1,1213.1 414.9,1214.6 414.5,1216.6 414.1,1218.1 413.5,1219.6 412.7,1221.6 412.0,1223.1 410.9,1225.1 410.1,1226.6 409.2,1228.1 408.0,1230.1 407.0,1231.6 406.1,1233.1 404.8,1235.1 403.8,1236.6 402.5,1238.6 401.5,1240.1 400.5,1241.6 399.2,1243.7 398.3,1245.2 397.3,1246.7 396.1,1248.7 395.2,1250.2 394.0,1252.2 393.2,1253.7 392.3,1255.2 391.2,1257.2 390.4,1258.7 389.7,1260.2 388.7,1262.2 388.0,1263.7 387.1,1265.7 386.5,1267.2 385.9,1268.7 385.2,1270.7 384.6,1272.2 384.2,1273.7 383.6,1275.7 383.2,1277.3 382.7,1279.3 382.4,1280.8 382.1,1282.3 381.8,1284.3 381.5,1285.8 381.3,1287.3 381.0,1289.3 380.8,1290.8 380.5,1292.8 380.4,1294.3 380.3,1295.8 380.3,1297.8 380.4,1299.3 380.5,1300.8 380.7,1302.8 380.8,1304.3 381.0,1306.3 381.1,1307.8 381.2,1309.3 381.3,1311.4 381.3,1312.9 381.4,1314.4 381.4,1316.4 381.4,1317.9 381.4,1319.9 381.4,1321.4 381.4,1322.9 381.4,1324.9 381.4,1326.4 373.0,1326.4 373.0,1324.9 373.0,1322.9 373.0,1321.4 373.0,1319.9 373.0,1317.9 373.0,1316.4 373.0,1314.4 373.1,1312.9 373.1,1311.4 373.2,1309.3 373.3,1307.8 373.4,1306.3 373.6,1304.3 373.7,1302.8 373.9,1300.8 374.0,1299.3 374.1,1297.8 374.1,1295.8 374.0,1294.3 373.9,1292.8 373.6,1290.8 373.4,1289.3 373.1,1287.3 372.9,1285.8 372.6,1284.3 372.3,1282.3 372.0,1280.8 371.7,1279.3 371.2,1277.3 370.8,1275.7 370.2,1273.7 369.8,1272.2 369.2,1270.7 368.5,1268.7 367.9,1267.2 367.3,1265.7 366.4,1263.7 365.7,1262.2 364.7,1260.2 364.0,1258.7 363.2,1257.2 362.1,1255.2 361.2,1253.7 360.4,1252.2 359.2,1250.2 358.3,1248.7 357.1,1246.7 356.1,1245.2 355.2,1243.7 353.9,1241.6 352.9,1240.1 351.9,1238.6 350.6,1236.6 349.6,1235.1 348.3,1233.1 347.4,1231.6 346.4,1230.1 345.2,1228.1 344.3,1226.6 343.5,1225.1 342.4,1223.1 341.7,1221.6 340.9,1219.6 340.3,1218.1 339.9,1216.6 339.5,1214.6 339.3,1213.1 339.2,1211.6 339.2,1209.6 339.4,1208.0 339.7,1206.0 340.1,1204.5 340.5,1203.0 341.1,1201.0 341.7,1199.5 342.3,1198.0 343.2,1196.0 343.9,1194.5 345.0,1192.5 345.9,1191.0 346.9,1189.5 348.3,1187.5 349.5,1186.0 350.8,1184.5 352.5,1182.5 353.9,1181.0 355.7,1179.0 357.1,1177.5 358.5,1176.0 360.3,1173.9 361.6,1172.4 362.9,1170.9 364.4,1168.9 365.5,1167.4 366.8,1165.4 367.7,1163.9 368.6,1162.4 369.6,1160.4 370.1,1158.9Z" fill="#F29200" stroke="#111111" stroke-width="2.2" stroke-linejoin="round"/>
<line x1="377.2" y1="1158.9" x2="377.2" y2="1301.7" stroke="#111111" stroke-width="2.0" stroke-linecap="butt"/>
<rect x="374.1" y="1196.7" width="6.2" height="42.5" fill="#111111"/>
<circle cx="377.2" cy="1215.6" r="7" fill="#fff"/>
<path d="M479.1,1067.1 479.5,1068.6 480.3,1070.6 481.0,1072.1 481.6,1073.6 482.5,1075.6 483.1,1077.1 483.9,1079.1 484.6,1080.6 485.2,1082.1 486.1,1084.1 486.7,1085.6 487.3,1087.1 488.1,1089.2 488.7,1090.7 489.5,1092.7 490.1,1094.2 490.6,1095.7 491.4,1097.7 491.9,1099.2 492.4,1100.7 493.1,1102.7 493.6,1104.2 494.1,1106.2 494.6,1107.7 494.9,1109.2 495.4,1111.2 495.7,1112.7 496.0,1114.2 496.3,1116.2 496.5,1117.7 496.7,1119.2 496.8,1121.2 496.9,1122.7 497.0,1124.7 497.0,1126.2 497.0,1127.7 496.9,1129.8 496.8,1131.3 496.7,1132.8 496.5,1134.8 496.4,1136.3 496.3,1138.3 496.3,1139.8 496.2,1141.3 496.2,1143.3 496.2,1144.8 496.3,1146.3 496.4,1148.3 496.5,1149.8 496.6,1151.3 496.8,1153.3 496.9,1154.8 497.1,1156.8 497.3,1158.3 497.4,1159.8 497.7,1161.8 497.9,1163.3 498.1,1164.8 498.4,1166.8 498.7,1168.3 499.2,1170.4 499.5,1171.9 499.9,1173.4 500.5,1175.4 500.9,1176.9 501.4,1178.4 502.0,1180.4 502.5,1181.9 503.1,1183.9 503.6,1185.4 504.0,1186.9 504.6,1188.9 505.0,1190.4 505.4,1191.9 505.9,1193.9 506.3,1195.4 506.6,1196.9 507.1,1198.9 507.4,1200.4 507.7,1202.4 508.0,1203.9 508.2,1205.4 508.5,1207.4 508.7,1208.9 508.9,1210.4 509.1,1212.5 509.1,1214.0 509.2,1216.0 509.2,1217.5 509.2,1219.0 509.1,1221.0 509.0,1222.5 508.9,1224.0 508.6,1226.0 508.4,1227.5 508.0,1229.5 507.7,1231.0 507.3,1232.5 506.8,1234.5 506.4,1236.0 505.9,1237.5 505.3,1239.5 504.8,1241.0 504.3,1242.5 503.5,1244.5 503.0,1246.0 502.2,1248.0 501.6,1249.5 501.1,1251.0 500.2,1253.1 499.6,1254.6 499.0,1256.1 498.1,1258.1 497.5,1259.6 496.6,1261.6 495.9,1263.1 495.3,1264.6 494.4,1266.6 493.7,1268.1 493.0,1269.6 492.1,1271.6 491.5,1273.1 490.8,1274.6 489.9,1276.6 489.3,1278.1 488.5,1280.1 487.9,1281.6 487.3,1283.1 486.5,1285.1 485.9,1286.6 485.4,1288.1 484.6,1290.1 484.1,1291.6 483.4,1293.7 482.9,1295.2 482.4,1296.7 481.9,1298.7 481.5,1300.2 481.1,1301.7 480.7,1303.7 480.4,1305.2 480.1,1307.2 479.9,1308.7 479.7,1310.2 479.5,1312.2 479.4,1313.7 463.8,1313.7 463.7,1312.2 463.5,1310.2 463.3,1308.7 463.1,1307.2 462.8,1305.2 462.5,1303.7 462.1,1301.7 461.7,1300.2 461.3,1298.7 460.8,1296.7 460.3,1295.2 459.8,1293.7 459.1,1291.6 458.6,1290.1 457.8,1288.1 457.3,1286.6 456.7,1285.1 455.9,1283.1 455.3,1281.6 454.7,1280.1 453.9,1278.1 453.3,1276.6 452.4,1274.6 451.7,1273.1 451.1,1271.6 450.2,1269.6 449.5,1268.1 448.8,1266.6 447.9,1264.6 447.3,1263.1 446.6,1261.6 445.7,1259.6 445.1,1258.1 444.2,1256.1 443.6,1254.6 443.0,1253.1 442.1,1251.0 441.6,1249.5 441.0,1248.0 440.2,1246.0 439.7,1244.5 438.9,1242.5 438.4,1241.0 437.9,1239.5 437.3,1237.5 436.8,1236.0 436.4,1234.5 435.9,1232.5 435.5,1231.0 435.2,1229.5 434.8,1227.5 434.6,1226.0 434.3,1224.0 434.2,1222.5 434.1,1221.0 434.0,1219.0 434.0,1217.5 434.0,1216.0 434.1,1214.0 434.1,1212.5 434.3,1210.4 434.5,1208.9 434.7,1207.4 435.0,1205.4 435.2,1203.9 435.5,1202.4 435.8,1200.4 436.1,1198.9 436.6,1196.9 436.9,1195.4 437.3,1193.9 437.8,1191.9 438.2,1190.4 438.6,1188.9 439.2,1186.9 439.6,1185.4 440.1,1183.9 440.7,1181.9 441.2,1180.4 441.8,1178.4 442.3,1176.9 442.7,1175.4 443.3,1173.4 443.7,1171.9 444.0,1170.4 444.5,1168.3 444.8,1166.8 445.1,1164.8 445.3,1163.3 445.5,1161.8 445.8,1159.8 445.9,1158.3 446.1,1156.8 446.3,1154.8 446.4,1153.3 446.6,1151.3 446.7,1149.8 446.8,1148.3 446.9,1146.3 447.0,1144.8 447.0,1143.3 447.0,1141.3 446.9,1139.8 446.9,1138.3 446.8,1136.3 446.7,1134.8 446.5,1132.8 446.4,1131.3 446.3,1129.8 446.2,1127.7 446.2,1126.2 446.2,1124.7 446.3,1122.7 446.4,1121.2 446.5,1119.2 446.7,1117.7 446.9,1116.2 447.2,1114.2 447.5,1112.7 447.8,1111.2 448.3,1109.2 448.6,1107.7 449.1,1106.2 449.6,1104.2 450.1,1102.7 450.8,1100.7 451.3,1099.2 451.8,1097.7 452.6,1095.7 453.1,1094.2 453.7,1092.7 454.5,1090.7 455.1,1089.2 455.9,1087.1 456.5,1085.6 457.1,1084.1 458.0,1082.1 458.6,1080.6 459.3,1079.1 460.1,1077.1 460.7,1075.6 461.6,1073.6 462.2,1072.1 462.9,1070.6 463.7,1068.6 464.1,1067.1Z" fill="#E2DF00" stroke="#111111" stroke-width="2.2" stroke-linejoin="round"/>
<line x1="471.6" y1="1067.1" x2="471.6" y2="1313.7" stroke="#111111" stroke-width="2.0" stroke-linecap="butt"/>
<rect x="468.5" y="1136" width="6.2" height="100.3" fill="#111111"/>
<circle cx="471.6" cy="1199.4" r="7" fill="#fff"/>
<rect x="125" y="1002.7" width="409.3" height="336.6" fill="none" stroke="#111111" stroke-width="3"/>
<line x1="607.2" y1="1058.3" x2="629.7" y2="1058.3" stroke="#111111" stroke-width="2.6" stroke-linecap="butt"/>
<text transform="translate(593.8,1053.5) rotate(-90)" font-size="36" text-anchor="middle" fill="#111111">0.025</text>
<line x1="607.2" y1="1130.1" x2="629.7" y2="1130.1" stroke="#111111" stroke-width="2.6" stroke-linecap="butt"/>
<line x1="607.2" y1="1202" x2="629.7" y2="1202" stroke="#111111" stroke-width="2.6" stroke-linecap="butt"/>
<line x1="607.2" y1="1273.8" x2="629.7" y2="1273.8" stroke="#111111" stroke-width="2.6" stroke-linecap="butt"/>
<text transform="translate(593.8,1271.4) rotate(-90)" font-size="36" text-anchor="middle" fill="#111111">0.010</text>
<path d="M695.8,1114.6 696.1,1116.1 696.6,1118.1 697.2,1119.6 698.1,1121.6 698.8,1123.1 699.7,1124.7 701.1,1126.7 702.3,1128.2 703.5,1129.7 705.3,1131.7 706.7,1133.2 708.6,1135.2 710.1,1136.7 711.6,1138.2 713.7,1140.2 715.3,1141.8 717.3,1143.8 718.8,1145.3 720.1,1146.8 721.8,1148.8 723.0,1150.3 724.5,1152.3 725.6,1153.8 726.5,1155.3 727.7,1157.3 728.4,1158.9 729.0,1160.4 729.5,1162.4 729.7,1163.9 729.7,1165.9 729.6,1167.4 729.3,1168.9 728.6,1170.9 727.9,1172.4 726.6,1174.4 725.4,1175.9 724.2,1177.5 722.4,1179.5 721.1,1181.0 719.7,1182.5 717.9,1184.5 716.5,1186.0 714.6,1188.0 713.2,1189.5 711.9,1191.0 710.3,1193.0 709.1,1194.6 707.7,1196.6 706.6,1198.1 705.6,1199.6 704.3,1201.6 703.4,1203.1 702.1,1205.1 701.1,1206.6 700.2,1208.1 699.0,1210.1 698.3,1211.7 697.7,1213.2 697.1,1215.2 696.7,1216.7 696.4,1218.7 696.3,1220.2 687.9,1220.2 687.8,1218.7 687.5,1216.7 687.1,1215.2 686.5,1213.2 685.9,1211.7 685.2,1210.1 684.0,1208.1 683.1,1206.6 682.1,1205.1 680.8,1203.1 679.9,1201.6 678.6,1199.6 677.6,1198.1 676.5,1196.6 675.1,1194.6 673.9,1193.0 672.3,1191.0 671.0,1189.5 669.6,1188.0 667.7,1186.0 666.3,1184.5 664.5,1182.5 663.1,1181.0 661.8,1179.5 660.0,1177.5 658.8,1175.9 657.6,1174.4 656.3,1172.4 655.6,1170.9 654.9,1168.9 654.6,1167.4 654.5,1165.9 654.5,1163.9 654.7,1162.4 655.2,1160.4 655.8,1158.9 656.5,1157.3 657.7,1155.3 658.6,1153.8 659.7,1152.3 661.2,1150.3 662.4,1148.8 664.1,1146.8 665.4,1145.3 666.9,1143.8 668.9,1141.8 670.5,1140.2 672.6,1138.2 674.1,1136.7 675.6,1135.2 677.5,1133.2 678.9,1131.7 680.7,1129.7 681.9,1128.2 683.1,1126.7 684.5,1124.7 685.4,1123.1 686.1,1121.6 687.0,1119.6 687.6,1118.1 688.1,1116.1 688.4,1114.6Z" fill="#2E3597" stroke="#111111" stroke-width="2.2" stroke-linejoin="round"/>
<line x1="692.1" y1="1114.6" x2="692.1" y2="1220.2" stroke="#111111" stroke-width="2.0" stroke-linecap="butt"/>
<rect x="689" y="1153.7" width="6.2" height="26.4" fill="#111111"/>
<circle cx="692.1" cy="1166.1" r="7" fill="#fff"/>
<path d="M787.9,1015.2 788.0,1016.7 788.0,1018.7 788.1,1020.2 788.2,1021.7 788.3,1023.7 788.5,1025.2 788.7,1027.2 788.9,1028.7 789.1,1030.2 789.5,1032.2 789.7,1033.7 790.0,1035.2 790.4,1037.3 790.7,1038.8 791.1,1040.3 791.5,1042.3 791.8,1043.8 792.2,1045.3 792.6,1047.3 793.0,1048.8 793.4,1050.8 793.8,1052.3 794.2,1053.8 794.7,1055.8 795.1,1057.3 795.5,1058.8 796.0,1060.8 796.4,1062.3 796.8,1063.8 797.4,1065.8 797.8,1067.3 798.4,1069.3 798.9,1070.8 799.3,1072.3 800.0,1074.3 800.5,1075.8 801.0,1077.4 801.7,1079.4 802.3,1080.9 802.8,1082.4 803.6,1084.4 804.3,1085.9 805.2,1087.9 805.8,1089.4 806.5,1090.9 807.5,1092.9 808.2,1094.4 808.9,1095.9 809.8,1097.9 810.5,1099.4 811.2,1100.9 812.1,1102.9 812.8,1104.4 813.5,1105.9 814.4,1107.9 815.0,1109.4 815.9,1111.4 816.5,1112.9 817.2,1114.4 818.0,1116.4 818.6,1117.9 819.1,1119.5 819.9,1121.5 820.4,1123.0 820.9,1124.5 821.5,1126.5 821.9,1128.0 822.4,1130.0 822.7,1131.5 823.0,1133.0 823.3,1135.0 823.5,1136.5 823.7,1138.0 823.8,1140.0 823.8,1141.5 823.8,1143.0 823.8,1145.0 823.7,1146.5 823.5,1148.0 823.3,1150.0 823.0,1151.5 822.7,1153.5 822.3,1155.0 821.9,1156.5 821.3,1158.5 820.8,1160.1 820.3,1161.6 819.5,1163.6 818.8,1165.1 818.1,1166.6 817.1,1168.6 816.3,1170.1 815.2,1172.1 814.3,1173.6 813.5,1175.1 812.3,1177.1 811.4,1178.6 810.5,1180.1 809.3,1182.1 808.5,1183.6 807.6,1185.1 806.5,1187.1 805.7,1188.6 804.9,1190.1 803.8,1192.1 803.1,1193.6 802.1,1195.6 801.4,1197.1 800.7,1198.6 799.9,1200.6 799.3,1202.2 798.7,1203.7 798.0,1205.7 797.4,1207.2 796.9,1208.7 796.3,1210.7 795.9,1212.2 795.4,1214.2 795.0,1215.7 794.7,1217.2 794.2,1219.2 793.8,1220.7 793.5,1222.2 793.0,1224.2 792.7,1225.7 792.4,1227.2 792.0,1229.2 791.7,1230.7 791.3,1232.7 791.0,1234.2 790.7,1235.7 790.4,1237.7 790.1,1239.2 789.9,1240.7 789.6,1242.8 789.4,1244.3 789.3,1245.8 789.1,1247.8 788.9,1249.3 788.8,1250.8 788.6,1252.8 788.5,1254.3 788.3,1256.3 788.2,1257.8 788.1,1259.3 788.0,1261.3 787.9,1262.8 785.9,1262.8 785.8,1261.3 785.7,1259.3 785.6,1257.8 785.5,1256.3 785.3,1254.3 785.2,1252.8 785.0,1250.8 784.9,1249.3 784.7,1247.8 784.5,1245.8 784.4,1244.3 784.2,1242.8 783.9,1240.7 783.7,1239.2 783.4,1237.7 783.1,1235.7 782.8,1234.2 782.5,1232.7 782.1,1230.7 781.8,1229.2 781.4,1227.2 781.1,1225.7 780.8,1224.2 780.3,1222.2 780.0,1220.7 779.6,1219.2 779.1,1217.2 778.8,1215.7 778.4,1214.2 777.9,1212.2 777.5,1210.7 776.9,1208.7 776.4,1207.2 775.8,1205.7 775.1,1203.7 774.5,1202.2 773.9,1200.6 773.1,1198.6 772.4,1197.1 771.7,1195.6 770.7,1193.6 770.0,1192.1 768.9,1190.1 768.1,1188.6 767.3,1187.1 766.2,1185.1 765.3,1183.6 764.5,1182.1 763.3,1180.1 762.4,1178.6 761.5,1177.1 760.3,1175.1 759.5,1173.6 758.6,1172.1 757.5,1170.1 756.7,1168.6 755.7,1166.6 755.0,1165.1 754.3,1163.6 753.5,1161.6 753.0,1160.1 752.5,1158.5 751.9,1156.5 751.5,1155.0 751.1,1153.5 750.8,1151.5 750.5,1150.0 750.3,1148.0 750.1,1146.5 750.0,1145.0 750.0,1143.0 750.0,1141.5 750.0,1140.0 750.1,1138.0 750.3,1136.5 750.5,1135.0 750.8,1133.0 751.1,1131.5 751.4,1130.0 751.9,1128.0 752.3,1126.5 752.9,1124.5 753.4,1123.0 753.9,1121.5 754.7,1119.5 755.2,1117.9 755.8,1116.4 756.6,1114.4 757.3,1112.9 757.9,1111.4 758.8,1109.4 759.4,1107.9 760.3,1105.9 761.0,1104.4 761.7,1102.9 762.6,1100.9 763.3,1099.4 764.0,1097.9 764.9,1095.9 765.6,1094.4 766.3,1092.9 767.3,1090.9 768.0,1089.4 768.6,1087.9 769.5,1085.9 770.2,1084.4 771.0,1082.4 771.5,1080.9 772.1,1079.4 772.8,1077.4 773.3,1075.8 773.8,1074.3 774.5,1072.3 774.9,1070.8 775.4,1069.3 776.0,1067.3 776.4,1065.8 777.0,1063.8 777.4,1062.3 777.8,1060.8 778.3,1058.8 778.7,1057.3 779.1,1055.8 779.6,1053.8 780.0,1052.3 780.4,1050.8 780.8,1048.8 781.2,1047.3 781.6,1045.3 782.0,1043.8 782.3,1042.3 782.7,1040.3 783.1,1038.8 783.4,1037.3 783.8,1035.2 784.1,1033.7 784.3,1032.2 784.7,1030.2 784.9,1028.7 785.1,1027.2 785.3,1025.2 785.5,1023.7 785.6,1021.7 785.7,1020.2 785.8,1018.7 785.8,1016.7 785.9,1015.2Z" fill="#8D2DB3" stroke="#111111" stroke-width="2.2" stroke-linejoin="round"/>
<line x1="786.9" y1="1069" x2="786.9" y2="1211.4" stroke="#111111" stroke-width="2.0" stroke-linecap="butt"/>
<rect x="783.8" y="1122.1" width="6.2" height="36.2" fill="#111111"/>
<circle cx="786.9" cy="1142" r="7" fill="#fff"/>
<path d="M885.0,1174.5 885.2,1176.0 885.8,1178.0 886.3,1179.5 887.1,1181.5 887.9,1183.1 888.8,1184.6 890.2,1186.6 891.4,1188.1 893.4,1190.1 895.0,1191.6 896.8,1193.1 899.3,1195.1 901.3,1196.6 903.3,1198.1 906.1,1200.2 908.1,1201.7 910.5,1203.7 912.3,1205.2 913.8,1206.7 915.6,1208.7 916.7,1210.2 917.9,1212.2 918.6,1213.7 919.0,1215.3 919.3,1217.3 919.1,1218.8 918.6,1220.8 917.9,1222.3 917.0,1223.8 915.6,1225.8 914.4,1227.3 912.6,1229.3 911.1,1230.9 909.6,1232.4 907.6,1234.4 906.0,1235.9 904.0,1237.9 902.6,1239.4 901.1,1240.9 899.4,1242.9 898.1,1244.4 897.0,1246.0 895.5,1248.0 894.5,1249.5 893.3,1251.5 892.5,1253.0 891.7,1254.5 890.7,1256.5 890.1,1258.0 889.3,1260.0 888.8,1261.6 888.4,1263.1 887.8,1265.1 887.5,1266.6 887.1,1268.6 886.8,1270.1 886.5,1271.6 886.2,1273.6 885.9,1275.1 885.6,1277.2 885.4,1278.7 885.2,1280.2 885.0,1282.2 884.9,1283.7 884.9,1285.2 884.8,1287.2 884.8,1288.7 884.8,1290.7 884.8,1292.2 884.8,1293.8 884.8,1295.8 884.8,1297.3 884.8,1299.3 884.8,1300.8 877.4,1300.8 877.4,1299.3 877.4,1297.3 877.4,1295.8 877.4,1293.8 877.4,1292.2 877.4,1290.7 877.4,1288.7 877.4,1287.2 877.3,1285.2 877.3,1283.7 877.2,1282.2 877.0,1280.2 876.8,1278.7 876.6,1277.2 876.3,1275.1 876.0,1273.6 875.7,1271.6 875.4,1270.1 875.1,1268.6 874.7,1266.6 874.4,1265.1 873.8,1263.1 873.4,1261.6 872.9,1260.0 872.1,1258.0 871.5,1256.5 870.5,1254.5 869.7,1253.0 868.9,1251.5 867.7,1249.5 866.7,1248.0 865.2,1246.0 864.1,1244.4 862.8,1242.9 861.1,1240.9 859.6,1239.4 858.2,1237.9 856.2,1235.9 854.6,1234.4 852.6,1232.4 851.1,1230.9 849.6,1229.3 847.8,1227.3 846.6,1225.8 845.2,1223.8 844.3,1222.3 843.6,1220.8 843.1,1218.8 842.9,1217.3 843.2,1215.3 843.6,1213.7 844.3,1212.2 845.5,1210.2 846.6,1208.7 848.4,1206.7 849.9,1205.2 851.7,1203.7 854.1,1201.7 856.1,1200.2 858.9,1198.1 860.9,1196.6 862.9,1195.1 865.4,1193.1 867.2,1191.6 868.8,1190.1 870.8,1188.1 872.0,1186.6 873.4,1184.6 874.3,1183.1 875.1,1181.5 875.9,1179.5 876.4,1178.0 877.0,1176.0 877.2,1174.5Z" fill="#F29200" stroke="#111111" stroke-width="2.2" stroke-linejoin="round"/>
<line x1="881.1" y1="1174.5" x2="881.1" y2="1288.9" stroke="#111111" stroke-width="2.0" stroke-linecap="butt"/>
<rect x="878" y="1208.7" width="6.2" height="31.8" fill="#111111"/>
<circle cx="881.1" cy="1221.8" r="7" fill="#fff"/>
<path d="M976.8,1059.8 976.8,1061.3 976.8,1063.3 976.9,1064.8 976.9,1066.3 976.9,1068.3 977.0,1069.8 977.0,1071.3 977.1,1073.3 977.1,1074.9 977.2,1076.4 977.3,1078.4 977.4,1079.9 977.5,1081.4 977.6,1083.4 977.7,1084.9 977.9,1086.9 978.0,1088.4 978.1,1089.9 978.3,1091.9 978.5,1093.4 978.6,1094.9 978.9,1096.9 979.0,1098.4 979.3,1099.9 979.6,1101.9 979.9,1103.4 980.2,1105.0 980.7,1107.0 981.1,1108.5 981.5,1110.0 982.2,1112.0 982.7,1113.5 983.2,1115.0 983.9,1117.0 984.4,1118.5 984.9,1120.0 985.7,1122.0 986.2,1123.5 986.7,1125.0 987.4,1127.0 988.0,1128.5 988.5,1130.0 989.2,1132.0 989.7,1133.5 990.2,1135.1 990.9,1137.1 991.4,1138.6 991.8,1140.1 992.5,1142.1 992.9,1143.6 993.5,1145.6 993.9,1147.1 994.3,1148.6 994.9,1150.6 995.3,1152.1 995.6,1153.6 996.1,1155.6 996.4,1157.1 996.7,1158.6 997.1,1160.6 997.3,1162.1 997.6,1163.6 997.8,1165.7 998.0,1167.2 998.1,1168.7 998.3,1170.7 998.4,1172.2 998.5,1173.7 998.5,1175.7 998.6,1177.2 998.6,1178.7 998.7,1180.7 998.7,1182.2 998.7,1183.7 998.8,1185.7 998.8,1187.2 998.9,1188.7 999.0,1190.7 999.1,1192.2 999.2,1194.3 999.3,1195.8 999.4,1197.3 999.6,1199.3 999.8,1200.8 1000.0,1202.3 1000.4,1204.3 1000.6,1205.8 1000.9,1207.3 1001.4,1209.3 1001.8,1210.8 1002.2,1212.3 1002.9,1214.3 1003.4,1215.8 1003.9,1217.3 1004.7,1219.3 1005.4,1220.8 1006.0,1222.3 1006.9,1224.4 1007.5,1225.9 1008.1,1227.4 1009.0,1229.4 1009.6,1230.9 1010.1,1232.4 1010.8,1234.4 1011.3,1235.9 1011.8,1237.4 1012.4,1239.4 1012.8,1240.9 1013.1,1242.4 1013.6,1244.4 1013.8,1245.9 1014.1,1247.4 1014.3,1249.4 1014.4,1250.9 1014.5,1252.9 1014.6,1254.5 1014.6,1256.0 1014.5,1258.0 1014.5,1259.5 1014.3,1261.0 1014.1,1263.0 1013.9,1264.5 1013.7,1266.0 1013.3,1268.0 1013.0,1269.5 1012.6,1271.0 1012.1,1273.0 1011.6,1274.5 1011.1,1276.0 1010.4,1278.0 1009.9,1279.5 1009.3,1281.0 1008.5,1283.0 1007.8,1284.6 1007.1,1286.1 1006.2,1288.1 1005.5,1289.6 1004.7,1291.1 1003.7,1293.1 1003.0,1294.6 1002.2,1296.1 1001.1,1298.1 1000.3,1299.6 999.3,1301.6 998.5,1303.1 997.7,1304.6 996.7,1306.6 995.9,1308.1 995.2,1309.6 994.2,1311.6 993.5,1313.1 992.7,1314.7 991.8,1316.7 991.1,1318.2 990.5,1319.7 989.6,1321.7 988.9,1323.2 988.3,1324.7 987.5,1326.7 987.1,1328.2 964.3,1328.2 963.9,1326.7 963.1,1324.7 962.5,1323.2 961.8,1321.7 960.9,1319.7 960.3,1318.2 959.6,1316.7 958.7,1314.7 957.9,1313.1 957.2,1311.6 956.2,1309.6 955.5,1308.1 954.7,1306.6 953.7,1304.6 952.9,1303.1 952.1,1301.6 951.1,1299.6 950.3,1298.1 949.2,1296.1 948.4,1294.6 947.7,1293.1 946.7,1291.1 945.9,1289.6 945.2,1288.1 944.3,1286.1 943.6,1284.6 942.9,1283.0 942.1,1281.0 941.5,1279.5 941.0,1278.0 940.3,1276.0 939.8,1274.5 939.3,1273.0 938.8,1271.0 938.4,1269.5 938.1,1268.0 937.7,1266.0 937.5,1264.5 937.3,1263.0 937.1,1261.0 936.9,1259.5 936.9,1258.0 936.8,1256.0 936.8,1254.5 936.9,1252.9 937.0,1250.9 937.1,1249.4 937.3,1247.4 937.6,1245.9 937.8,1244.4 938.3,1242.4 938.6,1240.9 939.0,1239.4 939.6,1237.4 940.1,1235.9 940.6,1234.4 941.3,1232.4 941.8,1230.9 942.4,1229.4 943.3,1227.4 943.9,1225.9 944.5,1224.4 945.4,1222.3 946.0,1220.8 946.7,1219.3 947.5,1217.3 948.0,1215.8 948.5,1214.3 949.2,1212.3 949.6,1210.8 950.0,1209.3 950.5,1207.3 950.8,1205.8 951.0,1204.3 951.4,1202.3 951.6,1200.8 951.8,1199.3 952.0,1197.3 952.1,1195.8 952.2,1194.3 952.3,1192.2 952.4,1190.7 952.5,1188.7 952.6,1187.2 952.6,1185.7 952.7,1183.7 952.7,1182.2 952.7,1180.7 952.8,1178.7 952.8,1177.2 952.9,1175.7 952.9,1173.7 953.0,1172.2 953.1,1170.7 953.3,1168.7 953.4,1167.2 953.6,1165.7 953.8,1163.6 954.1,1162.1 954.3,1160.6 954.7,1158.6 955.0,1157.1 955.3,1155.6 955.8,1153.6 956.1,1152.1 956.5,1150.6 957.1,1148.6 957.5,1147.1 957.9,1145.6 958.5,1143.6 958.9,1142.1 959.6,1140.1 960.0,1138.6 960.5,1137.1 961.2,1135.1 961.7,1133.5 962.2,1132.0 962.9,1130.0 963.4,1128.5 964.0,1127.0 964.7,1125.0 965.2,1123.5 965.7,1122.0 966.5,1120.0 967.0,1118.5 967.5,1117.0 968.2,1115.0 968.7,1113.5 969.2,1112.0 969.9,1110.0 970.3,1108.5 970.7,1107.0 971.2,1105.0 971.5,1103.4 971.8,1101.9 972.1,1099.9 972.4,1098.4 972.5,1096.9 972.8,1094.9 972.9,1093.4 973.1,1091.9 973.3,1089.9 973.4,1088.4 973.5,1086.9 973.7,1084.9 973.8,1083.4 973.9,1081.4 974.0,1079.9 974.1,1078.4 974.2,1076.4 974.3,1074.9 974.3,1073.3 974.4,1071.3 974.4,1069.8 974.5,1068.3 974.5,1066.3 974.5,1064.8 974.6,1063.3 974.6,1061.3 974.6,1059.8Z" fill="#E2DF00" stroke="#111111" stroke-width="2.2" stroke-linejoin="round"/>
<line x1="975.7" y1="1059.8" x2="975.7" y2="1328.2" stroke="#111111" stroke-width="2.0" stroke-linecap="butt"/>
<rect x="972.6" y="1182.1" width="6.2" height="90.5" fill="#111111"/>
<circle cx="975.7" cy="1244.8" r="7" fill="#fff"/>
<rect x="629.7" y="1003.1" width="408.8" height="336.3" fill="none" stroke="#111111" stroke-width="3"/>
<text x="651.5" y="1320.5" font-size="36" font-weight="bold" text-anchor="start" fill="#111111">Ti (a.p.f.u.)</text>
<line x1="1104.9" y1="1010.4" x2="1127.4" y2="1010.4" stroke="#111111" stroke-width="2.6" stroke-linecap="butt"/>
<line x1="1104.9" y1="1055.5" x2="1127.4" y2="1055.5" stroke="#111111" stroke-width="2.6" stroke-linecap="butt"/>
<text transform="translate(1095.5,1052) rotate(-90)" font-size="36" text-anchor="middle" fill="#111111">0.045</text>
<line x1="1104.9" y1="1100.7" x2="1127.4" y2="1100.7" stroke="#111111" stroke-width="2.6" stroke-linecap="butt"/>
<line x1="1104.9" y1="1145.8" x2="1127.4" y2="1145.8" stroke="#111111" stroke-width="2.6" stroke-linecap="butt"/>
<line x1="1104.9" y1="1190.9" x2="1127.4" y2="1190.9" stroke="#111111" stroke-width="2.6" stroke-linecap="butt"/>
<text transform="translate(1095.5,1189) rotate(-90)" font-size="36" text-anchor="middle" fill="#111111">0.030</text>
<line x1="1104.9" y1="1236" x2="1127.4" y2="1236" stroke="#111111" stroke-width="2.6" stroke-linecap="butt"/>
<line x1="1104.9" y1="1281.2" x2="1127.4" y2="1281.2" stroke="#111111" stroke-width="2.6" stroke-linecap="butt"/>
<line x1="1104.9" y1="1326.3" x2="1127.4" y2="1326.3" stroke="#111111" stroke-width="2.6" stroke-linecap="butt"/>
<text transform="translate(1095.5,1328.5) rotate(-90)" font-size="36" text-anchor="middle" fill="#111111">0.015</text>
<path d="M1191.2,1019.0 1191.2,1020.5 1191.2,1022.5 1191.2,1024.0 1191.2,1025.5 1191.2,1027.5 1191.2,1029.0 1191.2,1030.5 1191.3,1032.5 1191.4,1034.0 1191.5,1036.0 1191.6,1037.5 1191.7,1039.1 1191.9,1041.1 1192.1,1042.6 1192.3,1044.1 1192.7,1046.1 1192.9,1047.6 1193.2,1049.1 1193.6,1051.1 1193.9,1052.6 1194.2,1054.1 1194.7,1056.1 1195.0,1057.6 1195.5,1059.6 1195.9,1061.1 1196.3,1062.6 1196.8,1064.6 1197.2,1066.1 1197.7,1067.6 1198.2,1069.6 1198.7,1071.1 1199.1,1072.6 1199.7,1074.6 1200.2,1076.2 1200.7,1077.7 1201.4,1079.7 1201.9,1081.2 1202.7,1083.2 1203.3,1084.7 1203.8,1086.2 1204.7,1088.2 1205.3,1089.7 1206.0,1091.2 1206.9,1093.2 1207.6,1094.7 1208.3,1096.2 1209.2,1098.2 1210.0,1099.7 1210.7,1101.2 1211.8,1103.2 1212.5,1104.7 1213.3,1106.2 1214.3,1108.2 1215.1,1109.7 1216.1,1111.7 1216.9,1113.2 1217.7,1114.8 1218.7,1116.8 1219.4,1118.3 1220.2,1119.8 1221.1,1121.8 1221.8,1123.3 1222.5,1124.8 1223.4,1126.8 1224.0,1128.3 1224.6,1129.8 1225.3,1131.8 1225.8,1133.3 1226.4,1135.3 1226.7,1136.8 1227.1,1138.3 1227.4,1140.3 1227.6,1141.8 1227.8,1143.3 1227.9,1145.3 1228.0,1146.8 1228.0,1148.3 1227.9,1150.3 1227.8,1151.9 1227.7,1153.4 1227.4,1155.4 1227.2,1156.9 1226.7,1158.9 1226.3,1160.4 1225.9,1161.9 1225.2,1163.9 1224.6,1165.4 1223.9,1166.9 1222.9,1168.9 1222.2,1170.4 1221.4,1171.9 1220.3,1173.9 1219.4,1175.4 1218.6,1176.9 1217.4,1178.9 1216.6,1180.4 1215.8,1181.9 1214.6,1183.9 1213.8,1185.4 1212.7,1187.4 1211.9,1188.9 1211.1,1190.5 1210.0,1192.5 1209.2,1194.0 1208.5,1195.5 1207.4,1197.5 1206.7,1199.0 1206.0,1200.5 1205.0,1202.5 1204.3,1204.0 1203.6,1205.5 1202.7,1207.5 1202.1,1209.0 1201.2,1211.0 1200.6,1212.5 1200.0,1214.0 1199.3,1216.0 1198.8,1217.5 1198.3,1219.0 1197.7,1221.0 1197.2,1222.5 1196.8,1224.0 1196.4,1226.0 1196.0,1227.6 1195.7,1229.1 1195.3,1231.1 1195.0,1232.6 1194.7,1234.6 1194.5,1236.1 1194.3,1237.6 1194.0,1239.6 1193.9,1241.1 1193.7,1242.6 1193.5,1244.6 1193.4,1246.1 1187.0,1246.1 1186.9,1244.6 1186.7,1242.6 1186.5,1241.1 1186.4,1239.6 1186.1,1237.6 1185.9,1236.1 1185.7,1234.6 1185.4,1232.6 1185.1,1231.1 1184.7,1229.1 1184.4,1227.6 1184.0,1226.0 1183.6,1224.0 1183.2,1222.5 1182.7,1221.0 1182.1,1219.0 1181.6,1217.5 1181.1,1216.0 1180.4,1214.0 1179.8,1212.5 1179.2,1211.0 1178.3,1209.0 1177.7,1207.5 1176.8,1205.5 1176.1,1204.0 1175.4,1202.5 1174.4,1200.5 1173.7,1199.0 1173.0,1197.5 1171.9,1195.5 1171.2,1194.0 1170.4,1192.5 1169.3,1190.5 1168.5,1188.9 1167.7,1187.4 1166.6,1185.4 1165.8,1183.9 1164.6,1181.9 1163.8,1180.4 1163.0,1178.9 1161.8,1176.9 1161.0,1175.4 1160.1,1173.9 1159.0,1171.9 1158.2,1170.4 1157.5,1168.9 1156.5,1166.9 1155.8,1165.4 1155.2,1163.9 1154.5,1161.9 1154.1,1160.4 1153.7,1158.9 1153.2,1156.9 1153.0,1155.4 1152.7,1153.4 1152.6,1151.9 1152.5,1150.3 1152.4,1148.3 1152.4,1146.8 1152.5,1145.3 1152.6,1143.3 1152.8,1141.8 1153.0,1140.3 1153.3,1138.3 1153.7,1136.8 1154.0,1135.3 1154.6,1133.3 1155.1,1131.8 1155.8,1129.8 1156.4,1128.3 1157.0,1126.8 1157.9,1124.8 1158.6,1123.3 1159.3,1121.8 1160.2,1119.8 1161.0,1118.3 1161.7,1116.8 1162.7,1114.8 1163.5,1113.2 1164.3,1111.7 1165.3,1109.7 1166.1,1108.2 1167.1,1106.2 1167.9,1104.7 1168.6,1103.2 1169.7,1101.2 1170.4,1099.7 1171.2,1098.2 1172.1,1096.2 1172.8,1094.7 1173.5,1093.2 1174.4,1091.2 1175.1,1089.7 1175.7,1088.2 1176.6,1086.2 1177.1,1084.7 1177.7,1083.2 1178.5,1081.2 1179.0,1079.7 1179.7,1077.7 1180.2,1076.2 1180.7,1074.6 1181.3,1072.6 1181.7,1071.1 1182.2,1069.6 1182.7,1067.6 1183.2,1066.1 1183.6,1064.6 1184.1,1062.6 1184.5,1061.1 1184.9,1059.6 1185.4,1057.6 1185.7,1056.1 1186.2,1054.1 1186.5,1052.6 1186.8,1051.1 1187.2,1049.1 1187.5,1047.6 1187.7,1046.1 1188.1,1044.1 1188.3,1042.6 1188.5,1041.1 1188.7,1039.1 1188.8,1037.5 1188.9,1036.0 1189.0,1034.0 1189.1,1032.5 1189.2,1030.5 1189.2,1029.0 1189.2,1027.5 1189.2,1025.5 1189.2,1024.0 1189.2,1022.5 1189.2,1020.5 1189.2,1019.0Z" fill="#2E3597" stroke="#111111" stroke-width="2.2" stroke-linejoin="round"/>
<line x1="1190.2" y1="1073.9" x2="1190.2" y2="1226" stroke="#111111" stroke-width="2.0" stroke-linecap="butt"/>
<rect x="1187.1" y="1130.1" width="6.2" height="39.6" fill="#111111"/>
<circle cx="1190.2" cy="1148.9" r="7" fill="#fff"/>
<path d="M1285.5,1014.8 1285.5,1016.3 1285.6,1018.3 1285.6,1019.8 1285.6,1021.3 1285.7,1023.3 1285.7,1024.8 1285.7,1026.3 1285.7,1028.3 1285.8,1029.8 1285.8,1031.3 1285.8,1033.4 1285.8,1034.9 1285.8,1036.9 1285.8,1038.4 1285.9,1039.9 1285.9,1041.9 1285.9,1043.4 1286.0,1044.9 1286.1,1046.9 1286.2,1048.4 1286.3,1049.9 1286.5,1051.9 1286.7,1053.4 1286.9,1054.9 1287.2,1056.9 1287.5,1058.4 1287.7,1059.9 1288.1,1061.9 1288.3,1063.4 1288.6,1065.0 1288.9,1067.0 1289.2,1068.5 1289.5,1070.0 1289.8,1072.0 1290.1,1073.5 1290.5,1075.5 1290.8,1077.0 1291.1,1078.5 1291.6,1080.5 1291.9,1082.0 1292.3,1083.5 1292.9,1085.5 1293.3,1087.0 1293.7,1088.5 1294.4,1090.5 1294.8,1092.0 1295.3,1093.5 1296.0,1095.5 1296.5,1097.0 1297.0,1098.6 1297.7,1100.6 1298.2,1102.1 1298.7,1103.6 1299.4,1105.6 1299.9,1107.1 1300.5,1108.6 1301.2,1110.6 1301.8,1112.1 1302.5,1114.1 1303.1,1115.6 1303.6,1117.1 1304.4,1119.1 1305.0,1120.6 1305.6,1122.1 1306.4,1124.1 1307.0,1125.6 1307.7,1127.1 1308.5,1129.1 1309.2,1130.6 1309.8,1132.2 1310.7,1134.2 1311.4,1135.7 1312.1,1137.2 1313.0,1139.2 1313.7,1140.7 1314.4,1142.2 1315.3,1144.2 1316.0,1145.7 1316.7,1147.2 1317.7,1149.2 1318.4,1150.7 1319.2,1152.7 1319.9,1154.2 1320.4,1155.7 1321.1,1157.7 1321.6,1159.2 1321.9,1160.7 1322.3,1162.7 1322.5,1164.3 1322.7,1165.8 1322.8,1167.8 1322.8,1169.3 1322.8,1170.8 1322.6,1172.8 1322.5,1174.3 1322.3,1175.8 1322.0,1177.8 1321.8,1179.3 1321.4,1180.8 1320.9,1182.8 1320.5,1184.3 1319.8,1186.3 1319.3,1187.8 1318.7,1189.3 1317.9,1191.3 1317.2,1192.8 1316.5,1194.3 1315.5,1196.3 1314.8,1197.9 1314.0,1199.4 1312.9,1201.4 1312.0,1202.9 1311.2,1204.4 1310.1,1206.4 1309.2,1207.9 1308.4,1209.4 1307.3,1211.4 1306.5,1212.9 1305.7,1214.4 1304.7,1216.4 1303.9,1217.9 1303.3,1219.4 1302.4,1221.4 1301.8,1222.9 1301.0,1224.9 1300.4,1226.4 1299.8,1227.9 1299.1,1229.9 1298.5,1231.5 1298.0,1233.0 1297.3,1235.0 1296.7,1236.5 1296.2,1238.0 1295.5,1240.0 1295.0,1241.5 1294.4,1243.0 1293.7,1245.0 1293.2,1246.5 1292.7,1248.0 1292.0,1250.0 1291.5,1251.5 1291.1,1253.0 1290.5,1255.0 1290.0,1256.5 1289.6,1258.0 1289.1,1260.0 1288.8,1261.5 1288.3,1263.6 1288.1,1265.1 1287.8,1266.6 1287.5,1268.6 1287.4,1270.1 1287.2,1271.6 1287.0,1273.6 1286.9,1275.1 1286.8,1276.6 1286.7,1278.6 1286.6,1280.1 1282.8,1280.1 1282.7,1278.6 1282.6,1276.6 1282.5,1275.1 1282.4,1273.6 1282.2,1271.6 1282.0,1270.1 1281.9,1268.6 1281.6,1266.6 1281.3,1265.1 1281.1,1263.6 1280.6,1261.5 1280.3,1260.0 1279.8,1258.0 1279.4,1256.5 1278.9,1255.0 1278.3,1253.0 1277.9,1251.5 1277.4,1250.0 1276.7,1248.0 1276.2,1246.5 1275.7,1245.0 1275.0,1243.0 1274.4,1241.5 1273.9,1240.0 1273.2,1238.0 1272.7,1236.5 1272.1,1235.0 1271.4,1233.0 1270.9,1231.5 1270.3,1229.9 1269.6,1227.9 1269.0,1226.4 1268.4,1224.9 1267.6,1222.9 1267.0,1221.4 1266.1,1219.4 1265.5,1217.9 1264.7,1216.4 1263.7,1214.4 1262.9,1212.9 1262.1,1211.4 1261.0,1209.4 1260.2,1207.9 1259.3,1206.4 1258.2,1204.4 1257.4,1202.9 1256.5,1201.4 1255.4,1199.4 1254.6,1197.9 1253.9,1196.3 1252.9,1194.3 1252.2,1192.8 1251.5,1191.3 1250.7,1189.3 1250.1,1187.8 1249.6,1186.3 1248.9,1184.3 1248.5,1182.8 1248.0,1180.8 1247.6,1179.3 1247.4,1177.8 1247.1,1175.8 1246.9,1174.3 1246.8,1172.8 1246.6,1170.8 1246.6,1169.3 1246.6,1167.8 1246.7,1165.8 1246.9,1164.3 1247.1,1162.7 1247.5,1160.7 1247.8,1159.2 1248.3,1157.7 1249.0,1155.7 1249.5,1154.2 1250.2,1152.7 1251.0,1150.7 1251.7,1149.2 1252.7,1147.2 1253.4,1145.7 1254.1,1144.2 1255.0,1142.2 1255.7,1140.7 1256.4,1139.2 1257.3,1137.2 1258.0,1135.7 1258.7,1134.2 1259.6,1132.2 1260.2,1130.6 1260.9,1129.1 1261.7,1127.1 1262.4,1125.6 1263.0,1124.1 1263.8,1122.1 1264.4,1120.6 1265.0,1119.1 1265.8,1117.1 1266.3,1115.6 1266.9,1114.1 1267.6,1112.1 1268.2,1110.6 1268.9,1108.6 1269.5,1107.1 1270.0,1105.6 1270.7,1103.6 1271.2,1102.1 1271.7,1100.6 1272.4,1098.6 1272.9,1097.0 1273.4,1095.5 1274.1,1093.5 1274.6,1092.0 1275.0,1090.5 1275.7,1088.5 1276.1,1087.0 1276.5,1085.5 1277.1,1083.5 1277.5,1082.0 1277.8,1080.5 1278.3,1078.5 1278.6,1077.0 1278.9,1075.5 1279.3,1073.5 1279.6,1072.0 1279.9,1070.0 1280.2,1068.5 1280.5,1067.0 1280.8,1065.0 1281.1,1063.4 1281.3,1061.9 1281.7,1059.9 1281.9,1058.4 1282.2,1056.9 1282.5,1054.9 1282.7,1053.4 1282.9,1051.9 1283.1,1049.9 1283.2,1048.4 1283.3,1046.9 1283.4,1044.9 1283.5,1043.4 1283.5,1041.9 1283.5,1039.9 1283.6,1038.4 1283.6,1036.9 1283.6,1034.9 1283.6,1033.4 1283.6,1031.3 1283.6,1029.8 1283.7,1028.3 1283.7,1026.3 1283.7,1024.8 1283.7,1023.3 1283.8,1021.3 1283.8,1019.8 1283.8,1018.3 1283.9,1016.3 1283.9,1014.8Z" fill="#8D2DB3" stroke="#111111" stroke-width="2.2" stroke-linejoin="round"/>
<line x1="1284.7" y1="1093.4" x2="1284.7" y2="1250.7" stroke="#111111" stroke-width="2.0" stroke-linecap="butt"/>
<rect x="1281.6" y="1152.2" width="6.2" height="40.5" fill="#111111"/>
<circle cx="1284.7" cy="1169.7" r="7" fill="#fff"/>
<path d="M1386.9,1085.7 1387.2,1087.2 1387.8,1089.2 1388.2,1090.7 1388.8,1092.7 1389.3,1094.2 1389.8,1095.7 1390.5,1097.8 1391.0,1099.3 1391.6,1100.8 1392.3,1102.8 1392.8,1104.3 1393.5,1106.3 1394.1,1107.8 1394.6,1109.3 1395.3,1111.3 1395.8,1112.8 1396.3,1114.3 1397.1,1116.4 1397.6,1117.9 1398.5,1119.9 1399.1,1121.4 1399.8,1122.9 1400.9,1124.9 1401.7,1126.4 1402.7,1127.9 1404.0,1129.9 1405.1,1131.4 1406.5,1133.4 1407.6,1134.9 1408.7,1136.5 1410.1,1138.5 1411.1,1140.0 1412.3,1142.0 1413.2,1143.5 1414.0,1145.0 1414.9,1147.0 1415.5,1148.5 1416.0,1150.0 1416.5,1152.0 1416.8,1153.5 1417.1,1155.5 1417.3,1157.1 1417.4,1158.6 1417.3,1160.6 1417.2,1162.1 1417.0,1163.6 1416.5,1165.6 1416.1,1167.1 1415.4,1169.1 1414.8,1170.6 1414.1,1172.1 1413.2,1174.1 1412.5,1175.6 1411.8,1177.2 1410.7,1179.2 1410.0,1180.7 1408.9,1182.7 1408.1,1184.2 1407.3,1185.7 1406.2,1187.7 1405.3,1189.2 1404.5,1190.7 1403.4,1192.7 1402.5,1194.2 1401.4,1196.2 1400.6,1197.8 1399.8,1199.3 1398.7,1201.3 1397.9,1202.8 1396.8,1204.8 1396.0,1206.3 1395.3,1207.8 1394.3,1209.8 1393.6,1211.3 1392.8,1212.8 1391.9,1214.8 1391.2,1216.3 1390.3,1218.4 1389.7,1219.9 1389.1,1221.4 1388.3,1223.4 1387.8,1224.9 1387.3,1226.4 1386.7,1228.4 1386.3,1229.9 1385.8,1231.9 1385.5,1233.4 1385.2,1234.9 1384.8,1237.0 1384.5,1238.5 1384.2,1240.0 1383.9,1242.0 1383.7,1243.5 1383.4,1245.5 1383.2,1247.0 1375.2,1247.0 1375.0,1245.5 1374.7,1243.5 1374.5,1242.0 1374.2,1240.0 1373.9,1238.5 1373.6,1237.0 1373.2,1234.9 1372.9,1233.4 1372.6,1231.9 1372.1,1229.9 1371.7,1228.4 1371.1,1226.4 1370.6,1224.9 1370.1,1223.4 1369.3,1221.4 1368.7,1219.9 1368.1,1218.4 1367.2,1216.3 1366.5,1214.8 1365.6,1212.8 1364.8,1211.3 1364.1,1209.8 1363.1,1207.8 1362.4,1206.3 1361.6,1204.8 1360.5,1202.8 1359.7,1201.3 1358.6,1199.3 1357.8,1197.8 1357.0,1196.2 1355.9,1194.2 1355.0,1192.7 1353.9,1190.7 1353.1,1189.2 1352.2,1187.7 1351.1,1185.7 1350.3,1184.2 1349.5,1182.7 1348.4,1180.7 1347.7,1179.2 1346.6,1177.2 1345.9,1175.6 1345.2,1174.1 1344.3,1172.1 1343.6,1170.6 1343.0,1169.1 1342.3,1167.1 1341.9,1165.6 1341.4,1163.6 1341.2,1162.1 1341.1,1160.6 1341.0,1158.6 1341.1,1157.1 1341.3,1155.5 1341.6,1153.5 1341.9,1152.0 1342.4,1150.0 1342.9,1148.5 1343.5,1147.0 1344.4,1145.0 1345.2,1143.5 1346.1,1142.0 1347.3,1140.0 1348.3,1138.5 1349.7,1136.5 1350.8,1134.9 1351.9,1133.4 1353.3,1131.4 1354.4,1129.9 1355.7,1127.9 1356.7,1126.4 1357.5,1124.9 1358.6,1122.9 1359.3,1121.4 1359.9,1119.9 1360.8,1117.9 1361.3,1116.4 1362.1,1114.3 1362.6,1112.8 1363.1,1111.3 1363.8,1109.3 1364.3,1107.8 1364.9,1106.3 1365.6,1104.3 1366.1,1102.8 1366.8,1100.8 1367.4,1099.3 1367.9,1097.8 1368.6,1095.7 1369.1,1094.2 1369.6,1092.7 1370.2,1090.7 1370.6,1089.2 1371.2,1087.2 1371.5,1085.7Z" fill="#F29200" stroke="#111111" stroke-width="2.2" stroke-linejoin="round"/>
<line x1="1379.2" y1="1085.7" x2="1379.2" y2="1247" stroke="#111111" stroke-width="2.0" stroke-linecap="butt"/>
<rect x="1376.1" y="1141.4" width="6.2" height="43.4" fill="#111111"/>
<circle cx="1379.2" cy="1161.8" r="7" fill="#fff"/>
<path d="M1480.7,1174.2 1481.1,1175.7 1481.9,1177.7 1482.5,1179.2 1483.1,1180.7 1484.0,1182.7 1484.8,1184.3 1485.6,1185.8 1486.8,1187.8 1487.7,1189.3 1489.0,1191.3 1489.9,1192.8 1490.8,1194.3 1492.1,1196.3 1493.0,1197.8 1493.9,1199.3 1495.1,1201.3 1496.0,1202.9 1496.9,1204.4 1498.1,1206.4 1499.0,1207.9 1499.9,1209.4 1501.1,1211.4 1501.9,1212.9 1503.0,1214.9 1503.7,1216.4 1504.4,1217.9 1505.3,1219.9 1505.9,1221.4 1506.5,1223.0 1507.3,1225.0 1507.9,1226.5 1508.4,1228.0 1509.1,1230.0 1509.6,1231.5 1510.0,1233.0 1510.5,1235.0 1510.9,1236.5 1511.3,1238.5 1511.5,1240.0 1511.7,1241.6 1511.9,1243.6 1512.1,1245.1 1512.2,1246.6 1512.2,1248.6 1512.2,1250.1 1512.1,1251.6 1511.9,1253.6 1511.6,1255.1 1511.3,1256.6 1510.8,1258.6 1510.3,1260.2 1509.8,1261.7 1508.9,1263.7 1508.3,1265.2 1507.3,1267.2 1506.6,1268.7 1505.9,1270.2 1505.0,1272.2 1504.4,1273.7 1503.8,1275.2 1503.1,1277.2 1502.7,1278.8 1502.2,1280.3 1501.8,1282.3 1501.4,1283.8 1501.2,1285.3 1500.8,1287.3 1500.5,1288.8 1500.1,1290.8 1499.7,1292.3 1499.3,1293.8 1498.8,1295.8 1498.3,1297.3 1497.7,1298.9 1496.9,1300.9 1496.3,1302.4 1495.6,1303.9 1494.6,1305.9 1493.7,1307.4 1492.9,1308.9 1491.7,1310.9 1490.8,1312.4 1489.5,1314.4 1488.6,1315.9 1487.7,1317.5 1486.7,1319.5 1485.9,1321.0 1485.2,1322.5 1484.5,1324.5 1484.0,1326.0 1463.4,1326.0 1462.9,1324.5 1462.2,1322.5 1461.5,1321.0 1460.7,1319.5 1459.7,1317.5 1458.8,1315.9 1457.9,1314.4 1456.6,1312.4 1455.7,1310.9 1454.5,1308.9 1453.7,1307.4 1452.8,1305.9 1451.8,1303.9 1451.1,1302.4 1450.5,1300.9 1449.7,1298.9 1449.1,1297.3 1448.6,1295.8 1448.1,1293.8 1447.7,1292.3 1447.3,1290.8 1446.9,1288.8 1446.6,1287.3 1446.2,1285.3 1446.0,1283.8 1445.6,1282.3 1445.2,1280.3 1444.7,1278.8 1444.3,1277.2 1443.6,1275.2 1443.0,1273.7 1442.4,1272.2 1441.5,1270.2 1440.8,1268.7 1440.1,1267.2 1439.1,1265.2 1438.5,1263.7 1437.6,1261.7 1437.1,1260.2 1436.6,1258.6 1436.1,1256.6 1435.8,1255.1 1435.5,1253.6 1435.3,1251.6 1435.2,1250.1 1435.2,1248.6 1435.2,1246.6 1435.3,1245.1 1435.5,1243.6 1435.7,1241.6 1435.9,1240.0 1436.1,1238.5 1436.5,1236.5 1436.9,1235.0 1437.4,1233.0 1437.8,1231.5 1438.3,1230.0 1439.0,1228.0 1439.5,1226.5 1440.1,1225.0 1440.9,1223.0 1441.5,1221.4 1442.1,1219.9 1443.0,1217.9 1443.7,1216.4 1444.4,1214.9 1445.5,1212.9 1446.3,1211.4 1447.5,1209.4 1448.4,1207.9 1449.3,1206.4 1450.5,1204.4 1451.4,1202.9 1452.3,1201.3 1453.5,1199.3 1454.4,1197.8 1455.3,1196.3 1456.6,1194.3 1457.5,1192.8 1458.4,1191.3 1459.7,1189.3 1460.6,1187.8 1461.8,1185.8 1462.6,1184.3 1463.4,1182.7 1464.3,1180.7 1464.9,1179.2 1465.5,1177.7 1466.3,1175.7 1466.7,1174.2Z" fill="#E2DF00" stroke="#111111" stroke-width="2.2" stroke-linejoin="round"/>
<line x1="1473.7" y1="1174.2" x2="1473.7" y2="1326" stroke="#111111" stroke-width="2.0" stroke-linecap="butt"/>
<rect x="1470.6" y="1227.2" width="6.2" height="54" fill="#111111"/>
<circle cx="1473.7" cy="1253.2" r="7" fill="#fff"/>
<rect x="1127.4" y="1002.5" width="409.4" height="337.2" fill="none" stroke="#111111" stroke-width="3"/>
<text x="1152.4" y="1320.5" font-size="36" font-weight="bold" text-anchor="start" fill="#111111">Na (a.p.f.u.)</text>
<line x1="102.5" y1="1430.9" x2="125" y2="1430.9" stroke="#111111" stroke-width="2.6" stroke-linecap="butt"/>
<text transform="translate(89,1431) rotate(-90)" font-size="36" text-anchor="middle" fill="#111111">0.92</text>
<line x1="102.5" y1="1502.8" x2="125" y2="1502.8" stroke="#111111" stroke-width="2.6" stroke-linecap="butt"/>
<line x1="102.5" y1="1574.7" x2="125" y2="1574.7" stroke="#111111" stroke-width="2.6" stroke-linecap="butt"/>
<text transform="translate(89,1574.5) rotate(-90)" font-size="36" text-anchor="middle" fill="#111111">0.88</text>
<line x1="102.5" y1="1646.6" x2="125" y2="1646.6" stroke="#111111" stroke-width="2.6" stroke-linecap="butt"/>
<line x1="102.5" y1="1718.5" x2="125" y2="1718.5" stroke="#111111" stroke-width="2.6" stroke-linecap="butt"/>
<text transform="translate(89,1717.8) rotate(-90)" font-size="36" text-anchor="middle" fill="#111111">0.84</text>
<path d="M192.9,1494.0 193.1,1495.5 193.5,1497.5 193.8,1499.0 194.2,1500.5 194.6,1502.5 195.0,1504.0 195.6,1506.0 196.1,1507.5 196.6,1509.0 197.3,1511.0 197.9,1512.5 198.5,1514.1 199.4,1516.1 200.1,1517.6 200.8,1519.1 201.8,1521.1 202.6,1522.6 203.5,1524.1 204.7,1526.1 205.6,1527.6 206.8,1529.6 207.8,1531.1 208.7,1532.6 210.1,1534.6 211.1,1536.1 212.1,1537.6 213.5,1539.6 214.5,1541.1 215.4,1542.6 216.7,1544.6 217.7,1546.1 218.9,1548.1 219.7,1549.6 220.5,1551.1 221.5,1553.2 222.2,1554.7 222.8,1556.2 223.6,1558.2 224.1,1559.7 224.6,1561.2 225.1,1563.2 225.5,1564.7 225.8,1566.2 226.1,1568.2 226.2,1569.7 226.4,1571.7 226.4,1573.2 226.3,1574.7 226.2,1576.7 226.1,1578.2 225.8,1579.7 225.5,1581.7 225.1,1583.2 224.7,1584.7 224.1,1586.7 223.6,1588.2 222.9,1590.2 222.3,1591.8 221.6,1593.3 220.6,1595.3 219.9,1596.8 219.1,1598.3 218.0,1600.3 217.2,1601.8 216.3,1603.3 215.1,1605.3 214.2,1606.8 213.2,1608.3 212.0,1610.3 211.1,1611.8 209.8,1613.8 208.9,1615.3 208.1,1616.8 206.9,1618.8 206.1,1620.3 205.3,1621.8 204.3,1623.8 203.6,1625.3 202.9,1626.8 202.0,1628.8 201.3,1630.3 200.7,1631.9 199.9,1633.9 199.3,1635.4 198.6,1637.4 198.1,1638.9 197.6,1640.4 196.9,1642.4 196.5,1643.9 196.0,1645.4 195.4,1647.4 195.0,1648.9 194.6,1650.4 194.2,1652.4 193.8,1653.9 193.4,1655.9 193.0,1657.4 192.7,1658.9 192.4,1660.9 192.1,1662.4 191.9,1663.9 191.5,1665.9 191.3,1667.4 191.1,1668.9 190.9,1671.0 190.7,1672.5 190.6,1674.0 190.4,1676.0 190.2,1677.5 190.1,1679.5 190.0,1681.0 189.9,1682.5 189.8,1684.5 189.7,1686.0 189.7,1687.5 189.6,1689.5 189.5,1691.0 189.5,1692.5 189.4,1694.5 189.4,1696.0 189.4,1698.0 189.3,1699.5 189.3,1701.0 189.2,1703.0 189.2,1704.5 189.2,1706.0 189.1,1708.0 189.1,1709.6 189.1,1711.1 189.0,1713.1 189.0,1714.6 189.0,1716.1 189.0,1718.1 188.9,1719.6 188.9,1721.6 188.9,1723.1 188.9,1724.6 188.9,1726.6 188.9,1728.1 186.9,1728.1 186.9,1726.6 186.9,1724.6 186.9,1723.1 186.9,1721.6 186.9,1719.6 186.8,1718.1 186.8,1716.1 186.8,1714.6 186.8,1713.1 186.7,1711.1 186.7,1709.6 186.7,1708.0 186.6,1706.0 186.6,1704.5 186.6,1703.0 186.5,1701.0 186.5,1699.5 186.4,1698.0 186.4,1696.0 186.4,1694.5 186.3,1692.5 186.3,1691.0 186.2,1689.5 186.1,1687.5 186.1,1686.0 186.0,1684.5 185.9,1682.5 185.8,1681.0 185.7,1679.5 185.6,1677.5 185.4,1676.0 185.2,1674.0 185.1,1672.5 184.9,1671.0 184.7,1668.9 184.5,1667.4 184.3,1665.9 183.9,1663.9 183.7,1662.4 183.4,1660.9 183.1,1658.9 182.8,1657.4 182.4,1655.9 182.0,1653.9 181.6,1652.4 181.2,1650.4 180.8,1648.9 180.4,1647.4 179.8,1645.4 179.3,1643.9 178.9,1642.4 178.2,1640.4 177.7,1638.9 177.2,1637.4 176.5,1635.4 175.9,1633.9 175.1,1631.9 174.5,1630.3 173.8,1628.8 172.9,1626.8 172.2,1625.3 171.5,1623.8 170.5,1621.8 169.7,1620.3 168.9,1618.8 167.7,1616.8 166.9,1615.3 166.0,1613.8 164.7,1611.8 163.8,1610.3 162.6,1608.3 161.6,1606.8 160.7,1605.3 159.5,1603.3 158.6,1601.8 157.8,1600.3 156.7,1598.3 155.9,1596.8 155.2,1595.3 154.2,1593.3 153.5,1591.8 152.9,1590.2 152.2,1588.2 151.7,1586.7 151.1,1584.7 150.7,1583.2 150.3,1581.7 150.0,1579.7 149.7,1578.2 149.6,1576.7 149.5,1574.7 149.4,1573.2 149.4,1571.7 149.6,1569.7 149.7,1568.2 150.0,1566.2 150.3,1564.7 150.7,1563.2 151.2,1561.2 151.7,1559.7 152.2,1558.2 153.0,1556.2 153.6,1554.7 154.3,1553.2 155.3,1551.1 156.1,1549.6 156.9,1548.1 158.1,1546.1 159.1,1544.6 160.4,1542.6 161.3,1541.1 162.3,1539.6 163.7,1537.6 164.7,1536.1 165.7,1534.6 167.1,1532.6 168.0,1531.1 169.0,1529.6 170.2,1527.6 171.1,1526.1 172.3,1524.1 173.2,1522.6 174.0,1521.1 175.0,1519.1 175.7,1517.6 176.4,1516.1 177.3,1514.1 177.9,1512.5 178.5,1511.0 179.2,1509.0 179.7,1507.5 180.2,1506.0 180.8,1504.0 181.2,1502.5 181.6,1500.5 182.0,1499.0 182.3,1497.5 182.7,1495.5 182.9,1494.0Z" fill="#2E3597" stroke="#111111" stroke-width="2.2" stroke-linejoin="round"/>
<line x1="187.9" y1="1509.3" x2="187.9" y2="1646.1" stroke="#111111" stroke-width="2.0" stroke-linecap="butt"/>
<rect x="184.8" y="1560" width="6.2" height="34.7" fill="#111111"/>
<circle cx="187.9" cy="1575.3" r="7" fill="#fff"/>
<path d="M284.9,1437.2 285.0,1438.7 285.1,1440.7 285.2,1442.2 285.3,1443.7 285.5,1445.7 285.7,1447.2 285.9,1448.7 286.2,1450.7 286.4,1452.2 286.8,1454.3 287.1,1455.8 287.5,1457.3 288.0,1459.3 288.4,1460.8 288.8,1462.3 289.4,1464.3 289.8,1465.8 290.2,1467.3 290.8,1469.3 291.3,1470.8 291.7,1472.3 292.3,1474.3 292.8,1475.8 293.4,1477.8 293.9,1479.3 294.4,1480.8 295.1,1482.9 295.6,1484.4 296.2,1485.9 296.9,1487.9 297.5,1489.4 298.2,1490.9 299.0,1492.9 299.7,1494.4 300.4,1495.9 301.3,1497.9 302.1,1499.4 303.1,1501.4 303.9,1502.9 304.6,1504.4 305.7,1506.4 306.5,1507.9 307.3,1509.4 308.3,1511.4 309.1,1513.0 309.9,1514.5 310.9,1516.5 311.6,1518.0 312.4,1519.5 313.3,1521.5 314.0,1523.0 314.9,1525.0 315.6,1526.5 316.2,1528.0 317.0,1530.0 317.5,1531.5 318.0,1533.0 318.7,1535.0 319.1,1536.5 319.5,1538.0 319.9,1540.0 320.2,1541.5 320.5,1543.1 320.7,1545.1 320.9,1546.6 321.0,1548.6 321.0,1550.1 321.0,1551.6 320.9,1553.6 320.8,1555.1 320.6,1556.6 320.3,1558.6 320.1,1560.1 319.7,1561.6 319.2,1563.6 318.8,1565.1 318.3,1566.6 317.6,1568.6 317.1,1570.1 316.3,1572.1 315.6,1573.7 314.9,1575.2 314.0,1577.2 313.2,1578.7 312.5,1580.2 311.4,1582.2 310.5,1583.7 309.7,1585.2 308.5,1587.2 307.6,1588.7 306.7,1590.2 305.5,1592.2 304.5,1593.7 303.3,1595.7 302.3,1597.2 301.4,1598.7 300.1,1600.7 299.2,1602.2 298.4,1603.8 297.4,1605.8 296.8,1607.3 296.3,1608.8 295.7,1610.8 295.5,1612.3 295.3,1613.8 295.2,1615.8 295.0,1617.3 294.8,1619.3 294.5,1620.8 294.0,1622.3 293.3,1624.3 292.7,1625.8 292.0,1627.3 291.2,1629.3 290.5,1630.8 290.0,1632.3 289.3,1634.4 288.9,1635.9 288.6,1637.4 288.2,1639.4 288.0,1640.9 287.7,1642.9 287.5,1644.4 287.3,1645.9 287.1,1647.9 286.9,1649.4 286.7,1650.9 286.4,1652.9 286.2,1654.4 286.0,1655.9 285.7,1657.9 285.5,1659.4 285.2,1660.9 285.0,1663.0 284.8,1664.5 284.5,1666.5 284.4,1668.0 284.2,1669.5 284.0,1671.5 283.9,1673.0 283.7,1674.5 283.5,1676.5 283.5,1678.0 281.3,1678.0 281.3,1676.5 281.1,1674.5 280.9,1673.0 280.8,1671.5 280.6,1669.5 280.4,1668.0 280.3,1666.5 280.0,1664.5 279.8,1663.0 279.6,1660.9 279.3,1659.4 279.1,1657.9 278.8,1655.9 278.6,1654.4 278.4,1652.9 278.1,1650.9 277.9,1649.4 277.7,1647.9 277.5,1645.9 277.3,1644.4 277.1,1642.9 276.8,1640.9 276.6,1639.4 276.2,1637.4 275.9,1635.9 275.5,1634.4 274.8,1632.3 274.3,1630.8 273.6,1629.3 272.8,1627.3 272.1,1625.8 271.5,1624.3 270.8,1622.3 270.3,1620.8 270.0,1619.3 269.8,1617.3 269.6,1615.8 269.5,1613.8 269.3,1612.3 269.1,1610.8 268.5,1608.8 268.0,1607.3 267.4,1605.8 266.4,1603.8 265.6,1602.2 264.7,1600.7 263.4,1598.7 262.5,1597.2 261.5,1595.7 260.3,1593.7 259.3,1592.2 258.1,1590.2 257.2,1588.7 256.3,1587.2 255.1,1585.2 254.3,1583.7 253.4,1582.2 252.3,1580.2 251.6,1578.7 250.8,1577.2 249.9,1575.2 249.2,1573.7 248.5,1572.1 247.7,1570.1 247.2,1568.6 246.5,1566.6 246.0,1565.1 245.6,1563.6 245.1,1561.6 244.7,1560.1 244.5,1558.6 244.2,1556.6 244.0,1555.1 243.9,1553.6 243.8,1551.6 243.8,1550.1 243.8,1548.6 243.9,1546.6 244.1,1545.1 244.3,1543.1 244.6,1541.5 244.9,1540.0 245.3,1538.0 245.7,1536.5 246.1,1535.0 246.8,1533.0 247.3,1531.5 247.8,1530.0 248.6,1528.0 249.2,1526.5 249.9,1525.0 250.8,1523.0 251.5,1521.5 252.4,1519.5 253.2,1518.0 253.9,1516.5 254.9,1514.5 255.7,1513.0 256.5,1511.4 257.5,1509.4 258.3,1507.9 259.1,1506.4 260.2,1504.4 260.9,1502.9 261.7,1501.4 262.7,1499.4 263.5,1497.9 264.4,1495.9 265.1,1494.4 265.8,1492.9 266.6,1490.9 267.3,1489.4 267.9,1487.9 268.6,1485.9 269.2,1484.4 269.7,1482.9 270.4,1480.8 270.9,1479.3 271.4,1477.8 272.0,1475.8 272.5,1474.3 273.1,1472.3 273.5,1470.8 274.0,1469.3 274.6,1467.3 275.0,1465.8 275.4,1464.3 276.0,1462.3 276.4,1460.8 276.8,1459.3 277.3,1457.3 277.7,1455.8 278.0,1454.3 278.4,1452.2 278.6,1450.7 278.9,1448.7 279.1,1447.2 279.3,1445.7 279.5,1443.7 279.6,1442.2 279.7,1440.7 279.8,1438.7 279.9,1437.2Z" fill="#8D2DB3" stroke="#111111" stroke-width="2.2" stroke-linejoin="round"/>
<line x1="282.4" y1="1469.8" x2="282.4" y2="1633.9" stroke="#111111" stroke-width="2.0" stroke-linecap="butt"/>
<rect x="279.3" y="1531.2" width="6.2" height="41.2" fill="#111111"/>
<circle cx="282.4" cy="1551.5" r="7" fill="#fff"/>
<path d="M386.3,1446.9 386.6,1448.4 387.2,1450.4 387.7,1451.9 388.2,1453.4 388.8,1455.4 389.2,1456.9 389.6,1458.4 390.1,1460.5 390.4,1462.0 390.9,1464.0 391.2,1465.5 391.4,1467.0 391.7,1469.0 392.0,1470.5 392.1,1472.0 392.4,1474.0 392.5,1475.5 392.7,1477.0 392.9,1479.0 393.0,1480.5 393.1,1482.0 393.2,1484.0 393.3,1485.5 393.4,1487.1 393.5,1489.1 393.6,1490.6 393.7,1492.6 393.8,1494.1 393.9,1495.6 394.0,1497.6 394.0,1499.1 394.1,1500.6 394.2,1502.6 394.3,1504.1 394.4,1505.6 394.6,1507.6 394.7,1509.1 394.8,1510.6 395.0,1512.6 395.1,1514.2 395.3,1515.7 395.6,1517.7 395.8,1519.2 396.0,1520.7 396.3,1522.7 396.6,1524.2 397.0,1526.2 397.4,1527.7 397.8,1529.2 398.3,1531.2 398.7,1532.7 399.2,1534.2 399.8,1536.2 400.4,1537.7 400.9,1539.2 401.7,1541.3 402.2,1542.8 402.8,1544.3 403.6,1546.3 404.2,1547.8 404.9,1549.3 405.7,1551.3 406.3,1552.8 407.1,1554.8 407.7,1556.3 408.3,1557.8 409.1,1559.8 409.7,1561.3 410.3,1562.8 411.0,1564.8 411.5,1566.3 412.0,1567.9 412.7,1569.9 413.1,1571.4 413.5,1572.9 414.0,1574.9 414.4,1576.4 414.7,1577.9 415.0,1579.9 415.2,1581.4 415.4,1583.4 415.5,1584.9 415.6,1586.4 415.6,1588.4 415.5,1589.9 415.4,1591.4 415.2,1593.5 414.9,1595.0 414.6,1596.5 414.1,1598.5 413.6,1600.0 413.0,1601.5 412.2,1603.5 411.5,1605.0 410.7,1606.5 409.6,1608.5 408.7,1610.0 407.5,1612.0 406.6,1613.5 405.6,1615.0 404.3,1617.0 403.3,1618.5 402.3,1620.1 401.0,1622.1 400.0,1623.6 399.0,1625.1 397.8,1627.1 396.9,1628.6 396.0,1630.1 394.9,1632.1 394.1,1633.6 393.3,1635.1 392.4,1637.1 391.7,1638.6 391.0,1640.1 390.1,1642.1 389.5,1643.6 388.7,1645.6 388.1,1647.2 387.6,1648.7 386.9,1650.7 386.4,1652.2 385.9,1653.7 385.4,1655.7 384.9,1657.2 384.5,1658.7 384.0,1660.7 383.7,1662.2 383.4,1663.7 383.0,1665.7 382.7,1667.2 382.5,1668.7 382.2,1670.7 382.0,1672.2 381.8,1674.3 381.7,1675.8 381.6,1677.3 381.5,1679.3 381.4,1680.8 381.4,1682.3 381.3,1684.3 381.3,1685.8 372.7,1685.8 372.7,1684.3 372.6,1682.3 372.6,1680.8 372.5,1679.3 372.4,1677.3 372.3,1675.8 372.2,1674.3 372.0,1672.2 371.8,1670.7 371.5,1668.7 371.3,1667.2 371.0,1665.7 370.6,1663.7 370.3,1662.2 370.0,1660.7 369.5,1658.7 369.1,1657.2 368.6,1655.7 368.1,1653.7 367.6,1652.2 367.1,1650.7 366.4,1648.7 365.9,1647.2 365.3,1645.6 364.5,1643.6 363.9,1642.1 363.0,1640.1 362.3,1638.6 361.6,1637.1 360.7,1635.1 359.9,1633.6 359.1,1632.1 358.0,1630.1 357.1,1628.6 356.2,1627.1 355.0,1625.1 354.0,1623.6 353.0,1622.1 351.7,1620.1 350.7,1618.5 349.7,1617.0 348.4,1615.0 347.4,1613.5 346.5,1612.0 345.3,1610.0 344.4,1608.5 343.3,1606.5 342.5,1605.0 341.8,1603.5 341.0,1601.5 340.4,1600.0 339.9,1598.5 339.4,1596.5 339.1,1595.0 338.8,1593.5 338.6,1591.4 338.5,1589.9 338.4,1588.4 338.4,1586.4 338.5,1584.9 338.6,1583.4 338.8,1581.4 339.0,1579.9 339.3,1577.9 339.6,1576.4 340.0,1574.9 340.5,1572.9 340.9,1571.4 341.3,1569.9 342.0,1567.9 342.5,1566.3 343.0,1564.8 343.7,1562.8 344.3,1561.3 344.9,1559.8 345.7,1557.8 346.3,1556.3 346.9,1554.8 347.7,1552.8 348.3,1551.3 349.1,1549.3 349.8,1547.8 350.4,1546.3 351.2,1544.3 351.8,1542.8 352.3,1541.3 353.1,1539.2 353.6,1537.7 354.2,1536.2 354.8,1534.2 355.3,1532.7 355.7,1531.2 356.2,1529.2 356.6,1527.7 357.0,1526.2 357.4,1524.2 357.7,1522.7 358.0,1520.7 358.2,1519.2 358.4,1517.7 358.7,1515.7 358.9,1514.2 359.0,1512.6 359.2,1510.6 359.3,1509.1 359.4,1507.6 359.6,1505.6 359.7,1504.1 359.8,1502.6 359.9,1500.6 360.0,1499.1 360.0,1497.6 360.1,1495.6 360.2,1494.1 360.3,1492.6 360.4,1490.6 360.5,1489.1 360.6,1487.1 360.7,1485.5 360.8,1484.0 360.9,1482.0 361.0,1480.5 361.1,1479.0 361.3,1477.0 361.5,1475.5 361.6,1474.0 361.9,1472.0 362.0,1470.5 362.3,1469.0 362.6,1467.0 362.8,1465.5 363.1,1464.0 363.6,1462.0 363.9,1460.5 364.4,1458.4 364.8,1456.9 365.2,1455.4 365.8,1453.4 366.3,1451.9 366.8,1450.4 367.4,1448.4 367.7,1446.9Z" fill="#F29200" stroke="#111111" stroke-width="2.2" stroke-linejoin="round"/>
<line x1="377" y1="1446.9" x2="377" y2="1685.8" stroke="#111111" stroke-width="2.0" stroke-linecap="butt"/>
<rect x="373.9" y="1521.7" width="6.2" height="78.8" fill="#111111"/>
<circle cx="377" cy="1573.7" r="7" fill="#fff"/>
<path d="M480.2,1417.0 480.8,1418.5 481.9,1420.5 482.8,1422.0 483.7,1423.5 485.0,1425.5 485.9,1427.0 486.9,1428.5 488.3,1430.5 489.3,1432.0 490.8,1434.0 491.9,1435.6 493.0,1437.1 494.6,1439.1 495.7,1440.6 496.9,1442.1 498.4,1444.1 499.5,1445.6 500.6,1447.1 501.8,1449.1 502.7,1450.6 503.6,1452.1 504.6,1454.1 505.2,1455.6 506.0,1457.6 506.6,1459.1 507.1,1460.6 507.7,1462.6 508.1,1464.1 508.4,1465.6 508.8,1467.6 509.1,1469.1 509.3,1470.7 509.6,1472.7 509.7,1474.2 509.9,1475.7 510.0,1477.7 510.0,1479.2 509.9,1481.2 509.8,1482.7 509.7,1484.2 509.4,1486.2 509.2,1487.7 508.9,1489.2 508.5,1491.2 508.2,1492.7 507.8,1494.2 507.3,1496.2 506.9,1497.7 506.5,1499.2 506.0,1501.2 505.6,1502.7 505.2,1504.2 504.7,1506.3 504.4,1507.8 503.8,1509.8 503.5,1511.3 503.1,1512.8 502.5,1514.8 502.1,1516.3 501.7,1517.8 501.0,1519.8 500.5,1521.3 500.0,1522.8 499.2,1524.8 498.6,1526.3 498.0,1527.8 497.1,1529.8 496.3,1531.3 495.4,1533.3 494.6,1534.8 493.9,1536.3 492.8,1538.3 492.1,1539.9 491.3,1541.4 490.3,1543.4 489.6,1544.9 488.9,1546.4 487.9,1548.4 487.3,1549.9 486.6,1551.4 485.8,1553.4 485.1,1554.9 484.3,1556.9 483.7,1558.4 483.0,1559.9 482.2,1561.9 481.7,1563.4 481.1,1564.9 480.3,1566.9 479.8,1568.4 479.3,1569.9 478.7,1571.9 478.2,1573.4 477.8,1575.0 477.3,1577.0 477.0,1578.5 476.6,1580.5 476.4,1582.0 476.2,1583.5 475.9,1585.5 475.7,1587.0 475.6,1588.5 475.4,1590.5 475.3,1592.0 467.5,1592.0 467.4,1590.5 467.2,1588.5 467.1,1587.0 466.9,1585.5 466.6,1583.5 466.4,1582.0 466.2,1580.5 465.8,1578.5 465.5,1577.0 465.0,1575.0 464.6,1573.4 464.1,1571.9 463.5,1569.9 463.0,1568.4 462.5,1566.9 461.7,1564.9 461.1,1563.4 460.6,1561.9 459.8,1559.9 459.1,1558.4 458.5,1556.9 457.7,1554.9 457.0,1553.4 456.2,1551.4 455.5,1549.9 454.9,1548.4 453.9,1546.4 453.2,1544.9 452.5,1543.4 451.5,1541.4 450.7,1539.9 450.0,1538.3 448.9,1536.3 448.2,1534.8 447.4,1533.3 446.5,1531.3 445.7,1529.8 444.8,1527.8 444.2,1526.3 443.6,1524.8 442.8,1522.8 442.3,1521.3 441.8,1519.8 441.1,1517.8 440.7,1516.3 440.3,1514.8 439.7,1512.8 439.3,1511.3 439.0,1509.8 438.4,1507.8 438.1,1506.3 437.6,1504.2 437.2,1502.7 436.8,1501.2 436.3,1499.2 435.9,1497.7 435.5,1496.2 435.0,1494.2 434.6,1492.7 434.3,1491.2 433.9,1489.2 433.6,1487.7 433.4,1486.2 433.1,1484.2 433.0,1482.7 432.9,1481.2 432.8,1479.2 432.8,1477.7 432.9,1475.7 433.1,1474.2 433.2,1472.7 433.5,1470.7 433.7,1469.1 434.0,1467.6 434.4,1465.6 434.7,1464.1 435.1,1462.6 435.7,1460.6 436.2,1459.1 436.8,1457.6 437.6,1455.6 438.2,1454.1 439.2,1452.1 440.1,1450.6 441.0,1449.1 442.2,1447.1 443.3,1445.6 444.4,1444.1 445.9,1442.1 447.1,1440.6 448.2,1439.1 449.8,1437.1 450.9,1435.6 452.0,1434.0 453.5,1432.0 454.5,1430.5 455.9,1428.5 456.9,1427.0 457.8,1425.5 459.1,1423.5 460.0,1422.0 460.9,1420.5 462.0,1418.5 462.6,1417.0Z" fill="#E2DF00" stroke="#111111" stroke-width="2.2" stroke-linejoin="round"/>
<line x1="471.4" y1="1417" x2="471.4" y2="1592" stroke="#111111" stroke-width="2.0" stroke-linecap="butt"/>
<rect x="468.3" y="1459.5" width="6.2" height="60.9" fill="#111111"/>
<circle cx="471.4" cy="1487" r="7" fill="#fff"/>
<rect x="125" y="1404.4" width="409.3" height="336.9" fill="none" stroke="#111111" stroke-width="3"/>
<text x="286" y="1721.5" font-size="36" font-weight="bold" text-anchor="start" fill="#111111">Ca (a.p.f.u.)</text>
<line x1="607.3" y1="1448.4" x2="629.8" y2="1448.4" stroke="#111111" stroke-width="2.6" stroke-linecap="butt"/>
<text transform="translate(593.8,1443.4) rotate(-90)" font-size="36" text-anchor="middle" fill="#111111">0.88</text>
<line x1="607.3" y1="1501.5" x2="629.8" y2="1501.5" stroke="#111111" stroke-width="2.6" stroke-linecap="butt"/>
<line x1="607.3" y1="1554.6" x2="629.8" y2="1554.6" stroke="#111111" stroke-width="2.6" stroke-linecap="butt"/>
<text transform="translate(593.8,1563.6) rotate(-90)" font-size="36" text-anchor="middle" fill="#111111">0.84</text>
<line x1="607.3" y1="1607.6" x2="629.8" y2="1607.6" stroke="#111111" stroke-width="2.6" stroke-linecap="butt"/>
<line x1="607.3" y1="1660.7" x2="629.8" y2="1660.7" stroke="#111111" stroke-width="2.6" stroke-linecap="butt"/>
<line x1="607.3" y1="1713.8" x2="629.8" y2="1713.8" stroke="#111111" stroke-width="2.6" stroke-linecap="butt"/>
<text transform="translate(593.8,1714.9) rotate(-90)" font-size="36" text-anchor="middle" fill="#111111">0.78</text>
<path d="M697.7,1531.0 698.0,1532.5 698.6,1534.5 699.1,1536.0 699.6,1537.5 700.4,1539.5 701.0,1541.0 701.7,1542.6 702.7,1544.6 703.5,1546.1 704.6,1548.1 705.5,1549.6 706.4,1551.1 707.7,1553.1 708.7,1554.6 709.8,1556.1 711.2,1558.1 712.3,1559.6 713.4,1561.1 714.9,1563.1 716.0,1564.7 717.1,1566.2 718.6,1568.2 719.6,1569.7 720.6,1571.2 722.0,1573.2 723.0,1574.7 723.9,1576.2 725.1,1578.2 725.9,1579.7 727.0,1581.7 727.7,1583.2 728.3,1584.7 729.0,1586.8 729.5,1588.3 729.9,1589.8 730.2,1591.8 730.4,1593.3 730.5,1594.8 730.6,1596.8 730.6,1598.3 730.5,1599.8 730.3,1601.8 730.1,1603.3 729.8,1604.8 729.4,1606.8 729.0,1608.4 728.5,1609.9 727.8,1611.9 727.2,1613.4 726.3,1615.4 725.6,1616.9 724.8,1618.4 723.8,1620.4 722.9,1621.9 722.1,1623.4 720.9,1625.4 720.0,1626.9 719.1,1628.4 717.9,1630.5 717.0,1632.0 716.1,1633.5 714.9,1635.5 714.0,1637.0 713.1,1638.5 711.9,1640.5 711.0,1642.0 710.2,1643.5 709.1,1645.5 708.3,1647.0 707.3,1649.0 706.6,1650.5 705.9,1652.1 705.0,1654.1 704.3,1655.6 703.7,1657.1 702.9,1659.1 702.2,1660.6 701.7,1662.1 700.9,1664.1 700.3,1665.6 699.8,1667.1 699.1,1669.1 698.6,1670.6 698.2,1672.1 697.6,1674.2 697.3,1675.7 696.9,1677.2 696.5,1679.2 696.2,1680.7 695.9,1682.7 695.7,1684.2 695.5,1685.7 695.2,1687.7 695.0,1689.2 694.9,1690.7 694.7,1692.7 694.6,1694.2 694.5,1695.8 694.3,1697.8 694.2,1699.3 694.2,1700.8 694.0,1702.8 694.0,1704.3 693.9,1705.8 693.8,1707.8 693.8,1709.3 693.8,1710.8 693.7,1712.8 693.7,1714.3 693.7,1716.3 693.6,1717.9 693.6,1719.4 693.6,1721.4 693.6,1722.9 693.6,1724.4 693.5,1726.4 693.5,1727.9 691.7,1727.9 691.7,1726.4 691.6,1724.4 691.6,1722.9 691.6,1721.4 691.6,1719.4 691.6,1717.9 691.5,1716.3 691.5,1714.3 691.5,1712.8 691.4,1710.8 691.4,1709.3 691.4,1707.8 691.3,1705.8 691.2,1704.3 691.2,1702.8 691.0,1700.8 691.0,1699.3 690.9,1697.8 690.7,1695.8 690.6,1694.2 690.5,1692.7 690.3,1690.7 690.2,1689.2 690.0,1687.7 689.7,1685.7 689.5,1684.2 689.3,1682.7 689.0,1680.7 688.7,1679.2 688.3,1677.2 687.9,1675.7 687.6,1674.2 687.0,1672.1 686.6,1670.6 686.1,1669.1 685.4,1667.1 684.9,1665.6 684.3,1664.1 683.5,1662.1 683.0,1660.6 682.3,1659.1 681.5,1657.1 680.9,1655.6 680.2,1654.1 679.3,1652.1 678.6,1650.5 677.9,1649.0 676.9,1647.0 676.1,1645.5 675.0,1643.5 674.2,1642.0 673.3,1640.5 672.1,1638.5 671.2,1637.0 670.3,1635.5 669.1,1633.5 668.2,1632.0 667.3,1630.5 666.1,1628.4 665.2,1626.9 664.3,1625.4 663.1,1623.4 662.3,1621.9 661.4,1620.4 660.4,1618.4 659.6,1616.9 658.9,1615.4 658.0,1613.4 657.4,1611.9 656.7,1609.9 656.2,1608.4 655.8,1606.8 655.4,1604.8 655.1,1603.3 654.9,1601.8 654.7,1599.8 654.6,1598.3 654.6,1596.8 654.7,1594.8 654.8,1593.3 655.0,1591.8 655.3,1589.8 655.7,1588.3 656.2,1586.8 656.9,1584.7 657.5,1583.2 658.2,1581.7 659.3,1579.7 660.1,1578.2 661.3,1576.2 662.2,1574.7 663.2,1573.2 664.6,1571.2 665.6,1569.7 666.6,1568.2 668.1,1566.2 669.2,1564.7 670.3,1563.1 671.8,1561.1 672.9,1559.6 674.0,1558.1 675.4,1556.1 676.5,1554.6 677.5,1553.1 678.8,1551.1 679.7,1549.6 680.6,1548.1 681.7,1546.1 682.5,1544.6 683.5,1542.6 684.2,1541.0 684.8,1539.5 685.6,1537.5 686.1,1536.0 686.6,1534.5 687.2,1532.5 687.5,1531.0Z" fill="#2E3597" stroke="#111111" stroke-width="2.2" stroke-linejoin="round"/>
<line x1="692.6" y1="1534.6" x2="692.6" y2="1665.1" stroke="#111111" stroke-width="2.0" stroke-linecap="butt"/>
<rect x="689.5" y="1583.4" width="6.2" height="33.6" fill="#111111"/>
<circle cx="692.6" cy="1599.9" r="7" fill="#fff"/>
<path d="M787.9,1494.6 787.9,1496.1 788.0,1498.1 788.0,1499.6 788.1,1501.1 788.2,1503.1 788.4,1504.6 788.6,1506.6 788.7,1508.1 788.9,1509.6 789.3,1511.6 789.5,1513.1 789.8,1514.6 790.2,1516.7 790.5,1518.2 790.8,1519.7 791.2,1521.7 791.5,1523.2 791.9,1525.2 792.3,1526.7 792.6,1528.2 793.1,1530.2 793.5,1531.7 793.9,1533.2 794.4,1535.2 794.9,1536.7 795.5,1538.7 796.0,1540.2 796.5,1541.7 797.3,1543.7 797.9,1545.2 798.6,1546.7 799.5,1548.7 800.2,1550.2 800.9,1551.7 801.9,1553.7 802.6,1555.2 803.6,1557.3 804.3,1558.8 805.1,1560.3 806.1,1562.3 806.8,1563.8 807.6,1565.3 808.6,1567.3 809.4,1568.8 810.2,1570.3 811.3,1572.3 812.2,1573.8 813.3,1575.8 814.1,1577.3 814.9,1578.8 816.0,1580.8 816.8,1582.3 817.5,1583.8 818.5,1585.8 819.2,1587.3 819.9,1588.8 820.7,1590.8 821.3,1592.3 822.0,1594.3 822.4,1595.8 822.8,1597.3 823.3,1599.4 823.6,1600.9 823.9,1602.4 824.2,1604.4 824.4,1605.9 824.7,1607.9 824.8,1609.4 824.9,1610.9 824.9,1612.9 824.8,1614.4 824.7,1615.9 824.4,1617.9 824.1,1619.4 823.8,1620.9 823.2,1622.9 822.7,1624.4 822.0,1626.4 821.4,1627.9 820.7,1629.4 819.7,1631.4 819.0,1632.9 818.2,1634.4 817.0,1636.4 816.1,1637.9 815.2,1639.4 814.0,1641.5 813.0,1643.0 811.7,1645.0 810.7,1646.5 809.7,1648.0 808.4,1650.0 807.4,1651.5 806.4,1653.0 805.1,1655.0 804.2,1656.5 803.3,1658.0 802.1,1660.0 801.3,1661.5 800.2,1663.5 799.4,1665.0 798.6,1666.5 797.7,1668.5 797.0,1670.0 796.3,1671.5 795.5,1673.5 794.9,1675.0 794.1,1677.0 793.5,1678.5 793.0,1680.0 792.3,1682.1 791.8,1683.6 791.4,1685.1 790.9,1687.1 790.6,1688.6 790.3,1690.1 790.1,1692.1 789.9,1693.6 789.8,1695.6 789.8,1697.1 789.8,1698.6 789.8,1700.6 789.8,1702.1 784.2,1702.1 784.2,1700.6 784.2,1698.6 784.2,1697.1 784.2,1695.6 784.1,1693.6 783.9,1692.1 783.7,1690.1 783.4,1688.6 783.1,1687.1 782.6,1685.1 782.2,1683.6 781.7,1682.1 781.0,1680.0 780.5,1678.5 779.9,1677.0 779.1,1675.0 778.5,1673.5 777.7,1671.5 777.0,1670.0 776.3,1668.5 775.4,1666.5 774.6,1665.0 773.8,1663.5 772.7,1661.5 771.9,1660.0 770.7,1658.0 769.8,1656.5 768.9,1655.0 767.6,1653.0 766.6,1651.5 765.6,1650.0 764.3,1648.0 763.3,1646.5 762.3,1645.0 761.0,1643.0 760.0,1641.5 758.8,1639.4 757.9,1637.9 757.0,1636.4 755.8,1634.4 755.0,1632.9 754.3,1631.4 753.3,1629.4 752.6,1627.9 752.0,1626.4 751.3,1624.4 750.8,1622.9 750.2,1620.9 749.9,1619.4 749.6,1617.9 749.3,1615.9 749.2,1614.4 749.1,1612.9 749.1,1610.9 749.2,1609.4 749.3,1607.9 749.6,1605.9 749.8,1604.4 750.1,1602.4 750.4,1600.9 750.7,1599.4 751.2,1597.3 751.6,1595.8 752.0,1594.3 752.7,1592.3 753.3,1590.8 754.1,1588.8 754.8,1587.3 755.5,1585.8 756.5,1583.8 757.2,1582.3 758.0,1580.8 759.1,1578.8 759.9,1577.3 760.7,1575.8 761.8,1573.8 762.7,1572.3 763.8,1570.3 764.6,1568.8 765.4,1567.3 766.4,1565.3 767.2,1563.8 767.9,1562.3 768.9,1560.3 769.7,1558.8 770.4,1557.3 771.4,1555.2 772.1,1553.7 773.1,1551.7 773.8,1550.2 774.5,1548.7 775.4,1546.7 776.1,1545.2 776.7,1543.7 777.5,1541.7 778.0,1540.2 778.5,1538.7 779.1,1536.7 779.6,1535.2 780.1,1533.2 780.5,1531.7 780.9,1530.2 781.4,1528.2 781.7,1526.7 782.1,1525.2 782.5,1523.2 782.8,1521.7 783.2,1519.7 783.5,1518.2 783.8,1516.7 784.2,1514.6 784.5,1513.1 784.7,1511.6 785.1,1509.6 785.3,1508.1 785.4,1506.6 785.6,1504.6 785.8,1503.1 785.9,1501.1 786.0,1499.6 786.0,1498.1 786.1,1496.1 786.1,1494.6Z" fill="#8D2DB3" stroke="#111111" stroke-width="2.2" stroke-linejoin="round"/>
<line x1="787" y1="1543.7" x2="787" y2="1681.6" stroke="#111111" stroke-width="2.0" stroke-linecap="butt"/>
<rect x="783.9" y="1594.8" width="6.2" height="35.8" fill="#111111"/>
<circle cx="787" cy="1613.3" r="7" fill="#fff"/>
<path d="M888.3,1416.8 888.4,1418.3 888.6,1420.3 888.8,1421.8 889.0,1423.3 889.2,1425.3 889.4,1426.8 889.6,1428.8 889.8,1430.3 889.9,1431.8 890.1,1433.9 890.3,1435.4 890.4,1436.9 890.6,1438.9 890.7,1440.4 890.8,1442.4 890.9,1443.9 891.0,1445.4 891.0,1447.4 891.1,1448.9 891.1,1450.4 891.2,1452.4 891.2,1453.9 891.2,1455.9 891.2,1457.4 891.2,1458.9 891.2,1460.9 891.2,1462.4 891.2,1463.9 891.2,1466.0 891.2,1467.5 891.2,1469.5 891.2,1471.0 891.2,1472.5 891.2,1474.5 891.2,1476.0 891.3,1477.5 891.3,1479.5 891.4,1481.0 891.4,1482.5 891.5,1484.5 891.6,1486.0 891.7,1488.0 891.8,1489.5 891.9,1491.0 892.1,1493.0 892.3,1494.5 892.4,1496.0 892.7,1498.1 893.0,1499.6 893.4,1501.6 893.7,1503.1 894.1,1504.6 894.7,1506.6 895.1,1508.1 895.7,1509.6 896.4,1511.6 897.0,1513.1 897.9,1515.1 898.7,1516.6 899.4,1518.1 900.4,1520.1 901.2,1521.6 902.0,1523.1 903.1,1525.1 903.9,1526.6 904.7,1528.1 905.7,1530.2 906.5,1531.7 907.5,1533.7 908.2,1535.2 909.0,1536.7 910.0,1538.7 910.7,1540.2 911.5,1541.7 912.5,1543.7 913.2,1545.2 914.1,1547.2 914.8,1548.7 915.4,1550.2 916.1,1552.2 916.6,1553.7 917.1,1555.2 917.6,1557.2 917.9,1558.7 918.3,1560.8 918.6,1562.3 918.8,1563.8 919.0,1565.8 919.2,1567.3 919.3,1568.8 919.4,1570.8 919.5,1572.3 919.6,1574.3 919.5,1575.8 919.5,1577.3 919.3,1579.3 919.1,1580.8 918.9,1582.3 918.4,1584.3 918.0,1585.8 917.5,1587.3 916.7,1589.3 916.0,1590.8 915.0,1592.9 914.2,1594.4 913.3,1595.9 912.1,1597.9 911.1,1599.4 910.1,1600.9 908.7,1602.9 907.6,1604.4 906.2,1606.4 905.1,1607.9 904.0,1609.4 902.6,1611.4 901.6,1612.9 900.6,1614.4 899.3,1616.4 898.3,1617.9 897.1,1619.9 896.3,1621.4 895.5,1622.9 894.5,1625.0 893.8,1626.5 893.2,1628.0 892.4,1630.0 891.8,1631.5 891.1,1633.5 890.7,1635.0 890.2,1636.5 889.7,1638.5 889.4,1640.0 873.4,1640.0 873.1,1638.5 872.6,1636.5 872.1,1635.0 871.7,1633.5 871.0,1631.5 870.4,1630.0 869.6,1628.0 869.0,1626.5 868.3,1625.0 867.3,1622.9 866.5,1621.4 865.7,1619.9 864.5,1617.9 863.5,1616.4 862.2,1614.4 861.2,1612.9 860.2,1611.4 858.8,1609.4 857.7,1607.9 856.6,1606.4 855.2,1604.4 854.1,1602.9 852.7,1600.9 851.7,1599.4 850.7,1597.9 849.5,1595.9 848.6,1594.4 847.8,1592.9 846.8,1590.8 846.1,1589.3 845.3,1587.3 844.8,1585.8 844.4,1584.3 843.9,1582.3 843.7,1580.8 843.5,1579.3 843.3,1577.3 843.3,1575.8 843.2,1574.3 843.3,1572.3 843.4,1570.8 843.5,1568.8 843.6,1567.3 843.8,1565.8 844.0,1563.8 844.2,1562.3 844.5,1560.8 844.9,1558.7 845.2,1557.2 845.7,1555.2 846.2,1553.7 846.7,1552.2 847.4,1550.2 848.0,1548.7 848.7,1547.2 849.6,1545.2 850.3,1543.7 851.3,1541.7 852.1,1540.2 852.8,1538.7 853.8,1536.7 854.6,1535.2 855.3,1533.7 856.3,1531.7 857.1,1530.2 858.1,1528.1 858.9,1526.6 859.7,1525.1 860.8,1523.1 861.6,1521.6 862.4,1520.1 863.4,1518.1 864.1,1516.6 864.9,1515.1 865.8,1513.1 866.4,1511.6 867.1,1509.6 867.7,1508.1 868.1,1506.6 868.7,1504.6 869.1,1503.1 869.4,1501.6 869.8,1499.6 870.1,1498.1 870.4,1496.0 870.5,1494.5 870.7,1493.0 870.9,1491.0 871.0,1489.5 871.1,1488.0 871.2,1486.0 871.3,1484.5 871.4,1482.5 871.4,1481.0 871.5,1479.5 871.5,1477.5 871.6,1476.0 871.6,1474.5 871.6,1472.5 871.6,1471.0 871.6,1469.5 871.6,1467.5 871.6,1466.0 871.6,1463.9 871.6,1462.4 871.6,1460.9 871.6,1458.9 871.6,1457.4 871.6,1455.9 871.6,1453.9 871.6,1452.4 871.7,1450.4 871.7,1448.9 871.8,1447.4 871.8,1445.4 871.9,1443.9 872.0,1442.4 872.1,1440.4 872.2,1438.9 872.4,1436.9 872.5,1435.4 872.7,1433.9 872.9,1431.8 873.0,1430.3 873.2,1428.8 873.4,1426.8 873.6,1425.3 873.8,1423.3 874.0,1421.8 874.2,1420.3 874.4,1418.3 874.5,1416.8Z" fill="#F29200" stroke="#111111" stroke-width="2.2" stroke-linejoin="round"/>
<line x1="881.4" y1="1446.1" x2="881.4" y2="1640" stroke="#111111" stroke-width="2.0" stroke-linecap="butt"/>
<rect x="878.3" y="1529.8" width="6.2" height="57.1" fill="#111111"/>
<circle cx="881.4" cy="1566.5" r="7" fill="#fff"/>
<path d="M980.9,1436.5 981.1,1438.0 981.6,1440.0 982.0,1441.5 982.4,1443.0 983.0,1445.0 983.5,1446.5 984.2,1448.6 984.8,1450.1 985.4,1451.6 986.2,1453.6 986.9,1455.1 987.6,1456.6 988.5,1458.6 989.3,1460.1 990.3,1462.1 991.0,1463.6 991.8,1465.1 992.8,1467.1 993.6,1468.6 994.3,1470.2 995.3,1472.2 996.0,1473.7 996.8,1475.7 997.5,1477.2 998.1,1478.7 998.8,1480.7 999.3,1482.2 999.8,1483.7 1000.3,1485.7 1000.7,1487.2 1001.2,1489.2 1001.5,1490.8 1001.8,1492.3 1002.1,1494.3 1002.3,1495.8 1002.5,1497.3 1002.7,1499.3 1002.9,1500.8 1003.1,1502.8 1003.3,1504.3 1003.5,1505.8 1003.8,1507.8 1004.1,1509.3 1004.4,1510.8 1005.0,1512.9 1005.4,1514.4 1006.1,1516.4 1006.7,1517.9 1007.3,1519.4 1008.1,1521.4 1008.8,1522.9 1009.4,1524.4 1010.3,1526.4 1010.9,1527.9 1011.5,1529.4 1012.2,1531.4 1012.7,1532.9 1013.2,1535.0 1013.5,1536.5 1013.7,1538.0 1013.9,1540.0 1014.0,1541.5 1014.1,1543.0 1014.0,1545.0 1013.9,1546.5 1013.7,1548.5 1013.5,1550.0 1013.1,1551.5 1012.6,1553.5 1012.1,1555.0 1011.5,1556.6 1010.6,1558.6 1009.9,1560.1 1009.0,1562.1 1008.2,1563.6 1007.4,1565.1 1006.4,1567.1 1005.7,1568.6 1004.9,1570.1 1003.9,1572.1 1003.2,1573.6 1002.2,1575.6 1001.4,1577.2 1000.7,1578.7 999.7,1580.7 999.0,1582.2 998.2,1583.7 997.2,1585.7 996.4,1587.2 995.3,1589.2 994.5,1590.7 993.6,1592.2 992.5,1594.2 991.7,1595.7 990.9,1597.2 989.8,1599.3 989.0,1600.8 987.9,1602.8 987.1,1604.3 986.3,1605.8 985.3,1607.8 984.8,1609.3 967.0,1609.3 966.5,1607.8 965.5,1605.8 964.7,1604.3 963.9,1602.8 962.8,1600.8 962.0,1599.3 960.9,1597.2 960.1,1595.7 959.3,1594.2 958.2,1592.2 957.3,1590.7 956.5,1589.2 955.4,1587.2 954.6,1585.7 953.6,1583.7 952.8,1582.2 952.1,1580.7 951.1,1578.7 950.4,1577.2 949.6,1575.6 948.6,1573.6 947.9,1572.1 946.9,1570.1 946.1,1568.6 945.4,1567.1 944.4,1565.1 943.6,1563.6 942.8,1562.1 941.9,1560.1 941.2,1558.6 940.3,1556.6 939.7,1555.0 939.2,1553.5 938.7,1551.5 938.3,1550.0 938.1,1548.5 937.9,1546.5 937.8,1545.0 937.7,1543.0 937.8,1541.5 937.9,1540.0 938.1,1538.0 938.3,1536.5 938.6,1535.0 939.1,1532.9 939.6,1531.4 940.3,1529.4 940.9,1527.9 941.5,1526.4 942.4,1524.4 943.0,1522.9 943.7,1521.4 944.5,1519.4 945.1,1517.9 945.7,1516.4 946.4,1514.4 946.8,1512.9 947.4,1510.8 947.7,1509.3 948.0,1507.8 948.3,1505.8 948.5,1504.3 948.7,1502.8 948.9,1500.8 949.1,1499.3 949.3,1497.3 949.5,1495.8 949.7,1494.3 950.0,1492.3 950.3,1490.8 950.6,1489.2 951.1,1487.2 951.5,1485.7 952.0,1483.7 952.5,1482.2 953.0,1480.7 953.7,1478.7 954.3,1477.2 955.0,1475.7 955.8,1473.7 956.5,1472.2 957.5,1470.2 958.2,1468.6 959.0,1467.1 960.0,1465.1 960.8,1463.6 961.5,1462.1 962.5,1460.1 963.3,1458.6 964.2,1456.6 964.9,1455.1 965.6,1453.6 966.4,1451.6 967.0,1450.1 967.6,1448.6 968.3,1446.5 968.8,1445.0 969.4,1443.0 969.8,1441.5 970.2,1440.0 970.7,1438.0 970.9,1436.5Z" fill="#E2DF00" stroke="#111111" stroke-width="2.2" stroke-linejoin="round"/>
<line x1="975.9" y1="1436.5" x2="975.9" y2="1609.3" stroke="#111111" stroke-width="2.0" stroke-linecap="butt"/>
<rect x="972.8" y="1498.9" width="6.2" height="64.7" fill="#111111"/>
<circle cx="975.9" cy="1536.6" r="7" fill="#fff"/>
<rect x="629.8" y="1404.3" width="408.7" height="337.4" fill="none" stroke="#111111" stroke-width="3"/>
<text x="910.8" y="1721.5" font-size="36" font-weight="bold" text-anchor="start" fill="#111111">DiHd</text>
<line x1="1108.2" y1="1475.7" x2="1130.7" y2="1475.7" stroke="#111111" stroke-width="2.6" stroke-linecap="butt"/>
<text transform="translate(1097,1468.3) rotate(-90)" font-size="36" text-anchor="middle" fill="#111111">0.12</text>
<line x1="1108.2" y1="1557.9" x2="1130.7" y2="1557.9" stroke="#111111" stroke-width="2.6" stroke-linecap="butt"/>
<text transform="translate(1097,1568.3) rotate(-90)" font-size="36" text-anchor="middle" fill="#111111">0.10</text>
<line x1="1108.2" y1="1640" x2="1130.7" y2="1640" stroke="#111111" stroke-width="2.6" stroke-linecap="butt"/>
<line x1="1108.2" y1="1722.2" x2="1130.7" y2="1722.2" stroke="#111111" stroke-width="2.6" stroke-linecap="butt"/>
<text transform="translate(1097,1722.3) rotate(-90)" font-size="36" text-anchor="middle" fill="#111111">0.06</text>
<path d="M1195.6,1417.2 1195.7,1418.7 1196.0,1420.7 1196.2,1422.2 1196.4,1423.7 1196.7,1425.7 1197.0,1427.2 1197.4,1429.2 1197.8,1430.7 1198.2,1432.2 1198.7,1434.2 1199.2,1435.7 1199.6,1437.2 1200.3,1439.3 1200.8,1440.8 1201.5,1442.8 1202.0,1444.3 1202.5,1445.8 1203.3,1447.8 1203.8,1449.3 1204.4,1450.8 1205.3,1452.8 1206.0,1454.3 1206.7,1455.8 1207.7,1457.8 1208.5,1459.3 1209.6,1461.3 1210.4,1462.8 1211.3,1464.3 1212.4,1466.3 1213.3,1467.8 1214.1,1469.3 1215.3,1471.3 1216.1,1472.8 1217.2,1474.8 1218.0,1476.3 1218.9,1477.8 1219.9,1479.8 1220.8,1481.3 1221.6,1482.8 1222.6,1484.9 1223.4,1486.4 1224.5,1488.4 1225.2,1489.9 1225.9,1491.4 1226.9,1493.4 1227.5,1494.9 1228.1,1496.4 1228.9,1498.4 1229.4,1499.9 1229.8,1501.4 1230.4,1503.4 1230.8,1504.9 1231.2,1506.9 1231.5,1508.4 1231.7,1509.9 1231.9,1511.9 1232.0,1513.4 1232.1,1514.9 1232.0,1516.9 1231.8,1518.4 1231.5,1520.4 1231.2,1521.9 1230.8,1523.4 1230.2,1525.4 1229.6,1527.0 1229.1,1528.5 1228.2,1530.5 1227.5,1532.0 1226.8,1533.5 1225.8,1535.5 1225.0,1537.0 1223.9,1539.0 1223.0,1540.5 1222.1,1542.0 1220.9,1544.0 1220.0,1545.5 1219.1,1547.0 1217.8,1549.0 1216.9,1550.5 1215.7,1552.5 1214.8,1554.0 1213.9,1555.5 1212.8,1557.5 1211.9,1559.0 1211.1,1560.5 1210.0,1562.5 1209.2,1564.0 1208.4,1565.5 1207.4,1567.5 1206.7,1569.0 1205.7,1571.1 1205.1,1572.6 1204.4,1574.1 1203.5,1576.1 1202.9,1577.6 1202.3,1579.1 1201.6,1581.1 1201.0,1582.6 1200.4,1584.6 1199.9,1586.1 1199.5,1587.6 1198.9,1589.6 1198.6,1591.1 1198.2,1592.6 1197.8,1594.6 1197.5,1596.1 1197.2,1598.1 1197.0,1599.6 1196.8,1601.1 1196.5,1603.1 1196.3,1604.6 1196.2,1606.1 1195.9,1608.1 1195.8,1609.6 1195.7,1611.1 1195.5,1613.1 1195.4,1614.6 1195.2,1616.7 1195.1,1618.2 1195.0,1619.7 1194.9,1621.7 1194.8,1623.2 1194.7,1624.7 1194.6,1626.7 1194.6,1628.2 1194.5,1630.2 1194.4,1631.7 1194.3,1633.2 1194.3,1635.2 1194.2,1636.7 1192.2,1636.7 1192.1,1635.2 1192.1,1633.2 1192.0,1631.7 1191.9,1630.2 1191.8,1628.2 1191.8,1626.7 1191.7,1624.7 1191.6,1623.2 1191.5,1621.7 1191.4,1619.7 1191.3,1618.2 1191.2,1616.7 1191.0,1614.6 1190.9,1613.1 1190.7,1611.1 1190.6,1609.6 1190.5,1608.1 1190.2,1606.1 1190.1,1604.6 1189.9,1603.1 1189.6,1601.1 1189.4,1599.6 1189.2,1598.1 1188.9,1596.1 1188.6,1594.6 1188.2,1592.6 1187.8,1591.1 1187.5,1589.6 1186.9,1587.6 1186.5,1586.1 1186.0,1584.6 1185.4,1582.6 1184.8,1581.1 1184.1,1579.1 1183.5,1577.6 1182.9,1576.1 1182.0,1574.1 1181.3,1572.6 1180.7,1571.1 1179.7,1569.0 1179.0,1567.5 1178.0,1565.5 1177.2,1564.0 1176.4,1562.5 1175.3,1560.5 1174.5,1559.0 1173.6,1557.5 1172.5,1555.5 1171.6,1554.0 1170.7,1552.5 1169.5,1550.5 1168.6,1549.0 1167.3,1547.0 1166.4,1545.5 1165.5,1544.0 1164.3,1542.0 1163.4,1540.5 1162.5,1539.0 1161.4,1537.0 1160.6,1535.5 1159.6,1533.5 1158.9,1532.0 1158.2,1530.5 1157.3,1528.5 1156.8,1527.0 1156.2,1525.4 1155.6,1523.4 1155.2,1521.9 1154.9,1520.4 1154.6,1518.4 1154.4,1516.9 1154.3,1514.9 1154.4,1513.4 1154.5,1511.9 1154.7,1509.9 1154.9,1508.4 1155.2,1506.9 1155.6,1504.9 1156.0,1503.4 1156.6,1501.4 1157.0,1499.9 1157.5,1498.4 1158.3,1496.4 1158.9,1494.9 1159.5,1493.4 1160.5,1491.4 1161.2,1489.9 1161.9,1488.4 1163.0,1486.4 1163.8,1484.9 1164.8,1482.8 1165.6,1481.3 1166.5,1479.8 1167.5,1477.8 1168.4,1476.3 1169.2,1474.8 1170.3,1472.8 1171.1,1471.3 1172.3,1469.3 1173.1,1467.8 1174.0,1466.3 1175.1,1464.3 1176.0,1462.8 1176.8,1461.3 1177.9,1459.3 1178.7,1457.8 1179.7,1455.8 1180.4,1454.3 1181.1,1452.8 1182.0,1450.8 1182.6,1449.3 1183.1,1447.8 1183.9,1445.8 1184.4,1444.3 1184.9,1442.8 1185.6,1440.8 1186.1,1439.3 1186.8,1437.2 1187.2,1435.7 1187.7,1434.2 1188.2,1432.2 1188.6,1430.7 1189.0,1429.2 1189.4,1427.2 1189.7,1425.7 1190.0,1423.7 1190.2,1422.2 1190.4,1420.7 1190.7,1418.7 1190.8,1417.2Z" fill="#2E3597" stroke="#111111" stroke-width="2.2" stroke-linejoin="round"/>
<line x1="1193.2" y1="1441.3" x2="1193.2" y2="1590.7" stroke="#111111" stroke-width="2.0" stroke-linecap="butt"/>
<rect x="1190.1" y="1496.8" width="6.2" height="37.8" fill="#111111"/>
<circle cx="1193.2" cy="1515.1" r="7" fill="#fff"/>
<path d="M1290.3,1429.2 1290.5,1430.7 1290.8,1432.7 1291.1,1434.2 1291.4,1435.7 1291.8,1437.7 1292.1,1439.2 1292.5,1441.2 1292.8,1442.7 1293.2,1444.2 1293.6,1446.2 1294.0,1447.8 1294.4,1449.3 1295.0,1451.3 1295.5,1452.8 1296.0,1454.3 1296.7,1456.3 1297.3,1457.8 1297.9,1459.3 1298.7,1461.3 1299.4,1462.8 1300.2,1464.8 1300.9,1466.3 1301.6,1467.8 1302.6,1469.8 1303.3,1471.3 1304.0,1472.8 1305.0,1474.8 1305.8,1476.3 1306.5,1477.8 1307.6,1479.8 1308.4,1481.3 1309.5,1483.4 1310.4,1484.9 1311.2,1486.4 1312.4,1488.4 1313.2,1489.9 1314.1,1491.4 1315.1,1493.4 1315.9,1494.9 1316.7,1496.4 1317.7,1498.4 1318.4,1499.9 1319.3,1501.9 1320.0,1503.4 1320.6,1504.9 1321.4,1506.9 1321.9,1508.4 1322.4,1509.9 1323.1,1511.9 1323.5,1513.4 1323.9,1514.9 1324.3,1516.9 1324.6,1518.5 1324.8,1520.0 1325.0,1522.0 1325.0,1523.5 1325.0,1525.5 1324.9,1527.0 1324.8,1528.5 1324.5,1530.5 1324.3,1532.0 1323.9,1533.5 1323.4,1535.5 1323.0,1537.0 1322.5,1538.5 1321.8,1540.5 1321.3,1542.0 1320.4,1544.0 1319.8,1545.5 1319.1,1547.0 1318.2,1549.0 1317.4,1550.5 1316.7,1552.0 1315.6,1554.1 1314.8,1555.6 1314.0,1557.1 1312.9,1559.1 1312.0,1560.6 1311.1,1562.1 1310.0,1564.1 1309.1,1565.6 1308.0,1567.6 1307.1,1569.1 1306.3,1570.6 1305.2,1572.6 1304.4,1574.1 1303.6,1575.6 1302.6,1577.6 1301.9,1579.1 1301.2,1580.6 1300.4,1582.6 1299.7,1584.1 1298.9,1586.1 1298.4,1587.6 1297.8,1589.2 1297.1,1591.2 1296.6,1592.7 1296.0,1594.2 1295.4,1596.2 1294.9,1597.7 1294.4,1599.2 1293.8,1601.2 1293.4,1602.7 1293.0,1604.2 1292.6,1606.2 1292.3,1607.7 1291.9,1609.7 1291.7,1611.2 1291.5,1612.7 1291.2,1614.7 1291.0,1616.2 1290.9,1617.7 1290.7,1619.7 1290.5,1621.2 1290.4,1622.7 1290.2,1624.8 1290.1,1626.3 1289.9,1628.3 1289.8,1629.8 1289.6,1631.3 1289.5,1633.3 1289.4,1634.8 1289.3,1636.3 1289.2,1638.3 1289.1,1639.8 1289.0,1641.3 1288.9,1643.3 1288.9,1644.8 1288.8,1646.8 1288.8,1648.3 1288.7,1649.8 1288.7,1651.8 1288.7,1653.3 1288.6,1654.8 1288.6,1656.8 1288.6,1658.3 1288.6,1659.9 1288.6,1661.9 1288.6,1663.4 1288.6,1664.9 1288.6,1666.9 1288.6,1668.4 1288.6,1670.4 1288.6,1671.9 1288.6,1673.4 1288.6,1675.4 1288.6,1676.9 1286.6,1676.9 1286.6,1675.4 1286.6,1673.4 1286.6,1671.9 1286.6,1670.4 1286.6,1668.4 1286.6,1666.9 1286.6,1664.9 1286.6,1663.4 1286.6,1661.9 1286.6,1659.9 1286.6,1658.3 1286.6,1656.8 1286.6,1654.8 1286.5,1653.3 1286.5,1651.8 1286.5,1649.8 1286.4,1648.3 1286.4,1646.8 1286.3,1644.8 1286.3,1643.3 1286.2,1641.3 1286.1,1639.8 1286.0,1638.3 1285.9,1636.3 1285.8,1634.8 1285.7,1633.3 1285.6,1631.3 1285.4,1629.8 1285.3,1628.3 1285.1,1626.3 1285.0,1624.8 1284.8,1622.7 1284.7,1621.2 1284.5,1619.7 1284.3,1617.7 1284.2,1616.2 1284.0,1614.7 1283.7,1612.7 1283.5,1611.2 1283.3,1609.7 1282.9,1607.7 1282.6,1606.2 1282.2,1604.2 1281.8,1602.7 1281.4,1601.2 1280.8,1599.2 1280.3,1597.7 1279.8,1596.2 1279.2,1594.2 1278.6,1592.7 1278.1,1591.2 1277.4,1589.2 1276.8,1587.6 1276.3,1586.1 1275.5,1584.1 1274.8,1582.6 1274.0,1580.6 1273.3,1579.1 1272.6,1577.6 1271.6,1575.6 1270.8,1574.1 1270.0,1572.6 1268.9,1570.6 1268.1,1569.1 1267.2,1567.6 1266.1,1565.6 1265.2,1564.1 1264.1,1562.1 1263.2,1560.6 1262.3,1559.1 1261.2,1557.1 1260.4,1555.6 1259.6,1554.1 1258.5,1552.0 1257.8,1550.5 1257.0,1549.0 1256.1,1547.0 1255.4,1545.5 1254.8,1544.0 1253.9,1542.0 1253.4,1540.5 1252.7,1538.5 1252.2,1537.0 1251.8,1535.5 1251.3,1533.5 1250.9,1532.0 1250.7,1530.5 1250.4,1528.5 1250.3,1527.0 1250.2,1525.5 1250.2,1523.5 1250.2,1522.0 1250.4,1520.0 1250.6,1518.5 1250.9,1516.9 1251.3,1514.9 1251.7,1513.4 1252.1,1511.9 1252.8,1509.9 1253.3,1508.4 1253.8,1506.9 1254.6,1504.9 1255.2,1503.4 1255.9,1501.9 1256.8,1499.9 1257.5,1498.4 1258.5,1496.4 1259.3,1494.9 1260.1,1493.4 1261.1,1491.4 1262.0,1489.9 1262.8,1488.4 1264.0,1486.4 1264.8,1484.9 1265.7,1483.4 1266.8,1481.3 1267.6,1479.8 1268.7,1477.8 1269.4,1476.3 1270.2,1474.8 1271.2,1472.8 1271.9,1471.3 1272.6,1469.8 1273.6,1467.8 1274.3,1466.3 1275.0,1464.8 1275.8,1462.8 1276.5,1461.3 1277.3,1459.3 1277.9,1457.8 1278.5,1456.3 1279.2,1454.3 1279.7,1452.8 1280.2,1451.3 1280.8,1449.3 1281.2,1447.8 1281.6,1446.2 1282.0,1444.2 1282.4,1442.7 1282.7,1441.2 1283.1,1439.2 1283.4,1437.7 1283.8,1435.7 1284.1,1434.2 1284.4,1432.7 1284.7,1430.7 1284.9,1429.2Z" fill="#8D2DB3" stroke="#111111" stroke-width="2.2" stroke-linejoin="round"/>
<line x1="1287.6" y1="1449.3" x2="1287.6" y2="1602.8" stroke="#111111" stroke-width="2.0" stroke-linecap="butt"/>
<rect x="1284.5" y="1506.2" width="6.2" height="39.6" fill="#111111"/>
<circle cx="1287.6" cy="1526.1" r="7" fill="#fff"/>
<path d="M1395.1,1417.7 1395.4,1419.2 1396.1,1421.2 1396.6,1422.7 1397.1,1424.2 1397.8,1426.2 1398.4,1427.7 1398.9,1429.2 1399.7,1431.2 1400.2,1432.7 1401.0,1434.7 1401.6,1436.3 1402.2,1437.8 1403.0,1439.8 1403.6,1441.3 1404.3,1442.8 1405.1,1444.8 1405.7,1446.3 1406.4,1447.8 1407.2,1449.8 1407.9,1451.3 1408.5,1452.8 1409.4,1454.8 1410.0,1456.3 1410.6,1457.8 1411.4,1459.8 1412.0,1461.3 1412.5,1462.8 1413.2,1464.8 1413.7,1466.3 1414.4,1468.3 1414.8,1469.9 1415.2,1471.4 1415.8,1473.4 1416.1,1474.9 1416.5,1476.4 1416.9,1478.4 1417.2,1479.9 1417.5,1481.4 1417.9,1483.4 1418.2,1484.9 1418.4,1486.4 1418.7,1488.4 1418.9,1489.9 1419.1,1491.4 1419.4,1493.4 1419.5,1494.9 1419.6,1496.9 1419.7,1498.4 1419.8,1499.9 1419.8,1501.9 1419.8,1503.4 1419.7,1505.0 1419.6,1507.0 1419.5,1508.5 1419.3,1510.0 1419.1,1512.0 1419.0,1513.5 1418.8,1515.0 1418.5,1517.0 1418.3,1518.5 1418.1,1520.0 1417.8,1522.0 1417.6,1523.5 1417.4,1525.0 1417.1,1527.0 1416.9,1528.5 1416.6,1530.5 1416.4,1532.0 1416.1,1533.5 1415.8,1535.5 1415.6,1537.0 1415.3,1538.5 1414.9,1540.6 1414.6,1542.1 1414.4,1543.6 1414.0,1545.6 1413.7,1547.1 1413.4,1548.6 1412.9,1550.6 1412.6,1552.1 1412.3,1553.6 1411.9,1555.6 1411.6,1557.1 1411.2,1559.1 1410.9,1560.6 1410.6,1562.1 1410.2,1564.1 1409.9,1565.6 1409.6,1567.1 1409.2,1569.1 1408.9,1570.6 1408.6,1572.1 1408.2,1574.2 1407.9,1575.7 1407.5,1577.2 1407.1,1579.2 1406.7,1580.7 1406.4,1582.2 1405.9,1584.2 1405.5,1585.7 1405.1,1587.2 1404.6,1589.2 1404.2,1590.7 1403.7,1592.7 1403.3,1594.2 1402.9,1595.7 1402.4,1597.7 1402.0,1599.2 1401.6,1600.7 1401.0,1602.7 1400.7,1604.2 1400.3,1605.7 1399.8,1607.8 1399.4,1609.3 1399.1,1610.8 1398.6,1612.8 1398.3,1614.3 1398.0,1615.8 1397.6,1617.8 1397.3,1619.3 1396.9,1621.3 1396.7,1622.8 1396.4,1624.3 1396.1,1626.3 1395.9,1627.8 1395.7,1629.3 1395.5,1631.3 1395.4,1632.8 1395.2,1634.3 1395.1,1636.3 1395.0,1637.8 1394.9,1639.3 1394.7,1641.3 1394.7,1642.9 1394.6,1644.4 1394.5,1646.4 1394.5,1647.9 1394.4,1649.4 1394.4,1651.4 1394.3,1652.9 1394.3,1654.9 1394.2,1656.4 1394.2,1657.9 1394.1,1659.9 1394.1,1661.4 1394.1,1662.9 1394.0,1664.9 1394.0,1666.4 1394.0,1667.9 1394.0,1669.9 1394.0,1671.4 1394.0,1672.9 1393.9,1674.9 1393.9,1676.4 1393.9,1678.0 1393.9,1680.0 1393.8,1681.5 1393.8,1683.5 1393.7,1685.0 1393.6,1686.5 1393.5,1688.5 1393.4,1690.0 1393.2,1691.5 1393.0,1693.5 1392.9,1695.0 1392.7,1696.5 1392.5,1698.5 1392.4,1700.0 1392.2,1701.5 1392.0,1703.5 1391.8,1705.0 1391.7,1706.5 1391.4,1708.5 1391.3,1710.0 1391.2,1711.6 1391.0,1713.6 1390.8,1715.1 1390.7,1717.1 1390.6,1718.6 1390.4,1720.1 1390.3,1722.1 1390.2,1723.6 1390.1,1725.1 1389.9,1727.1 1389.8,1728.6 1374.6,1728.6 1374.5,1727.1 1374.3,1725.1 1374.2,1723.6 1374.1,1722.1 1374.0,1720.1 1373.8,1718.6 1373.7,1717.1 1373.6,1715.1 1373.4,1713.6 1373.2,1711.6 1373.1,1710.0 1373.0,1708.5 1372.7,1706.5 1372.6,1705.0 1372.4,1703.5 1372.2,1701.5 1372.0,1700.0 1371.9,1698.5 1371.7,1696.5 1371.5,1695.0 1371.4,1693.5 1371.2,1691.5 1371.0,1690.0 1370.9,1688.5 1370.8,1686.5 1370.7,1685.0 1370.6,1683.5 1370.6,1681.5 1370.5,1680.0 1370.5,1678.0 1370.5,1676.4 1370.5,1674.9 1370.4,1672.9 1370.4,1671.4 1370.4,1669.9 1370.4,1667.9 1370.4,1666.4 1370.4,1664.9 1370.3,1662.9 1370.3,1661.4 1370.3,1659.9 1370.2,1657.9 1370.2,1656.4 1370.1,1654.9 1370.1,1652.9 1370.0,1651.4 1370.0,1649.4 1369.9,1647.9 1369.9,1646.4 1369.8,1644.4 1369.7,1642.9 1369.7,1641.3 1369.5,1639.3 1369.4,1637.8 1369.3,1636.3 1369.2,1634.3 1369.0,1632.8 1368.9,1631.3 1368.7,1629.3 1368.5,1627.8 1368.3,1626.3 1368.0,1624.3 1367.7,1622.8 1367.5,1621.3 1367.1,1619.3 1366.8,1617.8 1366.4,1615.8 1366.1,1614.3 1365.8,1612.8 1365.3,1610.8 1365.0,1609.3 1364.6,1607.8 1364.1,1605.7 1363.7,1604.2 1363.4,1602.7 1362.8,1600.7 1362.4,1599.2 1362.0,1597.7 1361.5,1595.7 1361.1,1594.2 1360.7,1592.7 1360.2,1590.7 1359.8,1589.2 1359.3,1587.2 1358.9,1585.7 1358.5,1584.2 1358.0,1582.2 1357.7,1580.7 1357.3,1579.2 1356.9,1577.2 1356.5,1575.7 1356.2,1574.2 1355.8,1572.1 1355.5,1570.6 1355.2,1569.1 1354.8,1567.1 1354.5,1565.6 1354.2,1564.1 1353.8,1562.1 1353.5,1560.6 1353.2,1559.1 1352.8,1557.1 1352.5,1555.6 1352.1,1553.6 1351.8,1552.1 1351.5,1550.6 1351.0,1548.6 1350.7,1547.1 1350.4,1545.6 1350.0,1543.6 1349.8,1542.1 1349.5,1540.6 1349.1,1538.5 1348.8,1537.0 1348.6,1535.5 1348.3,1533.5 1348.0,1532.0 1347.8,1530.5 1347.5,1528.5 1347.3,1527.0 1347.0,1525.0 1346.8,1523.5 1346.6,1522.0 1346.3,1520.0 1346.1,1518.5 1345.9,1517.0 1345.6,1515.0 1345.4,1513.5 1345.3,1512.0 1345.1,1510.0 1344.9,1508.5 1344.8,1507.0 1344.7,1505.0 1344.6,1503.4 1344.6,1501.9 1344.6,1499.9 1344.7,1498.4 1344.8,1496.9 1344.9,1494.9 1345.0,1493.4 1345.3,1491.4 1345.5,1489.9 1345.7,1488.4 1346.0,1486.4 1346.2,1484.9 1346.5,1483.4 1346.9,1481.4 1347.2,1479.9 1347.5,1478.4 1347.9,1476.4 1348.3,1474.9 1348.6,1473.4 1349.2,1471.4 1349.6,1469.9 1350.0,1468.3 1350.7,1466.3 1351.2,1464.8 1351.9,1462.8 1352.4,1461.3 1353.0,1459.8 1353.8,1457.8 1354.4,1456.3 1355.0,1454.8 1355.9,1452.8 1356.5,1451.3 1357.2,1449.8 1358.0,1447.8 1358.7,1446.3 1359.3,1444.8 1360.1,1442.8 1360.8,1441.3 1361.4,1439.8 1362.2,1437.8 1362.8,1436.3 1363.4,1434.7 1364.2,1432.7 1364.7,1431.2 1365.5,1429.2 1366.0,1427.7 1366.6,1426.2 1367.3,1424.2 1367.8,1422.7 1368.3,1421.2 1369.0,1419.2 1369.3,1417.7Z" fill="#F29200" stroke="#111111" stroke-width="2.2" stroke-linejoin="round"/>
<line x1="1382.2" y1="1417.7" x2="1382.2" y2="1722.1" stroke="#111111" stroke-width="2.0" stroke-linecap="butt"/>
<rect x="1379.1" y="1488.4" width="6.2" height="94.1" fill="#111111"/>
<circle cx="1382.2" cy="1526.6" r="7" fill="#fff"/>
<path d="M1486.2,1505.5 1486.5,1507.0 1487.0,1509.0 1487.5,1510.5 1488.0,1512.0 1488.7,1514.0 1489.2,1515.6 1489.9,1517.1 1490.7,1519.1 1491.5,1520.6 1492.5,1522.6 1493.3,1524.1 1494.2,1525.6 1495.4,1527.6 1496.4,1529.1 1497.4,1530.6 1498.8,1532.6 1499.9,1534.2 1501.0,1535.7 1502.5,1537.7 1503.6,1539.2 1504.7,1540.7 1506.2,1542.7 1507.2,1544.2 1508.2,1545.7 1509.5,1547.7 1510.4,1549.2 1511.4,1551.2 1512.1,1552.8 1512.8,1554.3 1513.5,1556.3 1514.0,1557.8 1514.4,1559.3 1514.8,1561.3 1515.0,1562.8 1515.1,1564.3 1515.1,1566.3 1514.9,1567.8 1514.7,1569.3 1514.2,1571.4 1513.8,1572.9 1513.4,1574.4 1512.7,1576.4 1512.2,1577.9 1511.4,1579.9 1510.9,1581.4 1510.4,1582.9 1509.7,1584.9 1509.2,1586.4 1508.8,1587.9 1508.3,1590.0 1507.9,1591.5 1507.6,1593.0 1507.3,1595.0 1507.1,1596.5 1506.9,1598.0 1506.7,1600.0 1506.5,1601.5 1506.4,1603.5 1506.2,1605.0 1506.0,1606.5 1505.8,1608.6 1505.6,1610.1 1505.4,1611.6 1505.0,1613.6 1504.7,1615.1 1504.4,1616.6 1503.9,1618.6 1503.5,1620.1 1503.1,1621.6 1502.4,1623.6 1501.9,1625.1 1501.3,1626.7 1500.5,1628.7 1499.8,1630.2 1498.9,1632.2 1498.2,1633.7 1497.5,1635.2 1496.6,1637.2 1495.9,1638.7 1495.2,1640.2 1494.3,1642.2 1493.6,1643.7 1492.9,1645.3 1492.0,1647.3 1491.3,1648.8 1490.6,1650.3 1489.6,1652.3 1489.0,1653.8 1488.3,1655.3 1487.5,1657.3 1486.9,1658.8 1486.1,1660.8 1485.6,1662.3 1485.1,1663.9 1484.5,1665.9 1484.0,1667.4 1483.6,1668.9 1483.1,1670.9 1482.8,1672.4 1470.4,1672.4 1470.1,1670.9 1469.6,1668.9 1469.2,1667.4 1468.7,1665.9 1468.1,1663.9 1467.6,1662.3 1467.1,1660.8 1466.3,1658.8 1465.7,1657.3 1464.9,1655.3 1464.2,1653.8 1463.6,1652.3 1462.6,1650.3 1461.9,1648.8 1461.2,1647.3 1460.3,1645.3 1459.6,1643.7 1458.9,1642.2 1458.0,1640.2 1457.3,1638.7 1456.6,1637.2 1455.7,1635.2 1455.0,1633.7 1454.3,1632.2 1453.4,1630.2 1452.7,1628.7 1451.9,1626.7 1451.3,1625.1 1450.8,1623.6 1450.1,1621.6 1449.7,1620.1 1449.3,1618.6 1448.8,1616.6 1448.5,1615.1 1448.2,1613.6 1447.8,1611.6 1447.6,1610.1 1447.4,1608.6 1447.2,1606.5 1447.0,1605.0 1446.8,1603.5 1446.7,1601.5 1446.5,1600.0 1446.3,1598.0 1446.1,1596.5 1445.9,1595.0 1445.6,1593.0 1445.3,1591.5 1444.9,1590.0 1444.4,1587.9 1444.0,1586.4 1443.5,1584.9 1442.8,1582.9 1442.3,1581.4 1441.8,1579.9 1441.0,1577.9 1440.5,1576.4 1439.8,1574.4 1439.4,1572.9 1439.0,1571.4 1438.5,1569.3 1438.3,1567.8 1438.1,1566.3 1438.1,1564.3 1438.2,1562.8 1438.4,1561.3 1438.8,1559.3 1439.2,1557.8 1439.7,1556.3 1440.4,1554.3 1441.1,1552.8 1441.8,1551.2 1442.8,1549.2 1443.7,1547.7 1445.0,1545.7 1446.0,1544.2 1447.0,1542.7 1448.5,1540.7 1449.6,1539.2 1450.7,1537.7 1452.2,1535.7 1453.3,1534.2 1454.4,1532.6 1455.8,1530.6 1456.8,1529.1 1457.8,1527.6 1459.0,1525.6 1459.9,1524.1 1460.7,1522.6 1461.7,1520.6 1462.5,1519.1 1463.3,1517.1 1464.0,1515.6 1464.5,1514.0 1465.2,1512.0 1465.7,1510.5 1466.2,1509.0 1466.7,1507.0 1467.0,1505.5Z" fill="#E2DF00" stroke="#111111" stroke-width="2.2" stroke-linejoin="round"/>
<line x1="1476.6" y1="1505.5" x2="1476.6" y2="1672.4" stroke="#111111" stroke-width="2.0" stroke-linecap="butt"/>
<rect x="1473.5" y="1555.4" width="6.2" height="59.8" fill="#111111"/>
<circle cx="1476.6" cy="1579" r="7" fill="#fff"/>
<rect x="1130.7" y="1404" width="409.4" height="337.5" fill="none" stroke="#111111" stroke-width="3"/>
<text x="1165.8" y="1721.5" font-size="36" font-weight="bold" text-anchor="start" fill="#111111">EnFs</text>
<text x="142.0" y="1320.5" font-size="36" font-weight="bold" fill="#111111">Al<tspan font-size="22" dy="-13">IV</tspan><tspan dy="13"> (a.p.f.u.)</tspan></text></svg></body></html>
